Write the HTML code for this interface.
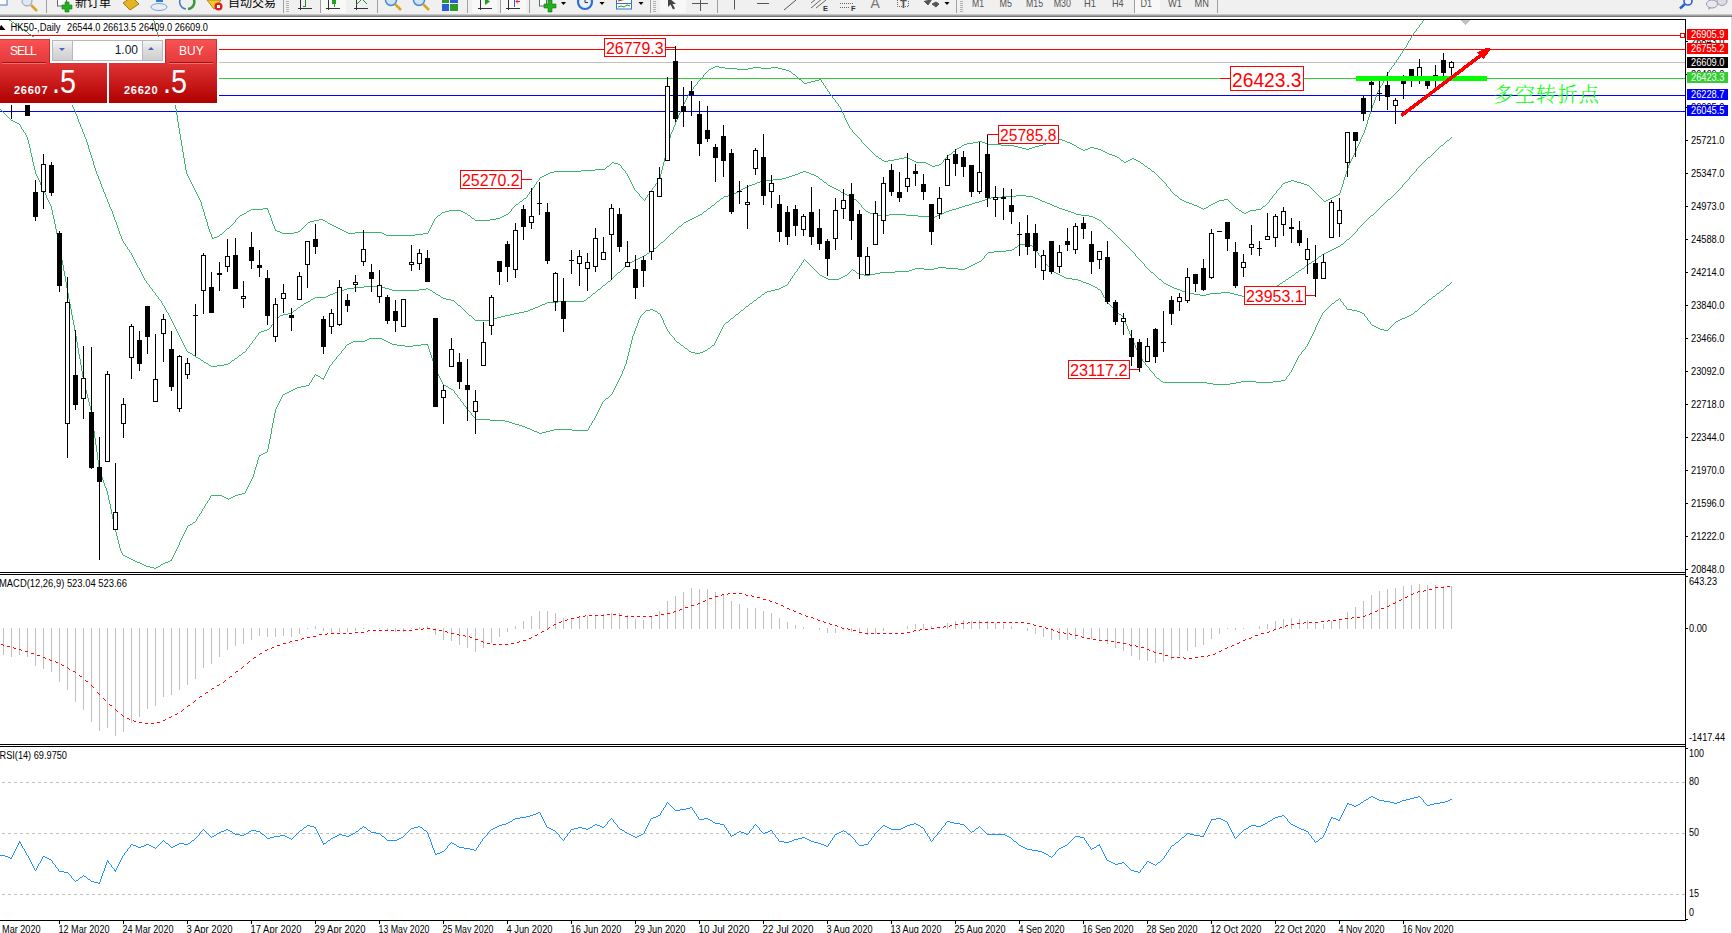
<!DOCTYPE html>
<html><head><meta charset="utf-8"><title>HK50 Daily</title>
<style>
html,body{margin:0;padding:0;background:#fff;}
body{width:1732px;height:933px;overflow:hidden;position:relative;font-family:"Liberation Sans", sans-serif;}
#tb{position:absolute;left:0;top:0;width:1732px;height:14px;background:#f0f0f0;overflow:hidden;}
#tbb{position:absolute;left:0;top:14px;width:1732px;height:3px;background:linear-gradient(#d9d9d9,#a0a0a0 50%,#646464);}
#chart{position:absolute;left:0;top:0;}
#chart text{font-family:"Liberation Sans", sans-serif;}
.tf{position:absolute;top:-4px;font-size:11px;color:#5a5a5a;line-height:11px;}
.sep{position:absolute;top:0;width:1px;height:13px;background:#a0a0a0;}
.cn{position:absolute;top:-3.5px;font-size:12px;line-height:13px;color:#000;font-family:"Liberation Sans","Noto Sans CJK SC",sans-serif;}
#panel{position:absolute;left:0;top:39px;width:217px;height:64px;}
#panel div{position:absolute;box-sizing:border-box;}
.btn{background:linear-gradient(#fa5252,#e23a3a);color:#fff;font-size:12px;}
.px{background:linear-gradient(#e03535,#c81a1a 50%,#b00000);color:#fff;}
</style></head><body>
<div id="tb">
<span class="cn" style="left:75px">新订单</span>
<span class="cn" style="left:228px">自动交易</span>
<div class="sep" style="left:46px"></div>
<div class="sep" style="left:283px"></div>
<div class="sep" style="left:320px"></div>
<div class="sep" style="left:377px"></div>
<div class="sep" style="left:467px"></div>
<div class="sep" style="left:500px"></div>
<div class="sep" style="left:529px"></div>
<div class="sep" style="left:650px"></div>
<div class="sep" style="left:717px"></div>
<div class="sep" style="left:956px"></div>
<div class="sep" style="left:1134px"></div>
<div class="sep" style="left:1217px"></div>
<div style="position:absolute;left:321px;top:0;width:25px;height:13px;background:#f8f8f8"></div>
<div style="position:absolute;left:472px;top:0;width:25px;height:13px;background:#f8f8f8"></div>
<div style="position:absolute;left:501px;top:0;width:25px;height:13px;background:#f8f8f8"></div>
<div style="position:absolute;left:660px;top:0;width:26px;height:13px;background:#f8f8f8"></div>
<div style="position:absolute;left:1135px;top:0;width:25px;height:13px;background:#f8f8f8"></div>
<svg style="position:absolute;left:0;top:0" width="1732" height="14" viewBox="0 0 1732 14">
<rect x="-2" y="-3" width="9" height="8" fill="#fff" stroke="#4a78c8"/>
<circle cx="27" cy="1" r="5" fill="#dfe9f5" stroke="#8c9cb0"/><line x1="31" y1="5" x2="37" y2="11" stroke="#d9a520" stroke-width="2.5"/>
<rect x="57.5" y="-3" width="9" height="9" fill="#fff" stroke="#666"/><path d="M62 5h3v-3h4v3h3v4h-3v3h-4v-3h-3z" fill="#22b022" stroke="#0d7a0d" stroke-width=".6"/>
<polygon points="123,3 132,-3 139,4 130,10" fill="#e6b422" stroke="#a97a10"/>
<rect x="156" y="-3" width="7" height="5" fill="#2b7bd9"/><ellipse cx="159" cy="7" rx="8" ry="3.5" fill="#e8eef8" stroke="#7f9fc8"/>
<path d="M181 -2a7 7 0 0 0 5 11" fill="none" stroke="#4a78c8" stroke-width="1.5"/><path d="M193 -2a7 7 0 0 1 -5 11" fill="none" stroke="#3a9a3a" stroke-width="2.5"/>
<polygon points="207,0 221,0 214,9" fill="#f0c830" stroke="#b08a10"/><circle cx="218.5" cy="6.5" r="4" fill="#e02020"/><rect x="217" y="5" width="3" height="3" fill="#fff"/>
<line x1="287.5" y1="1" x2="287.5" y2="12" stroke="#b0b0b0" stroke-width="3" stroke-dasharray="1 1"/>
<line x1="654.5" y1="1" x2="654.5" y2="12" stroke="#b0b0b0" stroke-width="3" stroke-dasharray="1 1"/>
<line x1="961.5" y1="1" x2="961.5" y2="12" stroke="#b0b0b0" stroke-width="3" stroke-dasharray="1 1"/>
<path d="M300.5 -2V10M298 8.5H312" stroke="#333" fill="none"/><path d="M305.5 -2V6M303 6.5h3" stroke="#2a8a2a" fill="none"/>
<path d="M328.5 -2V10M326 8.5H340" stroke="#333" fill="none"/><rect x="332" y="-2" width="4" height="6" fill="#22a022"/><line x1="334.5" y1="4" x2="334.5" y2="7" stroke="#22a022"/>
<path d="M356.5 -2V10M354 8.5H368" stroke="#333" fill="none"/><path d="M356 5L362 -1L367 4" stroke="#2a8a2a" fill="none"/>
<circle cx="391" cy="0" r="5.5" fill="#cfe2f7" stroke="#4a8ad0" stroke-width="1.5"/><line x1="395" y1="4" x2="401" y2="10" stroke="#d9a520" stroke-width="2.5"/>
<circle cx="419" cy="0" r="5.5" fill="#cfe2f7" stroke="#4a8ad0" stroke-width="1.5"/><line x1="423" y1="4" x2="429" y2="10" stroke="#d9a520" stroke-width="2.5"/>
<rect x="442" y="-2" width="7" height="5" fill="#2d9a2d"/><rect x="450" y="-2" width="8" height="5" fill="#2b5fd0"/><rect x="442" y="4" width="7" height="7" fill="#2b5fd0"/><rect x="450" y="4" width="8" height="7" fill="#2d9a2d"/>
<path d="M480.5 -2V10M478 8.5H492" stroke="#333" fill="none"/><polygon points="485,-2 485,5 490,1.5" fill="#22a022"/>
<path d="M508.5 -2V10M506 8.5H520" stroke="#333" fill="none"/><path d="M514.5 -2V7" stroke="#2b5fd0"/><path d="M520 1.5h-4m2-2l-2 2l2 2" stroke="#e02020" fill="none"/>
<rect x="539.5" y="-3" width="7" height="9" fill="#fff" stroke="#666"/><path d="M544 4h4v-4h4v4h4v4h-4v4h-4v-4h-4z" fill="#22b022" stroke="#0d7a0d" stroke-width=".6"/>
<polygon points="561.0,2 566.0,2 563.5,5" fill="#000"/>
<polygon points="599.5,2 604.5,2 602,5" fill="#000"/>
<polygon points="638.5,2 643.5,2 641,5" fill="#000"/>
<polygon points="944.5,2 949.5,2 947,5" fill="#000"/>
<circle cx="585" cy="2" r="7" fill="#e8f0fa" stroke="#2b6fd0" stroke-width="2.2"/><path d="M585 -2V2.5H588" stroke="#333" fill="none"/>
<rect x="616.5" y="-3" width="15" height="12" fill="#fff" stroke="#3b6fc8"/><path d="M618 1l4-1l4-1l4-1" stroke="#a03020" fill="none"/><path d="M618 7l3-1l3 1l3-2l3 1" stroke="#22a022" fill="none"/><line x1="617" y1="3.5" x2="631" y2="3.5" stroke="#3b6fc8"/>
<polygon points="668,-3 668,7 670.5,4.5 673,9.5 675,8.5 672.5,4 676,4" fill="#444"/>
<path d="M692 3.5H708M700.5 -2V11" stroke="#555" fill="none"/>
<path d="M734.5 -2V9.5" stroke="#555"/><path d="M757 3.5H769" stroke="#555"/><path d="M796 0L784 10" stroke="#555"/>
<path d="M811 8L823 -2M811 3L820 -4M816 8L826 0" stroke="#666" fill="none"/>
<path d="M840 3.5H853M840 7.5H849" stroke="#666" stroke-dasharray="1 1"/>
<path d="M897.5 -2V6.5H908.5V-2" stroke="#666" fill="none" stroke-dasharray="1 1"/>
<path d="M924 1l4 4l4-6M932 4l4 3l3-3l-3-2z" stroke="#555" fill="#555" stroke-width="1"/>
<circle cx="1688" cy="1" r="4" fill="none" stroke="#2b5fd0" stroke-width="1.6"/><line x1="1685" y1="4" x2="1680" y2="8.5" stroke="#2b5fd0" stroke-width="2.5"/>
<ellipse cx="1712" cy="4" rx="5.5" ry="4" fill="#e8e8ee" stroke="#9a9aa8"/><ellipse cx="1722" cy="1" rx="5" ry="4.5" fill="#dcdce6" stroke="#9a9aa8"/><path d="M1709 7l-1 3l3-2z" fill="#9a9aa8"/>
<text x="870.5" y="7.5" font-size="14" fill="#777" font-family='&quot;Liberation Sans&quot;, sans-serif'>A</text>
<text x="900" y="7.5" font-size="11" fill="#555" font-weight="bold" font-family='&quot;Liberation Sans&quot;, sans-serif'>T</text>
<text x="823" y="11" font-size="7.5" fill="#333" font-weight="bold" font-family='&quot;Liberation Sans&quot;, sans-serif'>E</text>
<text x="851" y="11" font-size="7.5" fill="#333" font-weight="bold" font-family='&quot;Liberation Sans&quot;, sans-serif'>F</text>
<text x="972" y="6.8" font-size="11" fill="#555" textLength="12" lengthAdjust="spacingAndGlyphs" font-family='&quot;Liberation Sans&quot;, sans-serif'>M1</text>
<text x="999.6" y="6.8" font-size="11" fill="#555" textLength="12.4" lengthAdjust="spacingAndGlyphs" font-family='&quot;Liberation Sans&quot;, sans-serif'>M5</text>
<text x="1026" y="6.8" font-size="11" fill="#555" textLength="17" lengthAdjust="spacingAndGlyphs" font-family='&quot;Liberation Sans&quot;, sans-serif'>M15</text>
<text x="1053.7" y="6.8" font-size="11" fill="#555" textLength="17.3" lengthAdjust="spacingAndGlyphs" font-family='&quot;Liberation Sans&quot;, sans-serif'>M30</text>
<text x="1084" y="6.8" font-size="11" fill="#555" textLength="12" lengthAdjust="spacingAndGlyphs" font-family='&quot;Liberation Sans&quot;, sans-serif'>H1</text>
<text x="1112" y="6.8" font-size="11" fill="#555" textLength="11.7" lengthAdjust="spacingAndGlyphs" font-family='&quot;Liberation Sans&quot;, sans-serif'>H4</text>
<text x="1140.5" y="6.8" font-size="11" fill="#555" textLength="11.5" lengthAdjust="spacingAndGlyphs" font-family='&quot;Liberation Sans&quot;, sans-serif'>D1</text>
<text x="1168" y="6.8" font-size="11" fill="#555" textLength="14" lengthAdjust="spacingAndGlyphs" font-family='&quot;Liberation Sans&quot;, sans-serif'>W1</text>
<text x="1194.6" y="6.8" font-size="11" fill="#555" textLength="14.4" lengthAdjust="spacingAndGlyphs" font-family='&quot;Liberation Sans&quot;, sans-serif'>MN</text>
</svg>
</div>
<div id="tbb"></div>
<svg id="chart" width="1732" height="933" viewBox="0 0 1732 933">
<g shape-rendering="crispEdges">
<rect x="0" y="35" width="1685" height="1" fill="#ff0000"/>
<rect x="0" y="49" width="1685" height="1" fill="#ff0000"/>
<rect x="0" y="62" width="1685" height="1" fill="#c0c0c0"/>
<rect x="0" y="78" width="1685" height="1" fill="#32cd32"/>
<rect x="0" y="95" width="1685" height="1" fill="#0000ff"/>
<rect x="0" y="111" width="1685" height="1" fill="#0000ff"/>
<path d="M2 782h3v1h-3zM8 782h3v1h-3zM14 782h3v1h-3zM20 782h3v1h-3zM26 782h3v1h-3zM32 782h3v1h-3zM38 782h3v1h-3zM44 782h3v1h-3zM50 782h3v1h-3zM56 782h3v1h-3zM62 782h3v1h-3zM68 782h3v1h-3zM74 782h3v1h-3zM80 782h3v1h-3zM86 782h3v1h-3zM92 782h3v1h-3zM98 782h3v1h-3zM104 782h3v1h-3zM110 782h3v1h-3zM116 782h3v1h-3zM122 782h3v1h-3zM128 782h3v1h-3zM134 782h3v1h-3zM140 782h3v1h-3zM146 782h3v1h-3zM152 782h3v1h-3zM158 782h3v1h-3zM164 782h3v1h-3zM170 782h3v1h-3zM176 782h3v1h-3zM182 782h3v1h-3zM188 782h3v1h-3zM194 782h3v1h-3zM200 782h3v1h-3zM206 782h3v1h-3zM212 782h3v1h-3zM218 782h3v1h-3zM224 782h3v1h-3zM230 782h3v1h-3zM236 782h3v1h-3zM242 782h3v1h-3zM248 782h3v1h-3zM254 782h3v1h-3zM260 782h3v1h-3zM266 782h3v1h-3zM272 782h3v1h-3zM278 782h3v1h-3zM284 782h3v1h-3zM290 782h3v1h-3zM296 782h3v1h-3zM302 782h3v1h-3zM308 782h3v1h-3zM314 782h3v1h-3zM320 782h3v1h-3zM326 782h3v1h-3zM332 782h3v1h-3zM338 782h3v1h-3zM344 782h3v1h-3zM350 782h3v1h-3zM356 782h3v1h-3zM362 782h3v1h-3zM368 782h3v1h-3zM374 782h3v1h-3zM380 782h3v1h-3zM386 782h3v1h-3zM392 782h3v1h-3zM398 782h3v1h-3zM404 782h3v1h-3zM410 782h3v1h-3zM416 782h3v1h-3zM422 782h3v1h-3zM428 782h3v1h-3zM434 782h3v1h-3zM440 782h3v1h-3zM446 782h3v1h-3zM452 782h3v1h-3zM458 782h3v1h-3zM464 782h3v1h-3zM470 782h3v1h-3zM476 782h3v1h-3zM482 782h3v1h-3zM488 782h3v1h-3zM494 782h3v1h-3zM500 782h3v1h-3zM506 782h3v1h-3zM512 782h3v1h-3zM518 782h3v1h-3zM524 782h3v1h-3zM530 782h3v1h-3zM536 782h3v1h-3zM542 782h3v1h-3zM548 782h3v1h-3zM554 782h3v1h-3zM560 782h3v1h-3zM566 782h3v1h-3zM572 782h3v1h-3zM578 782h3v1h-3zM584 782h3v1h-3zM590 782h3v1h-3zM596 782h3v1h-3zM602 782h3v1h-3zM608 782h3v1h-3zM614 782h3v1h-3zM620 782h3v1h-3zM626 782h3v1h-3zM632 782h3v1h-3zM638 782h3v1h-3zM644 782h3v1h-3zM650 782h3v1h-3zM656 782h3v1h-3zM662 782h3v1h-3zM668 782h3v1h-3zM674 782h3v1h-3zM680 782h3v1h-3zM686 782h3v1h-3zM692 782h3v1h-3zM698 782h3v1h-3zM704 782h3v1h-3zM710 782h3v1h-3zM716 782h3v1h-3zM722 782h3v1h-3zM728 782h3v1h-3zM734 782h3v1h-3zM740 782h3v1h-3zM746 782h3v1h-3zM752 782h3v1h-3zM758 782h3v1h-3zM764 782h3v1h-3zM770 782h3v1h-3zM776 782h3v1h-3zM782 782h3v1h-3zM788 782h3v1h-3zM794 782h3v1h-3zM800 782h3v1h-3zM806 782h3v1h-3zM812 782h3v1h-3zM818 782h3v1h-3zM824 782h3v1h-3zM830 782h3v1h-3zM836 782h3v1h-3zM842 782h3v1h-3zM848 782h3v1h-3zM854 782h3v1h-3zM860 782h3v1h-3zM866 782h3v1h-3zM872 782h3v1h-3zM878 782h3v1h-3zM884 782h3v1h-3zM890 782h3v1h-3zM896 782h3v1h-3zM902 782h3v1h-3zM908 782h3v1h-3zM914 782h3v1h-3zM920 782h3v1h-3zM926 782h3v1h-3zM932 782h3v1h-3zM938 782h3v1h-3zM944 782h3v1h-3zM950 782h3v1h-3zM956 782h3v1h-3zM962 782h3v1h-3zM968 782h3v1h-3zM974 782h3v1h-3zM980 782h3v1h-3zM986 782h3v1h-3zM992 782h3v1h-3zM998 782h3v1h-3zM1004 782h3v1h-3zM1010 782h3v1h-3zM1016 782h3v1h-3zM1022 782h3v1h-3zM1028 782h3v1h-3zM1034 782h3v1h-3zM1040 782h3v1h-3zM1046 782h3v1h-3zM1052 782h3v1h-3zM1058 782h3v1h-3zM1064 782h3v1h-3zM1070 782h3v1h-3zM1076 782h3v1h-3zM1082 782h3v1h-3zM1088 782h3v1h-3zM1094 782h3v1h-3zM1100 782h3v1h-3zM1106 782h3v1h-3zM1112 782h3v1h-3zM1118 782h3v1h-3zM1124 782h3v1h-3zM1130 782h3v1h-3zM1136 782h3v1h-3zM1142 782h3v1h-3zM1148 782h3v1h-3zM1154 782h3v1h-3zM1160 782h3v1h-3zM1166 782h3v1h-3zM1172 782h3v1h-3zM1178 782h3v1h-3zM1184 782h3v1h-3zM1190 782h3v1h-3zM1196 782h3v1h-3zM1202 782h3v1h-3zM1208 782h3v1h-3zM1214 782h3v1h-3zM1220 782h3v1h-3zM1226 782h3v1h-3zM1232 782h3v1h-3zM1238 782h3v1h-3zM1244 782h3v1h-3zM1250 782h3v1h-3zM1256 782h3v1h-3zM1262 782h3v1h-3zM1268 782h3v1h-3zM1274 782h3v1h-3zM1280 782h3v1h-3zM1286 782h3v1h-3zM1292 782h3v1h-3zM1298 782h3v1h-3zM1304 782h3v1h-3zM1310 782h3v1h-3zM1316 782h3v1h-3zM1322 782h3v1h-3zM1328 782h3v1h-3zM1334 782h3v1h-3zM1340 782h3v1h-3zM1346 782h3v1h-3zM1352 782h3v1h-3zM1358 782h3v1h-3zM1364 782h3v1h-3zM1370 782h3v1h-3zM1376 782h3v1h-3zM1382 782h3v1h-3zM1388 782h3v1h-3zM1394 782h3v1h-3zM1400 782h3v1h-3zM1406 782h3v1h-3zM1412 782h3v1h-3zM1418 782h3v1h-3zM1424 782h3v1h-3zM1430 782h3v1h-3zM1436 782h3v1h-3zM1442 782h3v1h-3zM1448 782h3v1h-3zM1454 782h3v1h-3zM1460 782h3v1h-3zM1466 782h3v1h-3zM1472 782h3v1h-3zM1478 782h3v1h-3zM1484 782h3v1h-3zM1490 782h3v1h-3zM1496 782h3v1h-3zM1502 782h3v1h-3zM1508 782h3v1h-3zM1514 782h3v1h-3zM1520 782h3v1h-3zM1526 782h3v1h-3zM1532 782h3v1h-3zM1538 782h3v1h-3zM1544 782h3v1h-3zM1550 782h3v1h-3zM1556 782h3v1h-3zM1562 782h3v1h-3zM1568 782h3v1h-3zM1574 782h3v1h-3zM1580 782h3v1h-3zM1586 782h3v1h-3zM1592 782h3v1h-3zM1598 782h3v1h-3zM1604 782h3v1h-3zM1610 782h3v1h-3zM1616 782h3v1h-3zM1622 782h3v1h-3zM1628 782h3v1h-3zM1634 782h3v1h-3zM1640 782h3v1h-3zM1646 782h3v1h-3zM1652 782h3v1h-3zM1658 782h3v1h-3zM1664 782h3v1h-3zM1670 782h3v1h-3zM1676 782h3v1h-3zM1682 782h3v1h-3z" fill="#c0c0c0"/>
<path d="M2 833h3v1h-3zM8 833h3v1h-3zM14 833h3v1h-3zM20 833h3v1h-3zM26 833h3v1h-3zM32 833h3v1h-3zM38 833h3v1h-3zM44 833h3v1h-3zM50 833h3v1h-3zM56 833h3v1h-3zM62 833h3v1h-3zM68 833h3v1h-3zM74 833h3v1h-3zM80 833h3v1h-3zM86 833h3v1h-3zM92 833h3v1h-3zM98 833h3v1h-3zM104 833h3v1h-3zM110 833h3v1h-3zM116 833h3v1h-3zM122 833h3v1h-3zM128 833h3v1h-3zM134 833h3v1h-3zM140 833h3v1h-3zM146 833h3v1h-3zM152 833h3v1h-3zM158 833h3v1h-3zM164 833h3v1h-3zM170 833h3v1h-3zM176 833h3v1h-3zM182 833h3v1h-3zM188 833h3v1h-3zM194 833h3v1h-3zM200 833h3v1h-3zM206 833h3v1h-3zM212 833h3v1h-3zM218 833h3v1h-3zM224 833h3v1h-3zM230 833h3v1h-3zM236 833h3v1h-3zM242 833h3v1h-3zM248 833h3v1h-3zM254 833h3v1h-3zM260 833h3v1h-3zM266 833h3v1h-3zM272 833h3v1h-3zM278 833h3v1h-3zM284 833h3v1h-3zM290 833h3v1h-3zM296 833h3v1h-3zM302 833h3v1h-3zM308 833h3v1h-3zM314 833h3v1h-3zM320 833h3v1h-3zM326 833h3v1h-3zM332 833h3v1h-3zM338 833h3v1h-3zM344 833h3v1h-3zM350 833h3v1h-3zM356 833h3v1h-3zM362 833h3v1h-3zM368 833h3v1h-3zM374 833h3v1h-3zM380 833h3v1h-3zM386 833h3v1h-3zM392 833h3v1h-3zM398 833h3v1h-3zM404 833h3v1h-3zM410 833h3v1h-3zM416 833h3v1h-3zM422 833h3v1h-3zM428 833h3v1h-3zM434 833h3v1h-3zM440 833h3v1h-3zM446 833h3v1h-3zM452 833h3v1h-3zM458 833h3v1h-3zM464 833h3v1h-3zM470 833h3v1h-3zM476 833h3v1h-3zM482 833h3v1h-3zM488 833h3v1h-3zM494 833h3v1h-3zM500 833h3v1h-3zM506 833h3v1h-3zM512 833h3v1h-3zM518 833h3v1h-3zM524 833h3v1h-3zM530 833h3v1h-3zM536 833h3v1h-3zM542 833h3v1h-3zM548 833h3v1h-3zM554 833h3v1h-3zM560 833h3v1h-3zM566 833h3v1h-3zM572 833h3v1h-3zM578 833h3v1h-3zM584 833h3v1h-3zM590 833h3v1h-3zM596 833h3v1h-3zM602 833h3v1h-3zM608 833h3v1h-3zM614 833h3v1h-3zM620 833h3v1h-3zM626 833h3v1h-3zM632 833h3v1h-3zM638 833h3v1h-3zM644 833h3v1h-3zM650 833h3v1h-3zM656 833h3v1h-3zM662 833h3v1h-3zM668 833h3v1h-3zM674 833h3v1h-3zM680 833h3v1h-3zM686 833h3v1h-3zM692 833h3v1h-3zM698 833h3v1h-3zM704 833h3v1h-3zM710 833h3v1h-3zM716 833h3v1h-3zM722 833h3v1h-3zM728 833h3v1h-3zM734 833h3v1h-3zM740 833h3v1h-3zM746 833h3v1h-3zM752 833h3v1h-3zM758 833h3v1h-3zM764 833h3v1h-3zM770 833h3v1h-3zM776 833h3v1h-3zM782 833h3v1h-3zM788 833h3v1h-3zM794 833h3v1h-3zM800 833h3v1h-3zM806 833h3v1h-3zM812 833h3v1h-3zM818 833h3v1h-3zM824 833h3v1h-3zM830 833h3v1h-3zM836 833h3v1h-3zM842 833h3v1h-3zM848 833h3v1h-3zM854 833h3v1h-3zM860 833h3v1h-3zM866 833h3v1h-3zM872 833h3v1h-3zM878 833h3v1h-3zM884 833h3v1h-3zM890 833h3v1h-3zM896 833h3v1h-3zM902 833h3v1h-3zM908 833h3v1h-3zM914 833h3v1h-3zM920 833h3v1h-3zM926 833h3v1h-3zM932 833h3v1h-3zM938 833h3v1h-3zM944 833h3v1h-3zM950 833h3v1h-3zM956 833h3v1h-3zM962 833h3v1h-3zM968 833h3v1h-3zM974 833h3v1h-3zM980 833h3v1h-3zM986 833h3v1h-3zM992 833h3v1h-3zM998 833h3v1h-3zM1004 833h3v1h-3zM1010 833h3v1h-3zM1016 833h3v1h-3zM1022 833h3v1h-3zM1028 833h3v1h-3zM1034 833h3v1h-3zM1040 833h3v1h-3zM1046 833h3v1h-3zM1052 833h3v1h-3zM1058 833h3v1h-3zM1064 833h3v1h-3zM1070 833h3v1h-3zM1076 833h3v1h-3zM1082 833h3v1h-3zM1088 833h3v1h-3zM1094 833h3v1h-3zM1100 833h3v1h-3zM1106 833h3v1h-3zM1112 833h3v1h-3zM1118 833h3v1h-3zM1124 833h3v1h-3zM1130 833h3v1h-3zM1136 833h3v1h-3zM1142 833h3v1h-3zM1148 833h3v1h-3zM1154 833h3v1h-3zM1160 833h3v1h-3zM1166 833h3v1h-3zM1172 833h3v1h-3zM1178 833h3v1h-3zM1184 833h3v1h-3zM1190 833h3v1h-3zM1196 833h3v1h-3zM1202 833h3v1h-3zM1208 833h3v1h-3zM1214 833h3v1h-3zM1220 833h3v1h-3zM1226 833h3v1h-3zM1232 833h3v1h-3zM1238 833h3v1h-3zM1244 833h3v1h-3zM1250 833h3v1h-3zM1256 833h3v1h-3zM1262 833h3v1h-3zM1268 833h3v1h-3zM1274 833h3v1h-3zM1280 833h3v1h-3zM1286 833h3v1h-3zM1292 833h3v1h-3zM1298 833h3v1h-3zM1304 833h3v1h-3zM1310 833h3v1h-3zM1316 833h3v1h-3zM1322 833h3v1h-3zM1328 833h3v1h-3zM1334 833h3v1h-3zM1340 833h3v1h-3zM1346 833h3v1h-3zM1352 833h3v1h-3zM1358 833h3v1h-3zM1364 833h3v1h-3zM1370 833h3v1h-3zM1376 833h3v1h-3zM1382 833h3v1h-3zM1388 833h3v1h-3zM1394 833h3v1h-3zM1400 833h3v1h-3zM1406 833h3v1h-3zM1412 833h3v1h-3zM1418 833h3v1h-3zM1424 833h3v1h-3zM1430 833h3v1h-3zM1436 833h3v1h-3zM1442 833h3v1h-3zM1448 833h3v1h-3zM1454 833h3v1h-3zM1460 833h3v1h-3zM1466 833h3v1h-3zM1472 833h3v1h-3zM1478 833h3v1h-3zM1484 833h3v1h-3zM1490 833h3v1h-3zM1496 833h3v1h-3zM1502 833h3v1h-3zM1508 833h3v1h-3zM1514 833h3v1h-3zM1520 833h3v1h-3zM1526 833h3v1h-3zM1532 833h3v1h-3zM1538 833h3v1h-3zM1544 833h3v1h-3zM1550 833h3v1h-3zM1556 833h3v1h-3zM1562 833h3v1h-3zM1568 833h3v1h-3zM1574 833h3v1h-3zM1580 833h3v1h-3zM1586 833h3v1h-3zM1592 833h3v1h-3zM1598 833h3v1h-3zM1604 833h3v1h-3zM1610 833h3v1h-3zM1616 833h3v1h-3zM1622 833h3v1h-3zM1628 833h3v1h-3zM1634 833h3v1h-3zM1640 833h3v1h-3zM1646 833h3v1h-3zM1652 833h3v1h-3zM1658 833h3v1h-3zM1664 833h3v1h-3zM1670 833h3v1h-3zM1676 833h3v1h-3zM1682 833h3v1h-3z" fill="#c0c0c0"/>
<path d="M2 894h3v1h-3zM8 894h3v1h-3zM14 894h3v1h-3zM20 894h3v1h-3zM26 894h3v1h-3zM32 894h3v1h-3zM38 894h3v1h-3zM44 894h3v1h-3zM50 894h3v1h-3zM56 894h3v1h-3zM62 894h3v1h-3zM68 894h3v1h-3zM74 894h3v1h-3zM80 894h3v1h-3zM86 894h3v1h-3zM92 894h3v1h-3zM98 894h3v1h-3zM104 894h3v1h-3zM110 894h3v1h-3zM116 894h3v1h-3zM122 894h3v1h-3zM128 894h3v1h-3zM134 894h3v1h-3zM140 894h3v1h-3zM146 894h3v1h-3zM152 894h3v1h-3zM158 894h3v1h-3zM164 894h3v1h-3zM170 894h3v1h-3zM176 894h3v1h-3zM182 894h3v1h-3zM188 894h3v1h-3zM194 894h3v1h-3zM200 894h3v1h-3zM206 894h3v1h-3zM212 894h3v1h-3zM218 894h3v1h-3zM224 894h3v1h-3zM230 894h3v1h-3zM236 894h3v1h-3zM242 894h3v1h-3zM248 894h3v1h-3zM254 894h3v1h-3zM260 894h3v1h-3zM266 894h3v1h-3zM272 894h3v1h-3zM278 894h3v1h-3zM284 894h3v1h-3zM290 894h3v1h-3zM296 894h3v1h-3zM302 894h3v1h-3zM308 894h3v1h-3zM314 894h3v1h-3zM320 894h3v1h-3zM326 894h3v1h-3zM332 894h3v1h-3zM338 894h3v1h-3zM344 894h3v1h-3zM350 894h3v1h-3zM356 894h3v1h-3zM362 894h3v1h-3zM368 894h3v1h-3zM374 894h3v1h-3zM380 894h3v1h-3zM386 894h3v1h-3zM392 894h3v1h-3zM398 894h3v1h-3zM404 894h3v1h-3zM410 894h3v1h-3zM416 894h3v1h-3zM422 894h3v1h-3zM428 894h3v1h-3zM434 894h3v1h-3zM440 894h3v1h-3zM446 894h3v1h-3zM452 894h3v1h-3zM458 894h3v1h-3zM464 894h3v1h-3zM470 894h3v1h-3zM476 894h3v1h-3zM482 894h3v1h-3zM488 894h3v1h-3zM494 894h3v1h-3zM500 894h3v1h-3zM506 894h3v1h-3zM512 894h3v1h-3zM518 894h3v1h-3zM524 894h3v1h-3zM530 894h3v1h-3zM536 894h3v1h-3zM542 894h3v1h-3zM548 894h3v1h-3zM554 894h3v1h-3zM560 894h3v1h-3zM566 894h3v1h-3zM572 894h3v1h-3zM578 894h3v1h-3zM584 894h3v1h-3zM590 894h3v1h-3zM596 894h3v1h-3zM602 894h3v1h-3zM608 894h3v1h-3zM614 894h3v1h-3zM620 894h3v1h-3zM626 894h3v1h-3zM632 894h3v1h-3zM638 894h3v1h-3zM644 894h3v1h-3zM650 894h3v1h-3zM656 894h3v1h-3zM662 894h3v1h-3zM668 894h3v1h-3zM674 894h3v1h-3zM680 894h3v1h-3zM686 894h3v1h-3zM692 894h3v1h-3zM698 894h3v1h-3zM704 894h3v1h-3zM710 894h3v1h-3zM716 894h3v1h-3zM722 894h3v1h-3zM728 894h3v1h-3zM734 894h3v1h-3zM740 894h3v1h-3zM746 894h3v1h-3zM752 894h3v1h-3zM758 894h3v1h-3zM764 894h3v1h-3zM770 894h3v1h-3zM776 894h3v1h-3zM782 894h3v1h-3zM788 894h3v1h-3zM794 894h3v1h-3zM800 894h3v1h-3zM806 894h3v1h-3zM812 894h3v1h-3zM818 894h3v1h-3zM824 894h3v1h-3zM830 894h3v1h-3zM836 894h3v1h-3zM842 894h3v1h-3zM848 894h3v1h-3zM854 894h3v1h-3zM860 894h3v1h-3zM866 894h3v1h-3zM872 894h3v1h-3zM878 894h3v1h-3zM884 894h3v1h-3zM890 894h3v1h-3zM896 894h3v1h-3zM902 894h3v1h-3zM908 894h3v1h-3zM914 894h3v1h-3zM920 894h3v1h-3zM926 894h3v1h-3zM932 894h3v1h-3zM938 894h3v1h-3zM944 894h3v1h-3zM950 894h3v1h-3zM956 894h3v1h-3zM962 894h3v1h-3zM968 894h3v1h-3zM974 894h3v1h-3zM980 894h3v1h-3zM986 894h3v1h-3zM992 894h3v1h-3zM998 894h3v1h-3zM1004 894h3v1h-3zM1010 894h3v1h-3zM1016 894h3v1h-3zM1022 894h3v1h-3zM1028 894h3v1h-3zM1034 894h3v1h-3zM1040 894h3v1h-3zM1046 894h3v1h-3zM1052 894h3v1h-3zM1058 894h3v1h-3zM1064 894h3v1h-3zM1070 894h3v1h-3zM1076 894h3v1h-3zM1082 894h3v1h-3zM1088 894h3v1h-3zM1094 894h3v1h-3zM1100 894h3v1h-3zM1106 894h3v1h-3zM1112 894h3v1h-3zM1118 894h3v1h-3zM1124 894h3v1h-3zM1130 894h3v1h-3zM1136 894h3v1h-3zM1142 894h3v1h-3zM1148 894h3v1h-3zM1154 894h3v1h-3zM1160 894h3v1h-3zM1166 894h3v1h-3zM1172 894h3v1h-3zM1178 894h3v1h-3zM1184 894h3v1h-3zM1190 894h3v1h-3zM1196 894h3v1h-3zM1202 894h3v1h-3zM1208 894h3v1h-3zM1214 894h3v1h-3zM1220 894h3v1h-3zM1226 894h3v1h-3zM1232 894h3v1h-3zM1238 894h3v1h-3zM1244 894h3v1h-3zM1250 894h3v1h-3zM1256 894h3v1h-3zM1262 894h3v1h-3zM1268 894h3v1h-3zM1274 894h3v1h-3zM1280 894h3v1h-3zM1286 894h3v1h-3zM1292 894h3v1h-3zM1298 894h3v1h-3zM1304 894h3v1h-3zM1310 894h3v1h-3zM1316 894h3v1h-3zM1322 894h3v1h-3zM1328 894h3v1h-3zM1334 894h3v1h-3zM1340 894h3v1h-3zM1346 894h3v1h-3zM1352 894h3v1h-3zM1358 894h3v1h-3zM1364 894h3v1h-3zM1370 894h3v1h-3zM1376 894h3v1h-3zM1382 894h3v1h-3zM1388 894h3v1h-3zM1394 894h3v1h-3zM1400 894h3v1h-3zM1406 894h3v1h-3zM1412 894h3v1h-3zM1418 894h3v1h-3zM1424 894h3v1h-3zM1430 894h3v1h-3zM1436 894h3v1h-3zM1442 894h3v1h-3zM1448 894h3v1h-3zM1454 894h3v1h-3zM1460 894h3v1h-3zM1466 894h3v1h-3zM1472 894h3v1h-3zM1478 894h3v1h-3zM1484 894h3v1h-3zM1490 894h3v1h-3zM1496 894h3v1h-3zM1502 894h3v1h-3zM1508 894h3v1h-3zM1514 894h3v1h-3zM1520 894h3v1h-3zM1526 894h3v1h-3zM1532 894h3v1h-3zM1538 894h3v1h-3zM1544 894h3v1h-3zM1550 894h3v1h-3zM1556 894h3v1h-3zM1562 894h3v1h-3zM1568 894h3v1h-3zM1574 894h3v1h-3zM1580 894h3v1h-3zM1586 894h3v1h-3zM1592 894h3v1h-3zM1598 894h3v1h-3zM1604 894h3v1h-3zM1610 894h3v1h-3zM1616 894h3v1h-3zM1622 894h3v1h-3zM1628 894h3v1h-3zM1634 894h3v1h-3zM1640 894h3v1h-3zM1646 894h3v1h-3zM1652 894h3v1h-3zM1658 894h3v1h-3zM1664 894h3v1h-3zM1670 894h3v1h-3zM1676 894h3v1h-3zM1682 894h3v1h-3z" fill="#c0c0c0"/>
<path d="M1189 203h3v1h-3zM1213 203h2v1h-2zM904 157h4v1h-4zM1117 157h2v1h-2zM336 227h2v1h-2zM953 151h2v1h-2zM1103 151h2v1h-2zM1148 168h2v1h-2zM807 82h4v1h-4zM967 143h6v1h-6zM985 143h3v1h-3zM1046 143h3v1h-3zM1070 143h2v1h-2zM554 171h27v1h-27zM1152 171h2v1h-2zM884 161h4v1h-4zM914 161h2v1h-2zM1126 161h2v1h-2zM1138 161h2v1h-2zM978 141h4v1h-4zM1053 141h3v1h-3zM1065 141h2v1h-2zM502 216h2v1h-2zM1056 140h3v1h-3zM1062 140h3v1h-3zM957 148h2v1h-2zM1022 148h4v1h-4zM1029 148h3v1h-3zM1079 148h2v1h-2zM1088 148h2v1h-2zM1094 148h4v1h-4zM472 218h2v1h-2zM496 218h4v1h-4zM804 83h3v1h-3zM973 142h5v1h-5zM982 142h3v1h-3zM1049 142h4v1h-4zM1067 142h3v1h-3zM319 219h4v1h-4zM490 219h6v1h-6zM330 224h2v1h-2zM709 69h2v1h-2zM737 69h11v1h-11zM782 69h4v1h-4zM1332 197h2v1h-2zM894 159h5v1h-5zM910 159h2v1h-2zM1130 159h2v1h-2zM1134 159h2v1h-2zM277 231h3v1h-3zM298 231h2v1h-2zM344 231h2v1h-2zM959 147h2v1h-2zM1018 147h4v1h-4zM1032 147h3v1h-3zM1077 147h2v1h-2zM1090 147h4v1h-4zM263 208h5v1h-5zM1201 208h2v1h-2zM1204 208h2v1h-2zM1236 208h2v1h-2zM280 232h2v1h-2zM294 232h4v1h-4zM346 232h2v1h-2zM355 232h27v1h-27zM334 226h2v1h-2zM1180 199h2v1h-2zM1224 199h4v1h-4zM1328 199h2v1h-2zM1283 183h2v1h-2zM1301 183h3v1h-3zM713 67h2v1h-2zM719 67h6v1h-6zM753 67h8v1h-8zM771 67h7v1h-7zM548 173h2v1h-2zM882 160h2v1h-2zM888 160h6v1h-6zM912 160h2v1h-2zM1121 160h2v1h-2zM1128 160h2v1h-2zM1136 160h2v1h-2zM340 229h2v1h-2zM275 230h2v1h-2zM342 230h2v1h-2zM314 220h5v1h-5zM323 220h2v1h-2zM475 220h15v1h-15zM1307 185h2v1h-2zM1304 184h3v1h-3zM308 222h2v1h-2zM711 68h2v1h-2zM725 68h12v1h-12zM748 68h5v1h-5zM761 68h10v1h-10zM778 68h4v1h-4zM1334 196h2v1h-2zM1199 207h2v1h-2zM1206 207h2v1h-2zM251 209h12v1h-12zM1256 209h5v1h-5zM1197 206h2v1h-2zM1263 206h2v1h-2zM962 145h2v1h-2zM1001 145h13v1h-13zM1039 145h4v1h-4zM1074 145h2v1h-2zM249 210h2v1h-2zM449 210h12v1h-12zM1239 210h2v1h-2zM1250 210h6v1h-6zM442 212h3v1h-3zM463 212h2v1h-2zM1242 212h2v1h-2zM1246 212h2v1h-2zM581 170h14v1h-14zM520 201h2v1h-2zM1184 201h2v1h-2zM1217 201h2v1h-2zM1324 201h2v1h-2zM612 162h2v1h-2zM916 162h10v1h-10zM1124 162h2v1h-2zM1182 200h2v1h-2zM1219 200h5v1h-5zM1326 200h2v1h-2zM607 166h2v1h-2zM932 166h3v1h-3zM1145 166h2v1h-2zM546 174h2v1h-2zM540 177h2v1h-2zM214 237h3v1h-3zM876 156h2v1h-2zM1115 156h2v1h-2zM618 164h2v1h-2zM928 164h2v1h-2zM939 164h2v1h-2zM310 221h4v1h-4zM325 221h2v1h-2zM1288 181h3v1h-3zM1294 181h3v1h-3zM500 217h2v1h-2zM1186 202h3v1h-3zM1215 202h2v1h-2zM1014 146h4v1h-4zM1035 146h4v1h-4zM1059 139h3v1h-3zM217 236h2v1h-2zM1285 182h3v1h-3zM1297 182h4v1h-4zM595 169h10v1h-10zM516 204h2v1h-2zM1192 204h2v1h-2zM1211 204h2v1h-2zM282 233h12v1h-12zM348 233h7v1h-7zM382 233h2v1h-2zM423 233h5v1h-5zM542 176h2v1h-2zM964 144h3v1h-3zM988 144h13v1h-13zM1043 144h3v1h-3zM1072 144h2v1h-2zM799 79h2v1h-2zM819 79h2v1h-2zM614 163h4v1h-4zM926 163h2v1h-2zM1141 163h2v1h-2zM227 228h2v1h-2zM338 228h2v1h-2zM332 225h2v1h-2zM1083 150h2v1h-2zM1101 150h2v1h-2zM930 165h2v1h-2zM935 165h4v1h-4zM386 235h29v1h-29zM786 70h3v1h-3zM524 198h2v1h-2zM1330 198h2v1h-2zM1338 194h2v1h-2zM1026 149h3v1h-3zM1081 149h2v1h-2zM1085 149h3v1h-3zM1098 149h3v1h-3zM244 213h2v1h-2zM465 213h2v1h-2zM1244 213h2v1h-2zM811 81h4v1h-4zM550 172h4v1h-4zM1291 180h3v1h-3zM328 223h2v1h-2zM793 74h2v1h-2zM879 158h2v1h-2zM899 158h5v1h-5zM908 158h2v1h-2zM1132 158h2v1h-2zM544 175h2v1h-2zM789 71h2v1h-2zM715 66h4v1h-4zM1107 153h2v1h-2zM949 154h2v1h-2zM1109 154h3v1h-3zM247 211h2v1h-2zM445 211h4v1h-4zM461 211h2v1h-2zM1248 211h2v1h-2zM1194 205h3v1h-3zM1209 205h2v1h-2zM815 80h4v1h-4zM212 238h2v1h-2zM242 214h2v1h-2zM506 214h2v1h-2zM220 234h2v1h-2zM384 234h2v1h-2zM415 234h8v1h-8zM1112 155h3v1h-3zM1105 152h2v1h-2zM1175 195h2v1h-2zM1336 195h2v1h-2zM240 215h2v1h-2zM438 215h2v1h-2zM468 215h2v1h-2zM504 215h2v1h-2zM1340 190h1v3h-1zM1352 157h1v2h-1zM268 210h1v3h-1zM1309 186h1v1h-1zM1364 130h1v3h-1zM430 227h1v2h-1zM172 92h1v4h-1zM1376 94h1v3h-1zM1275 193h1v1h-1zM534 185h1v2h-1zM155 25h1v4h-1zM622 168h1v1h-1zM697 82h1v2h-1zM175 104h1v5h-1zM274 226h1v3h-1zM1368 117h1v3h-1zM192 184h1v2h-1zM210 232h1v2h-1zM664 158h1v4h-1zM1389 70h1v2h-1zM961 146h1v1h-1zM946 157h1v1h-1zM203 209h1v3h-1zM1381 85h1v1h-1zM866 146h1v1h-1zM1356 148h1v3h-1zM176 109h1v6h-1zM159 40h1v4h-1zM434 219h1v2h-1zM644 200h1v1h-1zM848 124h1v2h-1zM178 122h1v6h-1zM821 80h1v2h-1zM829 92h1v2h-1zM237 218h1v1h-1zM684 102h1v2h-1zM169 80h1v4h-1zM206 219h1v3h-1zM941 163h1v1h-1zM1396 60h1v2h-1zM162 52h1v4h-1zM669 138h1v4h-1zM830 94h1v1h-1zM843 113h1v2h-1zM651 190h1v1h-1zM663 162h1v4h-1zM165 64h1v4h-1zM182 146h1v6h-1zM1377 92h1v2h-1zM158 36h1v4h-1zM232 224h1v1h-1zM676 120h1v2h-1zM632 184h1v2h-1zM1154 172h1v1h-1zM1416 29h1v2h-1zM688 94h1v2h-1zM267 209h1v1h-1zM668 142h1v4h-1zM633 186h1v2h-1zM168 76h1v4h-1zM840 107h1v2h-1zM225 230h1v1h-1zM1232 204h1v1h-1zM185 164h1v6h-1zM1372 105h1v3h-1zM1278 189h1v1h-1zM681 109h1v2h-1zM629 178h1v2h-1zM188 176h1v2h-1zM191 182h1v2h-1zM1351 159h1v2h-1zM1363 133h1v2h-1zM271 218h1v3h-1zM537 181h1v1h-1zM184 158h1v6h-1zM304 226h1v1h-1zM1270 199h1v1h-1zM1343 180h1v4h-1zM441 213h1v1h-1zM667 146h1v4h-1zM1167 186h1v1h-1zM1367 120h1v4h-1zM1392 66h1v1h-1zM847 122h1v2h-1zM825 86h1v2h-1zM1316 193h1v1h-1zM1404 48h1v2h-1zM828 91h1v1h-1zM798 78h1v1h-1zM1168 187h1v1h-1zM1371 108h1v3h-1zM857 136h1v1h-1zM1387 73h1v2h-1zM944 159h1v1h-1zM1399 56h1v1h-1zM1419 25h1v2h-1zM161 48h1v4h-1zM858 137h1v1h-1zM154 21h1v4h-1zM301 229h1v1h-1zM696 84h1v1h-1zM636 191h1v1h-1zM1342 184h1v3h-1zM199 198h1v2h-1zM1408 41h1v2h-1zM209 229h1v3h-1zM1281 185h1v2h-1zM1323 200h1v1h-1zM164 60h1v4h-1zM621 166h1v2h-1zM181 140h1v6h-1zM1355 151h1v2h-1zM865 145h1v1h-1zM433 221h1v2h-1zM691 90h1v1h-1zM177 115h1v7h-1zM160 44h1v4h-1zM327 222h1v1h-1zM643 199h1v1h-1zM625 171h1v2h-1zM1160 178h1v1h-1zM1262 207h1v1h-1zM187 174h1v2h-1zM647 195h1v2h-1zM704 74h1v1h-1zM850 128h1v1h-1zM1384 79h1v2h-1zM659 178h1v2h-1zM471 217h1v1h-1zM514 206h1v1h-1zM872 152h1v1h-1zM1123 161h1v1h-1zM675 122h1v3h-1zM1412 35h1v1h-1zM429 229h1v2h-1zM1375 97h1v3h-1zM1238 209h1v1h-1zM687 96h1v2h-1zM832 96h1v2h-1zM699 80h1v1h-1zM157 32h1v4h-1zM635 190h1v1h-1zM509 212h1v1h-1zM680 111h1v2h-1zM198 196h1v2h-1zM1350 161h1v2h-1zM171 88h1v4h-1zM1366 124h1v3h-1zM533 187h1v1h-1zM674 125h1v2h-1zM428 231h1v2h-1zM683 104h1v3h-1zM239 216h1v1h-1zM628 176h1v2h-1zM1269 200h1v2h-1zM650 191h1v2h-1zM662 166h1v4h-1zM1266 204h1v1h-1zM174 100h1v4h-1zM1415 31h1v1h-1zM1395 62h1v1h-1zM846 120h1v2h-1zM1418 27h1v1h-1zM202 206h1v3h-1zM170 84h1v4h-1zM180 134h1v6h-1zM1170 189h1v2h-1zM1144 165h1v1h-1zM201 202h1v4h-1zM1171 191h1v1h-1zM1354 153h1v2h-1zM1402 51h1v2h-1zM631 182h1v2h-1zM536 182h1v2h-1zM634 188h1v2h-1zM861 140h1v2h-1zM211 234h1v3h-1zM1228 200h1v1h-1zM948 155h1v1h-1zM1370 111h1v3h-1zM167 72h1v4h-1zM878 157h1v1h-1zM1346 171h1v3h-1zM624 170h1v1h-1zM670 134h1v4h-1zM1362 135h1v2h-1zM467 214h1v1h-1zM1374 100h1v3h-1zM163 56h1v4h-1zM658 180h1v2h-1zM1386 75h1v2h-1zM436 217h1v1h-1zM1119 158h1v1h-1zM272 221h1v3h-1zM943 160h1v2h-1zM1234 206h1v1h-1zM208 226h1v3h-1zM1341 187h1v3h-1zM1398 57h1v2h-1zM849 126h1v2h-1zM686 98h1v2h-1zM303 227h1v1h-1zM661 170h1v4h-1zM173 96h1v4h-1zM440 214h1v1h-1zM1235 207h1v1h-1zM653 187h1v1h-1zM234 222h1v1h-1zM845 118h1v2h-1zM1280 187h1v1h-1zM853 132h1v1h-1zM827 89h1v2h-1zM231 225h1v1h-1zM666 150h1v4h-1zM432 223h1v2h-1zM1076 146h1v1h-1zM690 91h1v2h-1zM532 188h1v2h-1zM831 95h1v1h-1zM197 194h1v2h-1zM630 180h1v2h-1zM1277 190h1v1h-1zM1310 187h1v1h-1zM1155 173h1v1h-1zM539 178h1v2h-1zM1357 146h1v2h-1zM1311 188h1v1h-1zM665 154h1v4h-1zM183 152h1v6h-1zM222 233h1v1h-1zM1394 63h1v2h-1zM1272 196h1v2h-1zM204 212h1v4h-1zM179 128h1v6h-1zM627 174h1v2h-1zM867 147h1v1h-1zM1140 162h1v1h-1zM1203 209h1v1h-1zM511 209h1v2h-1zM1317 194h1v1h-1zM186 170h1v4h-1zM852 130h1v2h-1zM1162 180h1v1h-1zM207 222h1v4h-1zM1318 195h1v1h-1zM1365 127h1v3h-1zM673 127h1v3h-1zM200 200h1v2h-1zM1345 174h1v3h-1zM166 68h1v4h-1zM1369 114h1v3h-1zM1169 188h1v1h-1zM874 154h1v1h-1zM693 87h1v2h-1zM1349 163h1v2h-1zM835 100h1v2h-1zM1361 137h1v2h-1zM1373 103h1v2h-1zM678 115h1v3h-1zM1385 77h1v2h-1zM859 138h1v1h-1zM875 155h1v1h-1zM527 195h1v2h-1zM660 174h1v4h-1zM229 227h1v1h-1zM637 192h1v1h-1zM706 72h1v1h-1zM860 139h1v1h-1zM638 193h1v1h-1zM649 193h1v1h-1zM156 29h1v3h-1zM701 78h1v1h-1zM1401 53h1v1h-1zM1177 196h1v1h-1zM431 225h1v2h-1zM656 183h1v1h-1zM508 213h1v1h-1zM1151 170h1v1h-1zM873 153h1v1h-1zM833 98h1v1h-1zM1380 86h1v2h-1zM834 99h1v1h-1zM1268 202h1v1h-1zM1271 198h1v1h-1zM1344 177h1v3h-1zM530 191h1v1h-1zM1229 201h1v1h-1zM196 192h1v2h-1zM1348 165h1v3h-1zM672 130h1v2h-1zM1360 139h1v3h-1zM1230 202h1v1h-1zM193 186h1v2h-1zM626 173h1v1h-1zM1161 179h1v1h-1zM1417 28h1v1h-1zM942 162h1v1h-1zM1397 59h1v1h-1zM1120 159h1v1h-1zM1150 169h1v1h-1zM851 129h1v1h-1zM1273 195h1v1h-1zM1279 188h1v1h-1zM844 115h1v3h-1zM518 203h1v1h-1zM795 75h1v1h-1zM1347 168h1v3h-1zM796 76h1v1h-1zM1172 192h1v1h-1zM685 100h1v2h-1zM1388 72h1v1h-1zM305 225h1v1h-1zM862 142h1v1h-1zM945 158h1v1h-1zM1400 54h1v2h-1zM652 188h1v2h-1zM640 196h1v1h-1zM1312 189h1v1h-1zM275 229h1v1h-1zM233 223h1v1h-1zM236 219h1v1h-1zM606 167h1v1h-1zM1313 190h1v1h-1zM610 164h1v1h-1zM270 215h1v3h-1zM522 200h1v1h-1zM1339 193h1v1h-1zM708 70h1v1h-1zM854 133h1v1h-1zM526 197h1v1h-1zM538 180h1v1h-1zM205 216h1v3h-1zM224 231h1v1h-1zM1274 194h1v1h-1zM1359 142h1v2h-1zM703 75h1v2h-1zM836 102h1v1h-1zM952 152h1v1h-1zM1383 81h1v2h-1zM655 184h1v2h-1zM195 190h1v2h-1zM639 194h1v2h-1zM1411 36h1v2h-1zM956 149h1v1h-1zM1420 24h1v1h-1zM1423 20h1v1h-1zM791 72h1v1h-1zM792 73h1v1h-1zM679 113h1v2h-1zM1379 88h1v2h-1zM1282 184h1v1h-1zM529 192h1v2h-1zM1407 43h1v2h-1zM300 230h1v1h-1zM1179 198h1v1h-1zM869 149h1v1h-1zM692 89h1v1h-1zM1319 196h1v1h-1zM671 132h1v2h-1zM1320 197h1v1h-1zM1391 67h1v2h-1zM1156 174h1v1h-1zM194 188h1v2h-1zM1157 175h1v1h-1zM646 197h1v1h-1zM700 79h1v1h-1zM868 148h1v1h-1zM510 211h1v1h-1zM513 207h1v1h-1zM802 81h1v1h-1zM1163 181h1v1h-1zM695 85h1v1h-1zM1164 182h1v1h-1zM307 223h1v1h-1zM1208 206h1v1h-1zM269 213h1v2h-1zM235 220h1v2h-1zM801 80h1v1h-1zM1414 32h1v1h-1zM273 224h1v2h-1zM1403 50h1v1h-1zM1406 45h1v2h-1zM1231 203h1v1h-1zM1178 197h1v1h-1zM1358 144h1v2h-1zM1276 191h1v2h-1zM698 81h1v1h-1zM1410 38h1v2h-1zM437 216h1v1h-1zM947 156h1v1h-1zM1422 21h1v2h-1zM842 111h1v2h-1zM824 85h1v1h-1zM246 212h1v1h-1zM474 219h1v1h-1zM654 186h1v1h-1zM838 104h1v2h-1zM1261 208h1v1h-1zM435 218h1v1h-1zM212 237h1v1h-1zM1241 211h1v1h-1zM153 20h1v1h-1zM605 168h1v1h-1zM839 106h1v1h-1zM1265 205h1v1h-1zM1174 194h1v1h-1zM1378 90h1v2h-1zM1353 155h1v2h-1zM609 165h1v1h-1zM620 165h1v1h-1zM641 197h1v1h-1zM864 144h1v1h-1zM190 180h1v2h-1zM707 71h1v1h-1zM219 235h1v1h-1zM642 198h1v1h-1zM1314 191h1v1h-1zM528 194h1v1h-1zM1166 184h1v2h-1zM1382 83h1v2h-1zM223 232h1v1h-1zM1315 192h1v1h-1zM797 77h1v1h-1zM645 198h1v2h-1zM682 107h1v2h-1zM951 153h1v1h-1zM535 184h1v1h-1zM238 217h1v1h-1zM657 182h1v1h-1zM871 151h1v1h-1zM841 109h1v2h-1zM1173 193h1v1h-1zM1390 69h1v1h-1zM955 150h1v1h-1zM1321 198h1v1h-1zM1413 33h1v2h-1zM302 228h1v1h-1zM863 143h1v1h-1zM1322 199h1v1h-1zM1147 167h1v1h-1zM1158 176h1v1h-1zM226 229h1v1h-1zM1159 177h1v1h-1zM694 86h1v1h-1zM189 178h1v2h-1zM230 226h1v1h-1zM870 150h1v1h-1zM677 118h1v2h-1zM823 83h1v2h-1zM689 93h1v1h-1zM470 216h1v1h-1zM855 134h1v1h-1zM515 205h1v1h-1zM1393 65h1v1h-1zM856 135h1v1h-1zM702 77h1v1h-1zM705 73h1v1h-1zM837 103h1v1h-1zM519 202h1v1h-1zM648 194h1v1h-1zM1143 164h1v1h-1zM523 199h1v1h-1zM512 208h1v1h-1zM803 82h1v1h-1zM306 224h1v1h-1zM623 169h1v1h-1zM531 190h1v1h-1zM1233 205h1v1h-1zM881 159h1v1h-1zM1409 40h1v1h-1zM822 82h1v1h-1zM1421 23h1v1h-1zM1267 203h1v1h-1zM1165 183h1v1h-1zM611 163h1v1h-1zM826 88h1v1h-1zM1405 47h1v1h-1z" fill="#3cb371"/>
<path d="M364 286h18v1h-18zM1170 286h2v1h-2zM1275 286h2v1h-2zM712 205h2v1h-2zM965 205h4v1h-4zM1052 205h2v1h-2zM308 301h2v1h-2zM558 301h26v1h-26zM326 296h2v1h-2zM1242 296h4v1h-4zM333 293h2v1h-2zM593 293h2v1h-2zM1189 293h5v1h-5zM1210 293h11v1h-11zM1230 293h4v1h-4zM1254 293h4v1h-4zM313 298h2v1h-2zM443 298h3v1h-3zM717 201h2v1h-2zM979 201h3v1h-3zM1042 201h3v1h-3zM311 299h2v1h-2zM446 299h5v1h-5zM475 320h15v1h-15zM721 198h2v1h-2zM852 198h2v1h-2zM988 198h3v1h-3zM1035 198h3v1h-3zM1159 279h2v1h-2zM1286 279h2v1h-2zM224 364h4v1h-4zM786 177h3v1h-3zM752 184h3v1h-3zM952 209h4v1h-4zM1062 209h3v1h-3zM698 215h2v1h-2zM875 215h14v1h-14zM906 215h12v1h-12zM937 215h2v1h-2zM1081 215h8v1h-8zM1371 215h2v1h-2zM696 216h2v1h-2zM918 216h11v1h-11zM935 216h2v1h-2zM1089 216h4v1h-4zM267 329h2v1h-2zM982 200h3v1h-3zM1040 200h2v1h-2zM298 307h2v1h-2zM535 307h3v1h-3zM732 194h2v1h-2zM845 194h2v1h-2zM782 178h4v1h-4zM1306 265h2v1h-2zM870 213h3v1h-3zM942 213h2v1h-2zM1074 213h2v1h-2zM451 300h3v1h-3zM584 300h2v1h-2zM524 311h4v1h-4zM16 25h2v1h-2zM1302 268h2v1h-2zM724 196h4v1h-4zM1002 196h14v1h-14zM1026 196h7v1h-7zM340 290h4v1h-4zM392 290h27v1h-27zM430 290h2v1h-2zM1180 290h2v1h-2zM1265 290h2v1h-2zM850 197h2v1h-2zM991 197h11v1h-11zM1033 197h2v1h-2zM315 297h11v1h-11zM441 297h2v1h-2zM588 297h2v1h-2zM1108 228h2v1h-2zM497 317h4v1h-4zM283 314h5v1h-5zM510 314h4v1h-4zM294 310h2v1h-2zM528 310h2v1h-2zM728 195h4v1h-4zM847 195h2v1h-2zM1016 195h10v1h-10zM280 315h3v1h-3zM469 315h2v1h-2zM505 315h5v1h-5zM738 191h2v1h-2zM603 285h2v1h-2zM1168 285h2v1h-2zM1277 285h2v1h-2zM679 226h2v1h-2zM745 187h2v1h-2zM832 187h2v1h-2zM501 316h4v1h-4zM741 189h2v1h-2zM836 189h2v1h-2zM209 365h2v1h-2zM217 365h7v1h-7zM1292 275h2v1h-2zM344 289h3v1h-3zM389 289h3v1h-3zM419 289h7v1h-7zM428 289h2v1h-2zM598 289h2v1h-2zM1177 289h3v1h-3zM1267 289h3v1h-3zM972 203h3v1h-3zM1047 203h3v1h-3zM650 251h2v1h-2zM1328 251h2v1h-2zM704 211h2v1h-2zM866 211h2v1h-2zM946 211h3v1h-3zM1068 211h3v1h-3zM700 214h2v1h-2zM873 214h2v1h-2zM889 214h17v1h-17zM939 214h3v1h-3zM1076 214h5v1h-5zM608 281h2v1h-2zM1283 281h2v1h-2zM198 358h2v1h-2zM235 358h2v1h-2zM490 319h4v1h-4zM12 22h2v1h-2zM690 219h2v1h-2zM1097 219h2v1h-2zM335 292h2v1h-2zM433 292h2v1h-2zM1185 292h4v1h-4zM1221 292h9v1h-9zM1258 292h4v1h-4zM854 199h2v1h-2zM985 199h3v1h-3zM1038 199h2v1h-2zM1388 199h2v1h-2zM686 221h2v1h-2zM1289 277h2v1h-2zM644 255h2v1h-2zM632 261h2v1h-2zM1312 261h2v1h-2zM196 357h2v1h-2zM763 180h10v1h-10zM538 306h2v1h-2zM19 27h2v1h-2zM962 206h3v1h-3zM1054 206h3v1h-3zM1341 244h2v1h-2zM354 287h10v1h-10zM382 287h3v1h-3zM1172 287h2v1h-2zM1273 287h2v1h-2zM291 312h2v1h-2zM519 312h5v1h-5zM747 186h2v1h-2zM830 186h2v1h-2zM1336 247h2v1h-2zM347 288h7v1h-7zM385 288h4v1h-4zM426 288h2v1h-2zM1174 288h3v1h-3zM1270 288h3v1h-3zM190 353h2v1h-2zM773 179h9v1h-9zM820 179h2v1h-2zM618 272h2v1h-2zM1151 272h2v1h-2zM1296 272h2v1h-2zM798 173h2v1h-2zM809 173h2v1h-2zM328 295h2v1h-2zM438 295h2v1h-2zM1200 295h6v1h-6zM1238 295h4v1h-4zM1246 295h4v1h-4zM330 294h3v1h-3zM436 294h2v1h-2zM1194 294h6v1h-6zM1206 294h4v1h-4zM1234 294h4v1h-4zM1250 294h4v1h-4zM975 202h4v1h-4zM1045 202h2v1h-2zM838 190h2v1h-2zM638 258h2v1h-2zM1166 284h2v1h-2zM206 363h2v1h-2zM228 363h2v1h-2zM949 210h3v1h-3zM1065 210h3v1h-3zM642 256h2v1h-2zM1319 256h2v1h-2zM795 174h3v1h-3zM811 174h3v1h-3zM1347 239h2v1h-2zM1164 283h2v1h-2zM1280 283h2v1h-2zM868 212h2v1h-2zM944 212h2v1h-2zM1071 212h3v1h-3zM29 34h2v1h-2zM9 20h2v1h-2zM288 313h3v1h-3zM514 313h5v1h-5zM671 233h2v1h-2zM969 204h3v1h-3zM1050 204h2v1h-2zM688 220h2v1h-2zM1099 220h2v1h-2zM628 263h2v1h-2zM1309 263h2v1h-2zM755 183h2v1h-2zM201 360h2v1h-2zM232 360h2v1h-2zM694 217h2v1h-2zM929 217h6v1h-6zM1093 217h2v1h-2zM630 262h2v1h-2zM757 182h3v1h-3zM824 182h2v1h-2zM304 303h2v1h-2zM545 303h2v1h-2zM1322 254h2v1h-2zM1326 252h2v1h-2zM259 332h2v1h-2zM188 352h2v1h-2zM243 352h2v1h-2zM708 208h2v1h-2zM956 208h3v1h-3zM1059 208h3v1h-3zM734 193h2v1h-2zM843 193h2v1h-2zM749 185h3v1h-3zM828 185h2v1h-2zM789 176h3v1h-3zM816 176h2v1h-2zM211 366h6v1h-6zM959 207h3v1h-3zM1057 207h2v1h-2zM636 259h2v1h-2zM1315 259h2v1h-2zM1338 246h2v1h-2zM22 29h2v1h-2zM743 188h2v1h-2zM834 188h2v1h-2zM337 291h3v1h-3zM1182 291h3v1h-3zM1262 291h3v1h-3zM193 355h2v1h-2zM239 355h2v1h-2zM1330 250h2v1h-2zM634 260h2v1h-2zM736 192h2v1h-2zM841 192h2v1h-2zM792 175h3v1h-3zM814 175h2v1h-2zM684 222h2v1h-2zM306 302h2v1h-2zM547 302h11v1h-11zM32 36h2v1h-2zM301 305h2v1h-2zM458 305h2v1h-2zM540 305h2v1h-2zM760 181h3v1h-3zM542 304h3v1h-3zM647 253h2v1h-2zM1324 253h2v1h-2zM204 362h2v1h-2zM533 308h2v1h-2zM654 248h2v1h-2zM1334 248h2v1h-2zM640 257h2v1h-2zM692 218h2v1h-2zM1095 218h2v1h-2zM803 171h3v1h-3zM1428 157h2v1h-2zM1447 140h2v1h-2zM530 309h3v1h-3zM494 318h3v1h-3zM661 242h2v1h-2zM800 172h3v1h-3zM806 172h3v1h-3zM1332 249h2v1h-2zM264 330h3v1h-3zM1299 270h2v1h-2zM1441 145h2v1h-2zM25 31h2v1h-2zM261 331h3v1h-3zM432 291h1v1h-1zM18 26h1v1h-1zM455 302h1v1h-1zM172 321h1v2h-1zM666 238h1v1h-1zM1416 169h1v2h-1zM55 74h1v2h-1zM87 142h1v3h-1zM1118 237h1v1h-1zM252 341h1v2h-1zM141 272h1v2h-1zM59 81h1v2h-1zM144 278h1v2h-1zM108 202h1v2h-1zM173 323h1v2h-1zM97 174h1v2h-1zM77 116h1v3h-1zM155 293h1v2h-1zM137 265h1v2h-1zM1353 234h1v1h-1zM158 297h1v2h-1zM166 310h1v2h-1zM90 152h1v3h-1zM195 356h1v1h-1zM98 176h1v3h-1zM607 282h1v1h-1zM653 249h1v1h-1zM83 132h1v2h-1zM823 181h1v1h-1zM1279 284h1v1h-1zM159 299h1v1h-1zM91 155h1v3h-1zM1314 260h1v1h-1zM1125 244h1v1h-1zM473 318h1v1h-1zM275 321h1v1h-1zM104 192h1v2h-1zM611 279h1v1h-1zM84 134h1v3h-1zM600 288h1v1h-1zM1147 268h1v1h-1zM1381 206h1v1h-1zM1439 147h1v1h-1zM61 85h1v2h-1zM69 99h1v2h-1zM176 329h1v2h-1zM118 228h1v3h-1zM62 87h1v2h-1zM1365 221h1v1h-1zM147 283h1v1h-1zM716 202h1v1h-1zM51 67h1v2h-1zM1423 162h1v1h-1zM1106 226h1v1h-1zM255 337h1v2h-1zM140 270h1v2h-1zM856 200h1v1h-1zM169 315h1v2h-1zM47 60h1v2h-1zM1107 227h1v1h-1zM819 178h1v1h-1zM1139 259h1v1h-1zM76 114h1v2h-1zM114 217h1v3h-1zM162 303h1v2h-1zM310 300h1v1h-1zM122 239h1v2h-1zM657 246h1v1h-1zM165 308h1v2h-1zM1140 260h1v1h-1zM1124 243h1v1h-1zM1318 257h1v1h-1zM849 196h1v1h-1zM1450 138h1v1h-1zM82 129h1v3h-1zM461 307h1v1h-1zM187 351h1v1h-1zM1291 276h1v1h-1zM14 23h1v1h-1zM1357 229h1v2h-1zM462 308h1v1h-1zM1443 144h1v1h-1zM1295 273h1v1h-1zM57 78h1v2h-1zM93 161h1v4h-1zM65 92h1v2h-1zM1403 184h1v1h-1zM1392 196h1v1h-1zM68 97h1v2h-1zM146 281h1v2h-1zM58 80h1v1h-1zM175 327h1v2h-1zM143 276h1v2h-1zM1132 251h1v1h-1zM107 199h1v3h-1zM136 263h1v2h-1zM587 298h1v1h-1zM157 296h1v1h-1zM1376 211h1v1h-1zM54 72h1v2h-1zM139 268h1v2h-1zM472 317h1v1h-1zM43 53h1v2h-1zM1420 165h1v1h-1zM168 313h1v2h-1zM186 349h1v2h-1zM1154 274h1v1h-1zM161 301h1v2h-1zM625 266h1v1h-1zM840 191h1v1h-1zM125 244h1v2h-1zM1360 226h1v1h-1zM1395 193h1v1h-1zM1415 171h1v1h-1zM1418 167h1v1h-1zM703 212h1v1h-1zM89 149h1v3h-1zM183 343h1v2h-1zM1131 250h1v1h-1zM1113 232h1v1h-1zM208 364h1v1h-1zM64 90h1v2h-1zM142 274h1v2h-1zM28 33h1v1h-1zM1434 152h1v1h-1zM468 314h1v1h-1zM246 349h1v2h-1zM78 119h1v3h-1zM231 361h1v1h-1zM86 139h1v3h-1zM94 165h1v3h-1zM96 171h1v3h-1zM591 295h1v1h-1zM258 333h1v2h-1zM457 304h1v1h-1zM1383 204h1v1h-1zM50 65h1v2h-1zM1352 235h1v1h-1zM1120 239h1v1h-1zM135 261h1v2h-1zM1153 273h1v1h-1zM1407 180h1v1h-1zM1427 158h1v1h-1zM164 306h1v2h-1zM675 230h1v1h-1zM75 111h1v3h-1zM113 214h1v3h-1zM160 300h1v1h-1zM274 322h1v1h-1zM271 325h1v2h-1zM121 236h1v3h-1zM1367 219h1v1h-1zM1402 185h1v2h-1zM1425 160h1v1h-1zM707 209h1v1h-1zM668 236h1v1h-1zM103 189h1v3h-1zM859 203h1v1h-1zM182 341h1v2h-1zM269 328h1v1h-1zM1101 221h1v1h-1zM63 89h1v1h-1zM117 225h1v3h-1zM60 83h1v2h-1zM620 271h1v1h-1zM1150 271h1v1h-1zM149 285h1v2h-1zM53 71h1v1h-1zM1390 198h1v1h-1zM1410 176h1v1h-1zM1301 269h1v1h-1zM56 76h1v2h-1zM1135 254h1v2h-1zM613 277h1v1h-1zM150 287h1v1h-1zM46 58h1v2h-1zM602 286h1v1h-1zM171 319h1v2h-1zM49 63h1v2h-1zM1305 266h1v1h-1zM277 318h1v2h-1zM858 202h1v1h-1zM106 197h1v2h-1zM124 243h1v1h-1zM1317 258h1v1h-1zM42 51h1v2h-1zM1141 261h1v1h-1zM127 247h1v2h-1zM1438 148h1v1h-1zM39 46h1v1h-1zM185 347h1v2h-1zM1343 243h1v1h-1zM1142 262h1v1h-1zM81 127h1v2h-1zM24 30h1v1h-1zM296 309h1v1h-1zM102 187h1v2h-1zM1148 269h1v1h-1zM1127 246h1v1h-1zM1422 163h1v1h-1zM200 359h1v1h-1zM254 339h1v1h-1zM300 306h1v1h-1zM1149 270h1v1h-1zM88 145h1v4h-1zM1119 238h1v1h-1zM659 244h1v1h-1zM1397 191h1v1h-1zM109 204h1v3h-1zM52 69h1v2h-1zM249 345h1v2h-1zM663 241h1v1h-1zM138 267h1v1h-1zM92 158h1v3h-1zM652 250h1v1h-1zM1134 253h1v1h-1zM167 312h1v1h-1zM45 56h1v2h-1zM170 317h1v2h-1zM1445 142h1v1h-1zM134 259h1v2h-1zM38 44h1v2h-1zM1126 245h1v1h-1zM474 319h1v1h-1zM163 305h1v1h-1zM1394 194h1v1h-1zM123 241h1v2h-1zM131 253h1v2h-1zM1449 139h1v1h-1zM95 168h1v3h-1zM184 345h1v2h-1zM181 339h1v2h-1zM237 357h1v1h-1zM80 124h1v3h-1zM272 324h1v1h-1zM257 335h1v1h-1zM1354 233h1v1h-1zM1409 177h1v2h-1zM1378 209h1v1h-1zM101 184h1v3h-1zM683 223h1v1h-1zM241 354h1v1h-1zM1133 252h1v1h-1zM148 284h1v1h-1zM178 333h1v2h-1zM720 199h1v1h-1zM627 264h1v1h-1zM192 354h1v1h-1zM152 289h1v2h-1zM1362 224h1v1h-1zM48 62h1v1h-1zM624 267h1v1h-1zM670 234h1v1h-1zM116 222h1v3h-1zM41 49h1v2h-1zM1417 168h1v1h-1zM126 246h1v1h-1zM44 55h1v1h-1zM674 231h1v1h-1zM1155 275h1v1h-1zM861 205h1v2h-1zM37 42h1v2h-1zM15 24h1v1h-1zM74 109h1v2h-1zM112 211h1v3h-1zM646 254h1v1h-1zM463 309h1v1h-1zM740 190h1v1h-1zM1436 150h1v1h-1zM615 275h1v1h-1zM1385 202h1v1h-1zM245 351h1v1h-1zM248 347h1v1h-1zM1288 278h1v1h-1zM177 331h1v2h-1zM677 228h1v1h-1zM1369 217h1v1h-1zM151 288h1v1h-1zM133 257h1v2h-1zM1401 187h1v1h-1zM1404 183h1v1h-1zM105 194h1v3h-1zM1373 214h1v1h-1zM40 47h1v2h-1zM11 21h1v1h-1zM622 269h1v1h-1zM1144 264h1v2h-1zM130 252h1v1h-1zM73 107h1v2h-1zM34 37h1v1h-1zM1311 262h1v1h-1zM1114 233h1v1h-1zM1412 174h1v1h-1zM119 231h1v3h-1zM665 239h1v1h-1zM180 337h1v2h-1zM276 320h1v1h-1zM612 278h1v1h-1zM658 245h1v1h-1zM279 316h1v1h-1zM1129 248h1v1h-1zM681 225h1v1h-1zM1451 137h1v1h-1zM1103 223h1v1h-1zM1440 146h1v1h-1zM1162 281h1v1h-1zM595 292h1v1h-1zM1121 240h1v1h-1zM1345 241h1v1h-1zM1431 155h1v1h-1zM1136 256h1v1h-1zM129 250h1v2h-1zM132 255h1v2h-1zM1380 207h1v1h-1zM1349 238h1v1h-1zM36 40h1v2h-1zM1424 161h1v1h-1zM435 293h1v1h-1zM115 220h1v2h-1zM711 206h1v1h-1zM860 204h1v1h-1zM256 336h1v1h-1zM1143 263h1v1h-1zM1399 189h1v1h-1zM1364 222h1v1h-1zM715 203h1v1h-1zM1102 222h1v1h-1zM100 181h1v3h-1zM251 343h1v1h-1zM179 335h1v2h-1zM1396 192h1v1h-1zM111 209h1v2h-1zM719 200h1v1h-1zM826 183h1v1h-1zM606 283h1v1h-1zM610 280h1v1h-1zM1321 255h1v1h-1zM128 249h1v1h-1zM35 38h1v2h-1zM72 105h1v2h-1zM1408 179h1v1h-1zM1435 151h1v1h-1zM1128 247h1v1h-1zM465 311h1v1h-1zM626 265h1v1h-1zM1161 280h1v1h-1zM79 122h1v2h-1zM669 235h1v1h-1zM1419 166h1v1h-1zM293 311h1v1h-1zM1368 218h1v1h-1zM656 247h1v1h-1zM1282 282h1v1h-1zM1356 231h1v1h-1zM85 137h1v2h-1zM1359 227h1v1h-1zM153 291h1v1h-1zM1414 172h1v1h-1zM1294 274h1v1h-1zM154 292h1v1h-1zM21 28h1v1h-1zM1387 200h1v1h-1zM1298 271h1v1h-1zM649 252h1v1h-1zM862 207h1v1h-1zM1384 203h1v1h-1zM120 234h1v2h-1zM822 180h1v1h-1zM1411 175h1v1h-1zM586 299h1v1h-1zM1375 212h1v1h-1zM464 310h1v1h-1zM863 208h1v1h-1zM110 207h1v2h-1zM1146 267h1v1h-1zM676 229h1v1h-1zM1116 235h1v1h-1zM590 296h1v1h-1zM1406 181h1v1h-1zM1340 245h1v1h-1zM723 197h1v1h-1zM1426 159h1v1h-1zM99 179h1v2h-1zM1430 156h1v1h-1zM270 327h1v1h-1zM617 273h1v1h-1zM621 270h1v1h-1zM1156 276h1v1h-1zM667 237h1v1h-1zM1391 197h1v1h-1zM1145 266h1v1h-1zM1157 277h1v1h-1zM614 276h1v1h-1zM660 243h1v1h-1zM1446 141h1v1h-1zM278 317h1v1h-1zM71 103h1v2h-1zM247 348h1v1h-1zM250 344h1v1h-1zM597 290h1v1h-1zM1351 236h1v1h-1zM1115 234h1v1h-1zM1433 153h1v1h-1zM230 362h1v1h-1zM1104 224h1v1h-1zM601 287h1v1h-1zM1344 242h1v1h-1zM1304 267h1v1h-1zM273 323h1v1h-1zM1105 225h1v1h-1zM234 359h1v1h-1zM297 308h1v1h-1zM1137 257h1v1h-1zM1379 208h1v1h-1zM702 213h1v1h-1zM818 177h1v1h-1zM1138 258h1v1h-1zM1122 241h1v1h-1zM1366 220h1v1h-1zM31 35h1v1h-1zM156 295h1v1h-1zM706 210h1v1h-1zM471 316h1v1h-1zM1123 242h1v1h-1zM1363 223h1v1h-1zM1398 190h1v1h-1zM1421 164h1v1h-1zM664 240h1v1h-1zM710 207h1v1h-1zM253 340h1v1h-1zM70 101h1v2h-1zM1382 205h1v1h-1zM1130 249h1v1h-1zM605 284h1v1h-1zM174 325h1v2h-1zM440 296h1v1h-1zM1308 264h1v1h-1zM1444 143h1v1h-1zM1163 282h1v1h-1zM238 356h1v1h-1zM1355 232h1v1h-1zM1413 173h1v1h-1zM242 353h1v1h-1zM1437 149h1v1h-1zM678 227h1v1h-1zM203 361h1v1h-1zM682 224h1v1h-1zM714 204h1v1h-1zM303 304h1v1h-1zM460 306h1v1h-1zM1112 231h1v1h-1zM66 94h1v2h-1zM827 184h1v1h-1zM1361 225h1v1h-1zM623 268h1v1h-1zM466 312h1v1h-1zM67 96h1v1h-1zM1358 228h1v1h-1zM1393 195h1v1h-1zM27 32h1v1h-1zM467 313h1v1h-1zM616 274h1v1h-1zM1285 280h1v1h-1zM145 280h1v1h-1zM456 303h1v1h-1zM1386 201h1v1h-1zM1377 210h1v1h-1zM857 201h1v1h-1zM592 294h1v1h-1zM1346 240h1v1h-1zM1158 278h1v1h-1zM1110 229h1v1h-1zM1370 216h1v1h-1zM1111 230h1v1h-1zM596 291h1v1h-1zM1350 237h1v1h-1zM1405 182h1v1h-1zM1374 213h1v1h-1zM1432 154h1v1h-1zM864 209h1v1h-1zM673 232h1v1h-1zM454 301h1v1h-1zM865 210h1v1h-1zM1117 236h1v1h-1zM1400 188h1v1h-1z" fill="#3cb371"/>
<path d="M133 560h2v1h-2zM170 560h2v1h-2zM826 278h2v1h-2zM839 278h2v1h-2zM1066 278h6v1h-6zM369 338h13v1h-13zM349 343h2v1h-2zM390 343h2v1h-2zM306 385h3v1h-3zM444 385h2v1h-2zM532 430h2v1h-2zM550 430h4v1h-4zM572 430h16v1h-16zM1163 382h44v1h-44zM1236 382h5v1h-5zM1256 382h17v1h-17zM261 454h2v1h-2zM365 340h2v1h-2zM384 340h2v1h-2zM1207 383h6v1h-6zM1230 383h6v1h-6zM1400 319h2v1h-2zM1006 250h6v1h-6zM859 274h5v1h-5zM870 274h5v1h-5zM1058 274h2v1h-2zM519 425h3v1h-3zM1409 315h2v1h-2zM1161 381h2v1h-2zM1241 381h15v1h-15zM1273 381h8v1h-8zM746 306h2v1h-2zM758 297h2v1h-2zM347 344h2v1h-2zM392 344h5v1h-5zM421 344h7v1h-7zM1360 312h2v1h-2zM695 353h5v1h-5zM750 303h2v1h-2zM1332 303h2v1h-2zM530 429h2v1h-2zM554 429h18v1h-18zM146 566h4v1h-4zM158 566h2v1h-2zM397 345h8v1h-8zM413 345h8v1h-8zM681 345h2v1h-2zM712 345h2v1h-2zM238 494h4v1h-4zM211 495h11v1h-11zM235 495h3v1h-3zM969 266h2v1h-2zM353 341h12v1h-12zM386 341h2v1h-2zM137 562h3v1h-3zM165 562h3v1h-3zM912 269h3v1h-3zM924 269h10v1h-10zM958 269h7v1h-7zM775 289h4v1h-4zM1098 289h2v1h-2zM537 432h2v1h-2zM542 432h4v1h-4zM1396 321h2v1h-2zM915 268h9v1h-9zM934 268h4v1h-4zM946 268h12v1h-12zM965 268h2v1h-2zM655 311h2v1h-2zM1357 311h3v1h-3zM1415 311h2v1h-2zM726 322h2v1h-2zM1374 326h2v1h-2zM1423 304h2v1h-2zM1213 384h17v1h-17zM1384 330h4v1h-4zM765 292h2v1h-2zM351 342h2v1h-2zM388 342h2v1h-2zM677 342h2v1h-2zM767 291h4v1h-4zM367 339h2v1h-2zM382 339h2v1h-2zM1372 325h2v1h-2zM527 428h3v1h-3zM994 251h12v1h-12zM762 294h2v1h-2zM142 564h2v1h-2zM161 564h2v1h-2zM705 350h2v1h-2zM1081 281h2v1h-2zM975 263h2v1h-2zM646 310h4v1h-4zM653 310h2v1h-2zM741 310h2v1h-2zM1352 310h5v1h-5zM971 265h2v1h-2zM150 567h4v1h-4zM156 567h2v1h-2zM895 271h14v1h-14zM1052 271h2v1h-2zM853 270h2v1h-2zM909 270h3v1h-3zM287 392h2v1h-2zM1433 296h2v1h-2zM405 346h8v1h-8zM476 419h14v1h-14zM824 277h2v1h-2zM841 277h2v1h-2zM1064 277h2v1h-2zM1020 244h6v1h-6zM226 498h2v1h-2zM229 498h2v1h-2zM1376 327h2v1h-2zM822 276h2v1h-2zM843 276h2v1h-2zM1062 276h2v1h-2zM1380 329h4v1h-4zM828 279h11v1h-11zM1072 279h6v1h-6zM140 563h2v1h-2zM163 563h2v1h-2zM650 309h3v1h-3zM1347 309h5v1h-5zM144 565h2v1h-2zM658 313h2v1h-2zM1362 313h2v1h-2zM754 300h2v1h-2zM1336 300h2v1h-2zM771 290h4v1h-4zM1441 290h2v1h-2zM188 525h2v1h-2zM1086 283h3v1h-3zM505 421h4v1h-4zM1405 317h2v1h-2zM224 497h2v1h-2zM231 497h2v1h-2zM857 273h2v1h-2zM875 273h5v1h-5zM1056 273h2v1h-2zM321 378h3v1h-3zM1157 378h2v1h-2zM490 420h15v1h-15zM509 422h3v1h-3zM1407 316h2v1h-2zM785 285h2v1h-2zM1091 285h2v1h-2zM1447 285h2v1h-2zM691 352h4v1h-4zM700 352h3v1h-3zM979 261h2v1h-2zM539 433h3v1h-3zM820 275h2v1h-2zM845 275h2v1h-2zM864 275h6v1h-6zM1060 275h2v1h-2zM283 394h2v1h-2zM1012 249h2v1h-2zM242 493h3v1h-3zM318 376h2v1h-2zM263 453h2v1h-2zM259 455h2v1h-2zM534 431h3v1h-3zM546 431h4v1h-4zM938 267h8v1h-8zM967 267h2v1h-2zM880 272h15v1h-15zM1054 272h2v1h-2zM1018 245h2v1h-2zM1026 245h6v1h-6zM316 375h2v1h-2zM289 391h2v1h-2zM1378 328h2v1h-2zM515 424h4v1h-4zM781 287h2v1h-2zM1095 287h2v1h-2zM1083 282h3v1h-3zM685 348h2v1h-2zM708 348h2v1h-2zM783 286h2v1h-2zM1093 286h2v1h-2zM291 390h2v1h-2zM129 558h2v1h-2zM131 559h2v1h-2zM973 264h2v1h-2zM222 496h2v1h-2zM233 496h2v1h-2zM1398 320h2v1h-2zM293 389h2v1h-2zM451 389h2v1h-2zM736 314h2v1h-2zM1119 314h2v1h-2zM1411 314h2v1h-2zM731 318h2v1h-2zM1402 318h3v1h-3zM512 423h3v1h-3zM193 522h2v1h-2zM1429 299h2v1h-2zM285 393h2v1h-2zM190 524h2v1h-2zM606 398h2v1h-2zM127 557h2v1h-2zM301 386h5v1h-5zM446 386h2v1h-2zM1089 284h2v1h-2zM1437 293h2v1h-2zM1281 380h4v1h-4zM977 262h2v1h-2zM689 351h2v1h-2zM703 351h2v1h-2zM522 426h3v1h-3zM125 556h2v1h-2zM988 252h6v1h-6zM123 555h2v1h-2zM1015 247h2v1h-2zM525 427h2v1h-2zM779 288h2v1h-2zM1078 280h3v1h-3zM297 387h4v1h-4zM265 452h2v1h-2zM135 561h2v1h-2zM168 561h2v1h-2zM17 123h2v1h-2zM11 120h2v1h-2zM295 388h2v1h-2zM449 388h2v1h-2zM15 122h2v1h-2zM13 121h2v1h-2zM154 568h2v1h-2zM65 276h1v6h-1zM460 399h1v2h-1zM628 352h1v4h-1zM1131 336h1v3h-1zM605 399h1v1h-1zM58 238h1v5h-1zM663 320h1v3h-1zM120 548h1v3h-1zM268 444h1v5h-1zM671 335h1v1h-1zM33 162h1v4h-1zM1134 343h1v2h-1zM715 341h1v2h-1zM245 491h1v2h-1zM41 185h1v2h-1zM111 509h1v5h-1zM664 323h1v2h-1zM44 191h1v2h-1zM121 551h1v2h-1zM54 219h1v5h-1zM1313 332h1v2h-1zM71 309h1v6h-1zM77 342h1v6h-1zM273 418h1v5h-1zM633 334h1v2h-1zM434 364h1v2h-1zM51 206h1v4h-1zM1443 289h1v1h-1zM627 356h1v4h-1zM623 369h1v2h-1zM80 359h1v6h-1zM197 517h1v2h-1zM603 401h1v1h-1zM798 268h1v1h-1zM817 272h1v1h-1zM174 553h1v2h-1zM637 323h1v3h-1zM1370 322h1v2h-1zM64 271h1v5h-1zM97 452h1v8h-1zM636 326h1v2h-1zM205 504h1v2h-1zM30 148h1v5h-1zM851 270h1v1h-1zM735 315h1v1h-1zM1393 324h1v1h-1zM616 384h1v2h-1zM440 378h1v2h-1zM67 288h1v5h-1zM272 423h1v5h-1zM91 410h1v6h-1zM323 379h1v1h-1zM70 304h1v5h-1zM1104 297h1v1h-1zM257 460h1v4h-1zM739 312h1v1h-1zM632 336h1v4h-1zM1133 341h1v2h-1zM441 380h1v2h-1zM61 254h1v6h-1zM87 394h1v4h-1zM93 423h1v8h-1zM644 312h1v1h-1zM1312 334h1v2h-1zM1328 307h1v1h-1zM1301 352h1v2h-1zM599 408h1v2h-1zM1304 349h1v1h-1zM104 483h1v3h-1zM173 555h1v2h-1zM43 189h1v2h-1zM1105 298h1v2h-1zM719 333h1v2h-1zM1148 367h1v1h-1zM666 327h1v2h-1zM463 403h1v2h-1zM185 530h1v2h-1zM743 309h1v1h-1zM1340 299h1v2h-1zM1108 303h1v1h-1zM1325 310h1v1h-1zM328 368h1v2h-1zM1037 252h1v1h-1zM331 364h1v1h-1zM201 511h1v2h-1zM816 271h1v1h-1zM612 392h1v2h-1zM430 352h1v3h-1zM1101 291h1v2h-1zM1320 317h1v2h-1zM114 523h1v5h-1zM624 366h1v3h-1zM57 234h1v4h-1zM107 491h1v4h-1zM178 545h1v2h-1zM789 281h1v1h-1zM74 325h1v6h-1zM1308 342h1v2h-1zM40 182h1v3h-1zM256 464h1v3h-1zM448 387h1v1h-1zM801 263h1v2h-1zM100 472h1v3h-1zM84 382h1v4h-1zM433 361h1v3h-1zM113 519h1v4h-1zM251 479h1v2h-1zM110 504h1v5h-1zM473 416h1v1h-1zM327 370h1v2h-1zM983 258h1v1h-1zM1369 321h1v1h-1zM1126 324h1v2h-1zM339 354h1v1h-1zM255 467h1v3h-1zM1147 366h1v1h-1zM106 488h1v3h-1zM1339 298h1v1h-1zM474 417h1v1h-1zM267 449h1v3h-1zM73 320h1v5h-1zM177 547h1v2h-1zM99 467h1v5h-1zM90 406h1v4h-1zM280 399h1v2h-1zM1100 290h1v1h-1zM1426 302h1v1h-1zM83 377h1v5h-1zM437 372h1v2h-1zM1343 303h1v2h-1zM117 536h1v4h-1zM247 487h1v2h-1zM631 340h1v4h-1zM315 374h1v1h-1zM622 371h1v3h-1zM76 336h1v6h-1zM1041 257h1v2h-1zM1419 308h1v1h-1zM63 265h1v6h-1zM665 325h1v2h-1zM462 402h1v1h-1zM635 328h1v3h-1zM60 248h1v6h-1zM1047 265h1v1h-1zM1388 329h1v1h-1zM89 402h1v4h-1zM639 318h1v2h-1zM96 445h1v7h-1zM466 407h1v2h-1zM1048 266h1v1h-1zM116 532h1v4h-1zM688 350h1v1h-1zM29 144h1v4h-1zM66 282h1v6h-1zM723 325h1v2h-1zM1323 312h1v1h-1zM311 380h1v2h-1zM618 380h1v2h-1zM184 532h1v2h-1zM1115 310h1v1h-1zM259 456h1v1h-1zM1287 376h1v1h-1zM3 112h1v1h-1zM271 428h1v6h-1zM443 384h1v1h-1zM172 557h1v2h-1zM1125 321h1v3h-1zM32 157h1v5h-1zM1036 251h1v1h-1zM35 170h1v4h-1zM1107 302h1v1h-1zM1295 362h1v2h-1zM86 390h1v4h-1zM53 215h1v4h-1zM103 480h1v3h-1zM28 140h1v4h-1zM1307 344h1v2h-1zM1391 326h1v1h-1zM56 229h1v5h-1zM1319 319h1v2h-1zM46 195h1v3h-1zM1017 246h1v1h-1zM707 349h1v1h-1zM436 369h1v3h-1zM788 282h1v2h-1zM1103 295h1v2h-1zM1342 302h1v1h-1zM334 360h1v1h-1zM180 540h1v2h-1zM1132 339h1v2h-1zM797 269h1v2h-1zM429 349h1v3h-1zM10 119h1v1h-1zM1151 371h1v1h-1zM42 187h1v2h-1zM711 346h1v1h-1zM192 523h1v1h-1zM1299 355h1v1h-1zM204 506h1v2h-1zM684 347h1v1h-1zM250 481h1v2h-1zM1114 309h1v1h-1zM662 318h1v2h-1zM196 519h1v2h-1zM22 129h1v1h-1zM119 544h1v4h-1zM792 276h1v2h-1zM673 337h1v1h-1zM69 299h1v5h-1zM718 335h1v2h-1zM804 259h1v1h-1zM730 319h1v1h-1zM79 354h1v5h-1zM115 528h1v4h-1zM598 410h1v2h-1zM279 401h1v2h-1zM342 350h1v1h-1zM82 371h1v6h-1zM345 346h1v2h-1zM734 316h1v1h-1zM92 416h1v7h-1zM59 243h1v5h-1zM1140 356h1v2h-1zM246 489h1v2h-1zM200 513h1v1h-1zM109 500h1v4h-1zM630 344h1v4h-1zM1290 372h1v1h-1zM314 375h1v2h-1zM50 204h1v2h-1zM270 434h1v5h-1zM1150 370h1v1h-1zM160 565h1v1h-1zM738 313h1v1h-1zM714 343h1v2h-1zM337 356h1v1h-1zM634 331h1v3h-1zM1106 300h1v2h-1zM811 266h1v1h-1zM683 346h1v1h-1zM52 210h1v5h-1zM274 413h1v5h-1zM454 391h1v2h-1zM95 438h1v7h-1zM45 193h1v2h-1zM1346 307h1v2h-1zM1039 255h1v1h-1zM1445 287h1v1h-1zM602 402h1v2h-1zM722 327h1v2h-1zM428 346h1v3h-1zM254 470h1v4h-1zM626 360h1v4h-1zM1040 256h1v1h-1zM465 406h1v1h-1zM21 127h1v2h-1zM672 336h1v1h-1zM1449 284h1v1h-1zM800 265h1v1h-1zM1330 305h1v1h-1zM1395 322h1v1h-1zM1050 268h1v2h-1zM258 457h1v3h-1zM661 316h1v2h-1zM760 296h1v1h-1zM745 307h1v1h-1zM39 180h1v2h-1zM1311 336h1v2h-1zM1334 302h1v1h-1zM85 386h1v4h-1zM621 374h1v2h-1zM27 137h1v3h-1zM764 293h1v1h-1zM749 304h1v1h-1zM432 358h1v3h-1zM112 514h1v5h-1zM275 409h1v4h-1zM1421 306h1v1h-1zM1338 299h1v1h-1zM105 486h1v2h-1zM1327 308h1v1h-1zM679 343h1v1h-1zM179 542h1v3h-1zM1139 354h1v2h-1zM753 301h1v1h-1zM1425 303h1v1h-1zM75 331h1v5h-1zM638 320h1v3h-1zM629 348h1v4h-1zM49 202h1v2h-1zM1414 312h1v1h-1zM1298 356h1v2h-1zM72 315h1v5h-1zM203 508h1v1h-1zM1102 293h1v2h-1zM98 460h1v7h-1zM439 376h1v2h-1zM1121 315h1v1h-1zM118 540h1v4h-1zM252 477h1v2h-1zM1322 313h1v2h-1zM31 153h1v4h-1zM617 382h1v2h-1zM597 412h1v2h-1zM791 278h1v1h-1zM717 337h1v2h-1zM183 534h1v2h-1zM609 396h1v1h-1zM803 260h1v2h-1zM78 348h1v6h-1zM464 405h1v1h-1zM589 426h1v2h-1zM102 477h1v3h-1zM62 260h1v5h-1zM88 398h1v4h-1zM341 351h1v2h-1zM207 501h1v2h-1zM210 496h1v2h-1zM435 366h1v3h-1zM1294 364h1v2h-1zM176 549h1v2h-1zM108 495h1v5h-1zM199 514h1v2h-1zM1049 267h1v1h-1zM818 273h1v1h-1zM1286 377h1v2h-1zM1318 321h1v2h-1zM81 365h1v6h-1zM269 439h1v5h-1zM593 420h1v1h-1zM1428 300h1v1h-1zM336 357h1v2h-1zM1364 314h1v2h-1zM282 395h1v2h-1zM1142 359h1v2h-1zM68 293h1v6h-1zM94 431h1v7h-1zM431 355h1v3h-1zM1432 297h1v1h-1zM1127 326h1v3h-1zM34 166h1v4h-1zM249 483h1v2h-1zM475 418h1v1h-1zM1293 366h1v2h-1zM601 404h1v2h-1zM848 273h1v1h-1zM1390 327h1v1h-1zM453 390h1v1h-1zM5 114h1v1h-1zM187 526h1v2h-1zM1317 323h1v2h-1zM1149 368h1v2h-1zM312 378h1v2h-1zM1038 253h1v2h-1zM1109 304h1v1h-1zM6 115h1v1h-1zM438 374h1v2h-1zM55 224h1v5h-1zM457 395h1v2h-1zM641 315h1v1h-1zM1124 319h1v2h-1zM278 403h1v2h-1zM20 125h1v2h-1zM344 348h1v1h-1zM23 130h1v2h-1zM1310 338h1v2h-1zM1345 306h1v1h-1zM1042 259h1v1h-1zM674 338h1v2h-1zM725 323h1v1h-1zM855 271h1v1h-1zM1289 373h1v2h-1zM620 376h1v2h-1zM24 132h1v1h-1zM675 340h1v1h-1zM856 272h1v1h-1zM729 320h1v1h-1zM1116 311h1v1h-1zM985 255h1v1h-1zM660 314h1v2h-1zM320 377h1v1h-1zM253 474h1v3h-1zM277 405h1v2h-1zM1297 358h1v2h-1zM1306 346h1v1h-1zM1138 352h1v2h-1zM721 329h1v2h-1zM1436 294h1v1h-1zM1321 315h1v2h-1zM1141 358h1v1h-1zM596 414h1v2h-1zM48 200h1v2h-1zM787 284h1v1h-1zM4 113h1v1h-1zM182 536h1v2h-1zM1451 282h1v1h-1zM799 266h1v2h-1zM1440 291h1v1h-1zM1344 305h1v1h-1zM794 273h1v2h-1zM206 503h1v1h-1zM195 521h1v1h-1zM26 135h1v2h-1zM740 311h1v1h-1zM592 421h1v2h-1zM615 386h1v2h-1zM19 124h1v1h-1zM467 409h1v1h-1zM1329 306h1v1h-1zM1130 334h1v2h-1zM427 345h1v1h-1zM281 397h1v2h-1zM744 308h1v1h-1zM202 509h1v2h-1zM248 485h1v2h-1zM805 260h1v1h-1zM790 279h1v2h-1zM716 339h1v2h-1zM1097 288h1v1h-1zM588 428h1v2h-1zM611 394h1v1h-1zM37 176h1v2h-1zM806 261h1v1h-1zM1137 350h1v2h-1zM1145 363h1v2h-1zM47 198h1v2h-1zM604 400h1v1h-1zM456 394h1v1h-1zM1123 317h1v2h-1zM812 267h1v1h-1zM1034 249h1v1h-1zM1152 372h1v1h-1zM608 397h1v1h-1zM813 268h1v1h-1zM228 499h1v1h-1zM1045 262h1v2h-1zM645 311h1v1h-1zM1129 331h1v3h-1zM600 406h1v2h-1zM1292 368h1v2h-1zM850 271h1v1h-1zM720 331h1v2h-1zM1392 325h1v1h-1zM186 528h1v2h-1zM1051 270h1v1h-1zM1159 379h1v1h-1zM640 316h1v2h-1zM1300 354h1v1h-1zM1033 247h1v2h-1zM1316 325h1v2h-1zM1 110h1v1h-1zM619 378h1v2h-1zM455 393h1v1h-1zM209 498h1v2h-1zM984 256h1v2h-1zM987 253h1v1h-1zM1122 316h1v1h-1zM1296 360h1v2h-1zM326 372h1v2h-1zM1285 379h1v1h-1zM25 133h1v2h-1zM1288 375h1v1h-1zM1427 301h1v1h-1zM595 416h1v2h-1zM1112 307h1v1h-1zM335 359h1v1h-1zM1155 376h1v1h-1zM181 538h1v2h-1zM1014 248h1v1h-1zM1431 298h1v1h-1zM1420 307h1v1h-1zM819 274h1v1h-1zM36 174h1v2h-1zM680 344h1v1h-1zM0 109h1v1h-1zM757 298h1v1h-1zM591 423h1v2h-1zM1143 361h1v1h-1zM1418 309h1v1h-1zM1324 311h1v1h-1zM1136 348h1v2h-1zM1144 362h1v1h-1zM793 275h1v1h-1zM1154 374h1v2h-1zM1315 327h1v3h-1zM1110 305h1v1h-1zM7 116h1v1h-1zM276 407h1v2h-1zM310 382h1v1h-1zM1111 306h1v1h-1zM982 259h1v1h-1zM1446 286h1v1h-1zM338 355h1v1h-1zM469 411h1v1h-1zM1044 261h1v1h-1zM1365 316h1v1h-1zM643 313h1v1h-1zM1117 312h1v1h-1zM1303 350h1v1h-1zM1450 283h1v1h-1zM470 412h1v1h-1zM1118 313h1v1h-1zM330 365h1v1h-1zM761 295h1v1h-1zM333 361h1v1h-1zM807 262h1v1h-1zM796 271h1v1h-1zM614 388h1v2h-1zM1032 246h1v1h-1zM1331 304h1v1h-1zM808 263h1v1h-1zM346 345h1v1h-1zM594 418h1v2h-1zM458 397h1v1h-1zM669 332h1v2h-1zM1335 301h1v1h-1zM1291 370h1v2h-1zM1043 260h1v1h-1zM676 341h1v1h-1zM815 270h1v1h-1zM468 410h1v1h-1zM38 178h1v2h-1zM325 374h1v2h-1zM610 395h1v1h-1zM1314 330h1v2h-1zM1135 345h1v3h-1zM1368 320h1v1h-1zM1444 288h1v1h-1zM175 551h1v2h-1zM1146 365h1v1h-1zM208 500h1v1h-1zM710 347h1v1h-1zM852 269h1v1h-1zM1394 323h1v1h-1zM1422 305h1v1h-1zM122 553h1v2h-1zM849 272h1v1h-1zM1153 373h1v1h-1zM733 317h1v1h-1zM814 269h1v1h-1zM101 475h1v2h-1zM461 401h1v1h-1zM171 559h1v1h-1zM1046 264h1v1h-1zM1326 309h1v1h-1zM329 366h1v2h-1zM1367 318h1v2h-1zM1128 329h1v2h-1zM613 390h1v2h-1zM1413 313h1v1h-1zM625 364h1v2h-1zM687 349h1v1h-1zM1160 380h1v1h-1zM1309 340h1v2h-1zM590 425h1v1h-1zM2 111h1v1h-1zM442 382h1v2h-1zM1035 250h1v1h-1zM340 353h1v1h-1zM667 329h1v2h-1zM198 516h1v1h-1zM1305 347h1v2h-1zM668 331h1v1h-1zM657 312h1v1h-1zM332 362h1v2h-1zM313 377h1v1h-1zM324 376h1v2h-1zM748 305h1v1h-1zM1113 308h1v1h-1zM471 413h1v2h-1zM642 314h1v1h-1zM1302 351h1v1h-1zM847 274h1v1h-1zM1417 310h1v1h-1zM472 415h1v1h-1zM795 272h1v1h-1zM309 383h1v2h-1zM986 254h1v1h-1zM1371 324h1v1h-1zM724 324h1v1h-1zM802 262h1v1h-1zM981 260h1v1h-1zM1156 377h1v1h-1zM9 118h1v1h-1zM752 302h1v1h-1zM1389 328h1v1h-1zM1435 295h1v1h-1zM756 299h1v1h-1zM1439 292h1v1h-1zM1366 317h1v1h-1zM343 349h1v1h-1zM728 321h1v1h-1zM809 264h1v1h-1zM8 117h1v1h-1zM670 334h1v1h-1zM459 398h1v1h-1zM1341 301h1v1h-1zM810 265h1v1h-1z" fill="#3cb371"/>
<rect x="0" y="37" width="219" height="68" fill="#fff"/>
<rect x="11" y="105" width="1" height="14" fill="#000"/>
<rect x="27" y="105" width="1" height="11" fill="#000"/>
<rect x="25" y="105" width="5" height="11" fill="#000"/>
<rect x="35" y="180" width="1" height="41" fill="#000"/>
<rect x="33" y="192" width="5" height="25" fill="#000"/>
<rect x="43" y="154" width="1" height="55" fill="#000"/>
<rect x="41.5" y="164.5" width="4" height="27" fill="#fff" stroke="#000" stroke-width="1"/>
<rect x="51" y="162" width="1" height="34" fill="#000"/>
<rect x="49" y="165" width="5" height="28" fill="#000"/>
<rect x="59" y="231" width="1" height="61" fill="#000"/>
<rect x="57" y="233" width="5" height="53" fill="#000"/>
<rect x="67" y="277" width="1" height="181" fill="#000"/>
<rect x="65.5" y="302.5" width="4" height="121" fill="#fff" stroke="#000" stroke-width="1"/>
<rect x="75" y="330" width="1" height="80" fill="#000"/>
<rect x="73" y="375" width="5" height="30" fill="#000"/>
<rect x="83" y="346" width="1" height="73" fill="#000"/>
<rect x="81.5" y="378.5" width="4" height="20" fill="#fff" stroke="#000" stroke-width="1"/>
<rect x="91" y="347" width="1" height="122" fill="#000"/>
<rect x="89" y="412" width="5" height="56" fill="#000"/>
<rect x="99" y="437" width="1" height="123" fill="#000"/>
<rect x="97" y="467" width="5" height="15" fill="#000"/>
<rect x="107" y="371" width="1" height="91" fill="#000"/>
<rect x="105.5" y="374.5" width="4" height="87" fill="#fff" stroke="#000" stroke-width="1"/>
<rect x="115" y="463" width="1" height="67" fill="#000"/>
<rect x="113.5" y="512.5" width="4" height="17" fill="#fff" stroke="#000" stroke-width="1"/>
<rect x="123" y="398" width="1" height="40" fill="#000"/>
<rect x="121.5" y="404.5" width="4" height="19" fill="#fff" stroke="#000" stroke-width="1"/>
<rect x="131" y="324" width="1" height="55" fill="#000"/>
<rect x="129.5" y="326.5" width="4" height="31" fill="#fff" stroke="#000" stroke-width="1"/>
<rect x="139" y="331" width="1" height="40" fill="#000"/>
<rect x="137" y="340" width="5" height="24" fill="#000"/>
<rect x="147" y="306" width="1" height="48" fill="#000"/>
<rect x="145" y="306" width="5" height="31" fill="#000"/>
<rect x="155" y="334" width="1" height="68" fill="#000"/>
<rect x="153.5" y="379.5" width="4" height="22" fill="#fff" stroke="#000" stroke-width="1"/>
<rect x="163" y="314" width="1" height="48" fill="#000"/>
<rect x="161.5" y="319.5" width="4" height="14" fill="#fff" stroke="#000" stroke-width="1"/>
<rect x="171" y="331" width="1" height="60" fill="#000"/>
<rect x="169" y="349" width="5" height="38" fill="#000"/>
<rect x="179" y="355" width="1" height="57" fill="#000"/>
<rect x="177.5" y="356.5" width="4" height="52" fill="#fff" stroke="#000" stroke-width="1"/>
<rect x="187" y="358" width="1" height="21" fill="#000"/>
<rect x="185.5" y="363.5" width="4" height="11" fill="#fff" stroke="#000" stroke-width="1"/>
<rect x="195" y="304" width="1" height="52" fill="#000"/>
<rect x="193" y="315" width="5" height="1" fill="#000"/>
<rect x="203" y="253" width="1" height="61" fill="#000"/>
<rect x="201.5" y="255.5" width="4" height="35" fill="#fff" stroke="#000" stroke-width="1"/>
<rect x="211" y="272" width="1" height="41" fill="#000"/>
<rect x="209" y="287" width="5" height="26" fill="#000"/>
<rect x="219" y="262" width="1" height="29" fill="#000"/>
<rect x="217" y="273" width="5" height="2" fill="#000"/>
<rect x="227" y="239" width="1" height="33" fill="#000"/>
<rect x="225.5" y="256.5" width="4" height="10" fill="#fff" stroke="#000" stroke-width="1"/>
<rect x="235" y="238" width="1" height="51" fill="#000"/>
<rect x="233" y="255" width="5" height="34" fill="#000"/>
<rect x="243" y="281" width="1" height="27" fill="#000"/>
<rect x="241.5" y="296.5" width="4" height="2" fill="#fff" stroke="#000" stroke-width="1"/>
<rect x="251" y="232" width="1" height="37" fill="#000"/>
<rect x="249" y="247" width="5" height="14" fill="#000"/>
<rect x="259" y="250" width="1" height="27" fill="#000"/>
<rect x="257" y="265" width="5" height="3" fill="#000"/>
<rect x="267" y="270" width="1" height="55" fill="#000"/>
<rect x="265" y="278" width="5" height="38" fill="#000"/>
<rect x="275" y="298" width="1" height="44" fill="#000"/>
<rect x="273.5" y="304.5" width="4" height="32" fill="#fff" stroke="#000" stroke-width="1"/>
<rect x="283" y="284" width="1" height="29" fill="#000"/>
<rect x="281.5" y="293.5" width="4" height="5" fill="#fff" stroke="#000" stroke-width="1"/>
<rect x="291" y="308" width="1" height="23" fill="#000"/>
<rect x="289" y="315" width="5" height="3" fill="#000"/>
<rect x="299" y="272" width="1" height="28" fill="#000"/>
<rect x="297.5" y="276.5" width="4" height="23" fill="#fff" stroke="#000" stroke-width="1"/>
<rect x="307" y="241" width="1" height="47" fill="#000"/>
<rect x="305.5" y="241.5" width="4" height="23" fill="#fff" stroke="#000" stroke-width="1"/>
<rect x="315" y="224" width="1" height="30" fill="#000"/>
<rect x="313" y="239" width="5" height="8" fill="#000"/>
<rect x="323" y="316" width="1" height="38" fill="#000"/>
<rect x="321" y="319" width="5" height="28" fill="#000"/>
<rect x="331" y="309" width="1" height="25" fill="#000"/>
<rect x="329.5" y="313.5" width="4" height="13" fill="#fff" stroke="#000" stroke-width="1"/>
<rect x="339" y="280" width="1" height="46" fill="#000"/>
<rect x="337.5" y="287.5" width="4" height="37" fill="#fff" stroke="#000" stroke-width="1"/>
<rect x="347" y="294" width="1" height="18" fill="#000"/>
<rect x="345" y="300" width="5" height="6" fill="#000"/>
<rect x="355" y="275" width="1" height="17" fill="#000"/>
<rect x="353.5" y="282.5" width="4" height="2" fill="#fff" stroke="#000" stroke-width="1"/>
<rect x="363" y="230" width="1" height="36" fill="#000"/>
<rect x="361.5" y="249.5" width="4" height="12" fill="#fff" stroke="#000" stroke-width="1"/>
<rect x="371" y="264" width="1" height="28" fill="#000"/>
<rect x="369" y="272" width="5" height="7" fill="#000"/>
<rect x="379" y="270" width="1" height="33" fill="#000"/>
<rect x="377.5" y="285.5" width="4" height="11" fill="#fff" stroke="#000" stroke-width="1"/>
<rect x="387" y="295" width="1" height="29" fill="#000"/>
<rect x="385" y="297" width="5" height="24" fill="#000"/>
<rect x="395" y="300" width="1" height="32" fill="#000"/>
<rect x="393" y="311" width="5" height="10" fill="#000"/>
<rect x="403" y="299" width="1" height="28" fill="#000"/>
<rect x="401.5" y="299.5" width="4" height="27" fill="#fff" stroke="#000" stroke-width="1"/>
<rect x="411" y="245" width="1" height="26" fill="#000"/>
<rect x="409.5" y="262.5" width="4" height="2" fill="#fff" stroke="#000" stroke-width="1"/>
<rect x="419" y="249" width="1" height="21" fill="#000"/>
<rect x="417.5" y="253.5" width="4" height="10" fill="#fff" stroke="#000" stroke-width="1"/>
<rect x="427" y="250" width="1" height="32" fill="#000"/>
<rect x="425" y="258" width="5" height="24" fill="#000"/>
<rect x="435" y="318" width="1" height="89" fill="#000"/>
<rect x="433" y="318" width="5" height="89" fill="#000"/>
<rect x="443" y="385" width="1" height="39" fill="#000"/>
<rect x="441.5" y="390.5" width="4" height="7" fill="#fff" stroke="#000" stroke-width="1"/>
<rect x="451" y="338" width="1" height="29" fill="#000"/>
<rect x="449.5" y="349.5" width="4" height="17" fill="#fff" stroke="#000" stroke-width="1"/>
<rect x="459" y="353" width="1" height="36" fill="#000"/>
<rect x="457" y="362" width="5" height="20" fill="#000"/>
<rect x="467" y="359" width="1" height="62" fill="#000"/>
<rect x="465" y="385" width="5" height="5" fill="#000"/>
<rect x="475" y="390" width="1" height="44" fill="#000"/>
<rect x="473.5" y="401.5" width="4" height="10" fill="#fff" stroke="#000" stroke-width="1"/>
<rect x="483" y="322" width="1" height="44" fill="#000"/>
<rect x="481.5" y="342.5" width="4" height="23" fill="#fff" stroke="#000" stroke-width="1"/>
<rect x="491" y="295" width="1" height="40" fill="#000"/>
<rect x="489.5" y="297.5" width="4" height="28" fill="#fff" stroke="#000" stroke-width="1"/>
<rect x="499" y="261" width="1" height="24" fill="#000"/>
<rect x="497" y="261" width="5" height="11" fill="#000"/>
<rect x="507" y="241" width="1" height="41" fill="#000"/>
<rect x="505" y="244" width="5" height="23" fill="#000"/>
<rect x="515" y="223" width="1" height="55" fill="#000"/>
<rect x="513.5" y="230.5" width="4" height="39" fill="#fff" stroke="#000" stroke-width="1"/>
<rect x="523" y="205" width="1" height="35" fill="#000"/>
<rect x="521" y="209" width="5" height="18" fill="#000"/>
<rect x="531" y="188" width="1" height="41" fill="#000"/>
<rect x="529.5" y="216.5" width="4" height="6" fill="#fff" stroke="#000" stroke-width="1"/>
<rect x="539" y="182" width="1" height="33" fill="#000"/>
<rect x="537" y="203" width="5" height="1" fill="#000"/>
<rect x="547" y="203" width="1" height="61" fill="#000"/>
<rect x="545" y="212" width="5" height="49" fill="#000"/>
<rect x="555" y="272" width="1" height="39" fill="#000"/>
<rect x="553.5" y="273.5" width="4" height="28" fill="#fff" stroke="#000" stroke-width="1"/>
<rect x="563" y="278" width="1" height="54" fill="#000"/>
<rect x="561" y="301" width="5" height="18" fill="#000"/>
<rect x="571" y="250" width="1" height="24" fill="#000"/>
<rect x="569" y="260" width="5" height="1" fill="#000"/>
<rect x="579" y="250" width="1" height="36" fill="#000"/>
<rect x="577.5" y="256.5" width="4" height="7" fill="#fff" stroke="#000" stroke-width="1"/>
<rect x="587" y="253" width="1" height="38" fill="#000"/>
<rect x="585.5" y="262.5" width="4" height="6" fill="#fff" stroke="#000" stroke-width="1"/>
<rect x="595" y="228" width="1" height="44" fill="#000"/>
<rect x="593.5" y="238.5" width="4" height="28" fill="#fff" stroke="#000" stroke-width="1"/>
<rect x="603" y="237" width="1" height="23" fill="#000"/>
<rect x="601.5" y="252.5" width="4" height="7" fill="#fff" stroke="#000" stroke-width="1"/>
<rect x="611" y="204" width="1" height="76" fill="#000"/>
<rect x="609.5" y="208.5" width="4" height="26" fill="#fff" stroke="#000" stroke-width="1"/>
<rect x="619" y="208" width="1" height="44" fill="#000"/>
<rect x="617" y="214" width="5" height="33" fill="#000"/>
<rect x="627" y="241" width="1" height="26" fill="#000"/>
<rect x="625.5" y="262.5" width="4" height="4" fill="#fff" stroke="#000" stroke-width="1"/>
<rect x="635" y="255" width="1" height="44" fill="#000"/>
<rect x="633" y="269" width="5" height="19" fill="#000"/>
<rect x="643" y="256" width="1" height="31" fill="#000"/>
<rect x="641" y="260" width="5" height="11" fill="#000"/>
<rect x="651" y="191" width="1" height="69" fill="#000"/>
<rect x="649.5" y="191.5" width="4" height="60" fill="#fff" stroke="#000" stroke-width="1"/>
<rect x="659" y="167" width="1" height="30" fill="#000"/>
<rect x="657.5" y="178.5" width="4" height="18" fill="#fff" stroke="#000" stroke-width="1"/>
<rect x="667" y="77" width="1" height="84" fill="#000"/>
<rect x="665.5" y="86.5" width="4" height="74" fill="#fff" stroke="#000" stroke-width="1"/>
<rect x="675" y="46" width="1" height="76" fill="#000"/>
<rect x="673" y="61" width="5" height="58" fill="#000"/>
<rect x="683" y="87" width="1" height="40" fill="#000"/>
<rect x="681" y="106" width="5" height="6" fill="#000"/>
<rect x="691" y="81" width="1" height="35" fill="#000"/>
<rect x="689" y="91" width="5" height="4" fill="#000"/>
<rect x="699" y="101" width="1" height="55" fill="#000"/>
<rect x="697" y="114" width="5" height="30" fill="#000"/>
<rect x="707" y="106" width="1" height="36" fill="#000"/>
<rect x="705" y="130" width="5" height="9" fill="#000"/>
<rect x="715" y="144" width="1" height="38" fill="#000"/>
<rect x="713" y="147" width="5" height="11" fill="#000"/>
<rect x="723" y="125" width="1" height="52" fill="#000"/>
<rect x="721" y="136" width="5" height="25" fill="#000"/>
<rect x="731" y="149" width="1" height="65" fill="#000"/>
<rect x="729" y="153" width="5" height="59" fill="#000"/>
<rect x="739" y="181" width="1" height="23" fill="#000"/>
<rect x="737" y="191" width="5" height="1" fill="#000"/>
<rect x="747" y="185" width="1" height="44" fill="#000"/>
<rect x="745.5" y="202.5" width="4" height="2" fill="#fff" stroke="#000" stroke-width="1"/>
<rect x="755" y="148" width="1" height="27" fill="#000"/>
<rect x="753.5" y="150.5" width="4" height="18" fill="#fff" stroke="#000" stroke-width="1"/>
<rect x="763" y="134" width="1" height="71" fill="#000"/>
<rect x="761" y="157" width="5" height="39" fill="#000"/>
<rect x="771" y="175" width="1" height="33" fill="#000"/>
<rect x="769.5" y="183.5" width="4" height="8" fill="#fff" stroke="#000" stroke-width="1"/>
<rect x="779" y="195" width="1" height="47" fill="#000"/>
<rect x="777" y="204" width="5" height="28" fill="#000"/>
<rect x="787" y="206" width="1" height="39" fill="#000"/>
<rect x="785" y="212" width="5" height="25" fill="#000"/>
<rect x="795" y="205" width="1" height="31" fill="#000"/>
<rect x="793" y="209" width="5" height="17" fill="#000"/>
<rect x="803" y="214" width="1" height="22" fill="#000"/>
<rect x="801.5" y="216.5" width="4" height="13" fill="#fff" stroke="#000" stroke-width="1"/>
<rect x="811" y="187" width="1" height="58" fill="#000"/>
<rect x="809" y="212" width="5" height="25" fill="#000"/>
<rect x="819" y="209" width="1" height="41" fill="#000"/>
<rect x="817" y="228" width="5" height="16" fill="#000"/>
<rect x="827" y="239" width="1" height="37" fill="#000"/>
<rect x="825" y="241" width="5" height="18" fill="#000"/>
<rect x="835" y="198" width="1" height="52" fill="#000"/>
<rect x="833.5" y="210.5" width="4" height="28" fill="#fff" stroke="#000" stroke-width="1"/>
<rect x="843" y="189" width="1" height="30" fill="#000"/>
<rect x="841.5" y="200.5" width="4" height="8" fill="#fff" stroke="#000" stroke-width="1"/>
<rect x="851" y="183" width="1" height="57" fill="#000"/>
<rect x="849" y="194" width="5" height="27" fill="#000"/>
<rect x="859" y="210" width="1" height="69" fill="#000"/>
<rect x="857" y="214" width="5" height="43" fill="#000"/>
<rect x="867" y="247" width="1" height="28" fill="#000"/>
<rect x="865.5" y="256.5" width="4" height="18" fill="#fff" stroke="#000" stroke-width="1"/>
<rect x="875" y="201" width="1" height="44" fill="#000"/>
<rect x="873.5" y="213.5" width="4" height="31" fill="#fff" stroke="#000" stroke-width="1"/>
<rect x="883" y="177" width="1" height="57" fill="#000"/>
<rect x="881.5" y="183.5" width="4" height="37" fill="#fff" stroke="#000" stroke-width="1"/>
<rect x="891" y="164" width="1" height="32" fill="#000"/>
<rect x="889" y="170" width="5" height="22" fill="#000"/>
<rect x="899" y="172" width="1" height="30" fill="#000"/>
<rect x="897" y="192" width="5" height="6" fill="#000"/>
<rect x="907" y="153" width="1" height="39" fill="#000"/>
<rect x="905.5" y="178.5" width="4" height="8" fill="#fff" stroke="#000" stroke-width="1"/>
<rect x="915" y="164" width="1" height="22" fill="#000"/>
<rect x="913" y="171" width="5" height="3" fill="#000"/>
<rect x="923" y="174" width="1" height="26" fill="#000"/>
<rect x="921" y="184" width="5" height="8" fill="#000"/>
<rect x="931" y="204" width="1" height="41" fill="#000"/>
<rect x="929" y="204" width="5" height="28" fill="#000"/>
<rect x="939" y="187" width="1" height="32" fill="#000"/>
<rect x="937.5" y="198.5" width="4" height="15" fill="#fff" stroke="#000" stroke-width="1"/>
<rect x="947" y="155" width="1" height="31" fill="#000"/>
<rect x="945.5" y="159.5" width="4" height="26" fill="#fff" stroke="#000" stroke-width="1"/>
<rect x="955" y="149" width="1" height="27" fill="#000"/>
<rect x="953" y="154" width="5" height="10" fill="#000"/>
<rect x="963" y="151" width="1" height="26" fill="#000"/>
<rect x="961" y="157" width="5" height="10" fill="#000"/>
<rect x="971" y="165" width="1" height="32" fill="#000"/>
<rect x="969" y="165" width="5" height="27" fill="#000"/>
<rect x="979" y="142" width="1" height="52" fill="#000"/>
<rect x="977.5" y="172.5" width="4" height="19" fill="#fff" stroke="#000" stroke-width="1"/>
<rect x="987" y="134" width="1" height="73" fill="#000"/>
<rect x="985" y="154" width="5" height="44" fill="#000"/>
<rect x="995" y="186" width="1" height="31" fill="#000"/>
<rect x="993.5" y="197.5" width="4" height="2" fill="#fff" stroke="#000" stroke-width="1"/>
<rect x="1003" y="188" width="1" height="32" fill="#000"/>
<rect x="1001" y="197" width="5" height="2" fill="#000"/>
<rect x="1011" y="189" width="1" height="35" fill="#000"/>
<rect x="1009" y="205" width="5" height="7" fill="#000"/>
<rect x="1019" y="222" width="1" height="34" fill="#000"/>
<rect x="1017" y="234" width="5" height="1" fill="#000"/>
<rect x="1027" y="215" width="1" height="40" fill="#000"/>
<rect x="1025" y="233" width="5" height="14" fill="#000"/>
<rect x="1035" y="224" width="1" height="44" fill="#000"/>
<rect x="1033" y="233" width="5" height="18" fill="#000"/>
<rect x="1043" y="250" width="1" height="30" fill="#000"/>
<rect x="1041.5" y="255.5" width="4" height="15" fill="#fff" stroke="#000" stroke-width="1"/>
<rect x="1051" y="241" width="1" height="33" fill="#000"/>
<rect x="1049" y="241" width="5" height="31" fill="#000"/>
<rect x="1059" y="245" width="1" height="28" fill="#000"/>
<rect x="1057.5" y="252.5" width="4" height="14" fill="#fff" stroke="#000" stroke-width="1"/>
<rect x="1067" y="228" width="1" height="23" fill="#000"/>
<rect x="1065" y="241" width="5" height="4" fill="#000"/>
<rect x="1075" y="223" width="1" height="31" fill="#000"/>
<rect x="1073.5" y="226.5" width="4" height="23" fill="#fff" stroke="#000" stroke-width="1"/>
<rect x="1083" y="217" width="1" height="22" fill="#000"/>
<rect x="1081" y="223" width="5" height="6" fill="#000"/>
<rect x="1091" y="231" width="1" height="43" fill="#000"/>
<rect x="1089" y="244" width="5" height="18" fill="#000"/>
<rect x="1099" y="251" width="1" height="18" fill="#000"/>
<rect x="1097.5" y="251.5" width="4" height="8" fill="#fff" stroke="#000" stroke-width="1"/>
<rect x="1107" y="241" width="1" height="63" fill="#000"/>
<rect x="1105" y="257" width="5" height="45" fill="#000"/>
<rect x="1115" y="300" width="1" height="25" fill="#000"/>
<rect x="1113" y="302" width="5" height="20" fill="#000"/>
<rect x="1123" y="313" width="1" height="22" fill="#000"/>
<rect x="1121.5" y="318.5" width="4" height="3" fill="#fff" stroke="#000" stroke-width="1"/>
<rect x="1131" y="330" width="1" height="36" fill="#000"/>
<rect x="1129" y="338" width="5" height="19" fill="#000"/>
<rect x="1139" y="339" width="1" height="33" fill="#000"/>
<rect x="1137" y="342" width="5" height="26" fill="#000"/>
<rect x="1147" y="338" width="1" height="24" fill="#000"/>
<rect x="1145.5" y="346.5" width="4" height="15" fill="#fff" stroke="#000" stroke-width="1"/>
<rect x="1155" y="328" width="1" height="35" fill="#000"/>
<rect x="1153" y="329" width="5" height="28" fill="#000"/>
<rect x="1163" y="311" width="1" height="41" fill="#000"/>
<rect x="1161" y="342" width="5" height="1" fill="#000"/>
<rect x="1171" y="296" width="1" height="29" fill="#000"/>
<rect x="1169" y="300" width="5" height="14" fill="#000"/>
<rect x="1179" y="293" width="1" height="18" fill="#000"/>
<rect x="1177.5" y="297.5" width="4" height="4" fill="#fff" stroke="#000" stroke-width="1"/>
<rect x="1187" y="268" width="1" height="35" fill="#000"/>
<rect x="1185.5" y="277.5" width="4" height="23" fill="#fff" stroke="#000" stroke-width="1"/>
<rect x="1195" y="274" width="1" height="18" fill="#000"/>
<rect x="1193" y="274" width="5" height="10" fill="#000"/>
<rect x="1203" y="259" width="1" height="32" fill="#000"/>
<rect x="1201" y="268" width="5" height="22" fill="#000"/>
<rect x="1211" y="229" width="1" height="50" fill="#000"/>
<rect x="1209.5" y="233.5" width="4" height="44" fill="#fff" stroke="#000" stroke-width="1"/>
<rect x="1219" y="231" width="1" height="1" fill="#000"/>
<rect x="1217" y="231" width="5" height="1" fill="#000"/>
<rect x="1227" y="222" width="1" height="29" fill="#000"/>
<rect x="1225" y="222" width="5" height="17" fill="#000"/>
<rect x="1235" y="242" width="1" height="46" fill="#000"/>
<rect x="1233" y="252" width="5" height="34" fill="#000"/>
<rect x="1243" y="254" width="1" height="23" fill="#000"/>
<rect x="1241.5" y="262.5" width="4" height="5" fill="#fff" stroke="#000" stroke-width="1"/>
<rect x="1251" y="225" width="1" height="30" fill="#000"/>
<rect x="1249.5" y="244.5" width="4" height="3" fill="#fff" stroke="#000" stroke-width="1"/>
<rect x="1259" y="241" width="1" height="15" fill="#000"/>
<rect x="1257" y="248" width="5" height="1" fill="#000"/>
<rect x="1267" y="213" width="1" height="27" fill="#000"/>
<rect x="1265.5" y="236.5" width="4" height="3" fill="#fff" stroke="#000" stroke-width="1"/>
<rect x="1275" y="214" width="1" height="33" fill="#000"/>
<rect x="1273.5" y="216.5" width="4" height="21" fill="#fff" stroke="#000" stroke-width="1"/>
<rect x="1283" y="207" width="1" height="29" fill="#000"/>
<rect x="1281.5" y="211.5" width="4" height="13" fill="#fff" stroke="#000" stroke-width="1"/>
<rect x="1291" y="218" width="1" height="25" fill="#000"/>
<rect x="1289" y="227" width="5" height="2" fill="#000"/>
<rect x="1299" y="221" width="1" height="25" fill="#000"/>
<rect x="1297" y="230" width="5" height="13" fill="#000"/>
<rect x="1307" y="238" width="1" height="36" fill="#000"/>
<rect x="1305.5" y="249.5" width="4" height="10" fill="#fff" stroke="#000" stroke-width="1"/>
<rect x="1315" y="245" width="1" height="52" fill="#000"/>
<rect x="1313" y="263" width="5" height="16" fill="#000"/>
<rect x="1323" y="254" width="1" height="25" fill="#000"/>
<rect x="1321.5" y="262.5" width="4" height="16" fill="#fff" stroke="#000" stroke-width="1"/>
<rect x="1331" y="200" width="1" height="38" fill="#000"/>
<rect x="1329.5" y="202.5" width="4" height="35" fill="#fff" stroke="#000" stroke-width="1"/>
<rect x="1339" y="198" width="1" height="39" fill="#000"/>
<rect x="1337.5" y="210.5" width="4" height="13" fill="#fff" stroke="#000" stroke-width="1"/>
<rect x="1347" y="132" width="1" height="45" fill="#000"/>
<rect x="1345.5" y="132.5" width="4" height="30" fill="#fff" stroke="#000" stroke-width="1"/>
<rect x="1355" y="132" width="1" height="25" fill="#000"/>
<rect x="1353" y="132" width="5" height="9" fill="#000"/>
<rect x="1363" y="96" width="1" height="25" fill="#000"/>
<rect x="1361" y="98" width="5" height="16" fill="#000"/>
<rect x="1371" y="80" width="1" height="31" fill="#000"/>
<rect x="1369" y="82" width="5" height="3" fill="#000"/>
<rect x="1379" y="80" width="1" height="21" fill="#000"/>
<rect x="1377" y="93" width="5" height="1" fill="#000"/>
<rect x="1387" y="72" width="1" height="38" fill="#000"/>
<rect x="1385" y="85" width="5" height="12" fill="#000"/>
<rect x="1395" y="98" width="1" height="26" fill="#000"/>
<rect x="1393.5" y="100.5" width="4" height="5" fill="#fff" stroke="#000" stroke-width="1"/>
<rect x="1403" y="75" width="1" height="24" fill="#000"/>
<rect x="1401" y="79" width="5" height="5" fill="#000"/>
<rect x="1411" y="69" width="1" height="18" fill="#000"/>
<rect x="1409" y="69" width="5" height="9" fill="#000"/>
<rect x="1419" y="59" width="1" height="25" fill="#000"/>
<rect x="1417.5" y="67.5" width="4" height="9" fill="#fff" stroke="#000" stroke-width="1"/>
<rect x="1427" y="79" width="1" height="10" fill="#000"/>
<rect x="1425" y="80" width="5" height="6" fill="#000"/>
<rect x="1435" y="65" width="1" height="22" fill="#000"/>
<rect x="1433" y="75" width="5" height="1" fill="#000"/>
<rect x="1443" y="53" width="1" height="24" fill="#000"/>
<rect x="1441" y="60" width="5" height="13" fill="#000"/>
<rect x="1451" y="61" width="1" height="15" fill="#000"/>
<rect x="1449.5" y="62.5" width="4" height="5" fill="#fff" stroke="#000" stroke-width="1"/>
<rect x="3" y="628" width="1" height="27" fill="#c0c0c0"/>
<rect x="11" y="628" width="1" height="29" fill="#c0c0c0"/>
<rect x="19" y="628" width="1" height="27" fill="#c0c0c0"/>
<rect x="27" y="628" width="1" height="29" fill="#c0c0c0"/>
<rect x="35" y="628" width="1" height="38" fill="#c0c0c0"/>
<rect x="43" y="628" width="1" height="41" fill="#c0c0c0"/>
<rect x="51" y="628" width="1" height="44" fill="#c0c0c0"/>
<rect x="59" y="628" width="1" height="54" fill="#c0c0c0"/>
<rect x="67" y="628" width="1" height="62" fill="#c0c0c0"/>
<rect x="75" y="628" width="1" height="74" fill="#c0c0c0"/>
<rect x="83" y="628" width="1" height="82" fill="#c0c0c0"/>
<rect x="91" y="628" width="1" height="94" fill="#c0c0c0"/>
<rect x="99" y="628" width="1" height="103" fill="#c0c0c0"/>
<rect x="107" y="628" width="1" height="100" fill="#c0c0c0"/>
<rect x="115" y="628" width="1" height="108" fill="#c0c0c0"/>
<rect x="123" y="628" width="1" height="104" fill="#c0c0c0"/>
<rect x="131" y="628" width="1" height="95" fill="#c0c0c0"/>
<rect x="139" y="628" width="1" height="89" fill="#c0c0c0"/>
<rect x="147" y="628" width="1" height="81" fill="#c0c0c0"/>
<rect x="155" y="628" width="1" height="78" fill="#c0c0c0"/>
<rect x="163" y="628" width="1" height="69" fill="#c0c0c0"/>
<rect x="171" y="628" width="1" height="67" fill="#c0c0c0"/>
<rect x="179" y="628" width="1" height="62" fill="#c0c0c0"/>
<rect x="187" y="628" width="1" height="57" fill="#c0c0c0"/>
<rect x="195" y="628" width="1" height="51" fill="#c0c0c0"/>
<rect x="203" y="628" width="1" height="40" fill="#c0c0c0"/>
<rect x="211" y="628" width="1" height="36" fill="#c0c0c0"/>
<rect x="219" y="628" width="1" height="29" fill="#c0c0c0"/>
<rect x="227" y="628" width="1" height="22" fill="#c0c0c0"/>
<rect x="235" y="628" width="1" height="18" fill="#c0c0c0"/>
<rect x="243" y="628" width="1" height="16" fill="#c0c0c0"/>
<rect x="251" y="628" width="1" height="12" fill="#c0c0c0"/>
<rect x="259" y="628" width="1" height="8" fill="#c0c0c0"/>
<rect x="267" y="628" width="1" height="9" fill="#c0c0c0"/>
<rect x="275" y="628" width="1" height="9" fill="#c0c0c0"/>
<rect x="283" y="628" width="1" height="8" fill="#c0c0c0"/>
<rect x="291" y="628" width="1" height="9" fill="#c0c0c0"/>
<rect x="299" y="628" width="1" height="6" fill="#c0c0c0"/>
<rect x="307" y="628" width="1" height="1" fill="#c0c0c0"/>
<rect x="315" y="626" width="1" height="3" fill="#c0c0c0"/>
<rect x="323" y="628" width="1" height="3" fill="#c0c0c0"/>
<rect x="331" y="628" width="1" height="5" fill="#c0c0c0"/>
<rect x="339" y="628" width="1" height="4" fill="#c0c0c0"/>
<rect x="347" y="628" width="1" height="4" fill="#c0c0c0"/>
<rect x="355" y="628" width="1" height="3" fill="#c0c0c0"/>
<rect x="363" y="628" width="1" height="1" fill="#c0c0c0"/>
<rect x="379" y="628" width="1" height="1" fill="#c0c0c0"/>
<rect x="387" y="628" width="1" height="2" fill="#c0c0c0"/>
<rect x="395" y="628" width="1" height="4" fill="#c0c0c0"/>
<rect x="403" y="628" width="1" height="4" fill="#c0c0c0"/>
<rect x="411" y="628" width="1" height="1" fill="#c0c0c0"/>
<rect x="419" y="627" width="1" height="2" fill="#c0c0c0"/>
<rect x="427" y="626" width="1" height="3" fill="#c0c0c0"/>
<rect x="435" y="628" width="1" height="7" fill="#c0c0c0"/>
<rect x="443" y="628" width="1" height="12" fill="#c0c0c0"/>
<rect x="451" y="628" width="1" height="13" fill="#c0c0c0"/>
<rect x="459" y="628" width="1" height="17" fill="#c0c0c0"/>
<rect x="467" y="628" width="1" height="20" fill="#c0c0c0"/>
<rect x="475" y="628" width="1" height="24" fill="#c0c0c0"/>
<rect x="483" y="628" width="1" height="20" fill="#c0c0c0"/>
<rect x="491" y="628" width="1" height="15" fill="#c0c0c0"/>
<rect x="499" y="628" width="1" height="9" fill="#c0c0c0"/>
<rect x="507" y="628" width="1" height="4" fill="#c0c0c0"/>
<rect x="515" y="626" width="1" height="3" fill="#c0c0c0"/>
<rect x="523" y="621" width="1" height="8" fill="#c0c0c0"/>
<rect x="531" y="616" width="1" height="13" fill="#c0c0c0"/>
<rect x="539" y="611" width="1" height="18" fill="#c0c0c0"/>
<rect x="547" y="611" width="1" height="18" fill="#c0c0c0"/>
<rect x="555" y="613" width="1" height="16" fill="#c0c0c0"/>
<rect x="563" y="618" width="1" height="11" fill="#c0c0c0"/>
<rect x="571" y="618" width="1" height="11" fill="#c0c0c0"/>
<rect x="579" y="616" width="1" height="13" fill="#c0c0c0"/>
<rect x="587" y="616" width="1" height="13" fill="#c0c0c0"/>
<rect x="595" y="616" width="1" height="13" fill="#c0c0c0"/>
<rect x="603" y="614" width="1" height="15" fill="#c0c0c0"/>
<rect x="611" y="613" width="1" height="16" fill="#c0c0c0"/>
<rect x="619" y="613" width="1" height="16" fill="#c0c0c0"/>
<rect x="627" y="615" width="1" height="14" fill="#c0c0c0"/>
<rect x="635" y="619" width="1" height="10" fill="#c0c0c0"/>
<rect x="643" y="620" width="1" height="9" fill="#c0c0c0"/>
<rect x="651" y="616" width="1" height="13" fill="#c0c0c0"/>
<rect x="659" y="611" width="1" height="18" fill="#c0c0c0"/>
<rect x="667" y="601" width="1" height="28" fill="#c0c0c0"/>
<rect x="675" y="596" width="1" height="33" fill="#c0c0c0"/>
<rect x="683" y="592" width="1" height="37" fill="#c0c0c0"/>
<rect x="691" y="588" width="1" height="41" fill="#c0c0c0"/>
<rect x="699" y="589" width="1" height="40" fill="#c0c0c0"/>
<rect x="707" y="589" width="1" height="40" fill="#c0c0c0"/>
<rect x="715" y="592" width="1" height="37" fill="#c0c0c0"/>
<rect x="723" y="594" width="1" height="35" fill="#c0c0c0"/>
<rect x="731" y="601" width="1" height="28" fill="#c0c0c0"/>
<rect x="739" y="604" width="1" height="25" fill="#c0c0c0"/>
<rect x="747" y="608" width="1" height="21" fill="#c0c0c0"/>
<rect x="755" y="608" width="1" height="21" fill="#c0c0c0"/>
<rect x="763" y="611" width="1" height="18" fill="#c0c0c0"/>
<rect x="771" y="613" width="1" height="16" fill="#c0c0c0"/>
<rect x="779" y="618" width="1" height="11" fill="#c0c0c0"/>
<rect x="787" y="622" width="1" height="7" fill="#c0c0c0"/>
<rect x="795" y="625" width="1" height="4" fill="#c0c0c0"/>
<rect x="803" y="627" width="1" height="2" fill="#c0c0c0"/>
<rect x="819" y="628" width="1" height="2" fill="#c0c0c0"/>
<rect x="827" y="628" width="1" height="5" fill="#c0c0c0"/>
<rect x="835" y="628" width="1" height="5" fill="#c0c0c0"/>
<rect x="843" y="628" width="1" height="2" fill="#c0c0c0"/>
<rect x="851" y="628" width="1" height="4" fill="#c0c0c0"/>
<rect x="859" y="628" width="1" height="5" fill="#c0c0c0"/>
<rect x="867" y="628" width="1" height="7" fill="#c0c0c0"/>
<rect x="875" y="628" width="1" height="6" fill="#c0c0c0"/>
<rect x="883" y="628" width="1" height="3" fill="#c0c0c0"/>
<rect x="907" y="626" width="1" height="3" fill="#c0c0c0"/>
<rect x="915" y="624" width="1" height="5" fill="#c0c0c0"/>
<rect x="923" y="624" width="1" height="5" fill="#c0c0c0"/>
<rect x="931" y="626" width="1" height="3" fill="#c0c0c0"/>
<rect x="939" y="627" width="1" height="2" fill="#c0c0c0"/>
<rect x="947" y="623" width="1" height="6" fill="#c0c0c0"/>
<rect x="955" y="621" width="1" height="8" fill="#c0c0c0"/>
<rect x="963" y="620" width="1" height="9" fill="#c0c0c0"/>
<rect x="971" y="621" width="1" height="8" fill="#c0c0c0"/>
<rect x="979" y="620" width="1" height="9" fill="#c0c0c0"/>
<rect x="987" y="621" width="1" height="8" fill="#c0c0c0"/>
<rect x="995" y="623" width="1" height="6" fill="#c0c0c0"/>
<rect x="1003" y="624" width="1" height="5" fill="#c0c0c0"/>
<rect x="1011" y="626" width="1" height="3" fill="#c0c0c0"/>
<rect x="1027" y="628" width="1" height="3" fill="#c0c0c0"/>
<rect x="1035" y="628" width="1" height="6" fill="#c0c0c0"/>
<rect x="1043" y="628" width="1" height="9" fill="#c0c0c0"/>
<rect x="1051" y="628" width="1" height="12" fill="#c0c0c0"/>
<rect x="1059" y="628" width="1" height="12" fill="#c0c0c0"/>
<rect x="1067" y="628" width="1" height="12" fill="#c0c0c0"/>
<rect x="1075" y="628" width="1" height="11" fill="#c0c0c0"/>
<rect x="1083" y="628" width="1" height="10" fill="#c0c0c0"/>
<rect x="1091" y="628" width="1" height="11" fill="#c0c0c0"/>
<rect x="1099" y="628" width="1" height="12" fill="#c0c0c0"/>
<rect x="1107" y="628" width="1" height="16" fill="#c0c0c0"/>
<rect x="1115" y="628" width="1" height="20" fill="#c0c0c0"/>
<rect x="1123" y="628" width="1" height="23" fill="#c0c0c0"/>
<rect x="1131" y="628" width="1" height="28" fill="#c0c0c0"/>
<rect x="1139" y="628" width="1" height="32" fill="#c0c0c0"/>
<rect x="1147" y="628" width="1" height="33" fill="#c0c0c0"/>
<rect x="1155" y="628" width="1" height="35" fill="#c0c0c0"/>
<rect x="1163" y="628" width="1" height="34" fill="#c0c0c0"/>
<rect x="1171" y="628" width="1" height="32" fill="#c0c0c0"/>
<rect x="1179" y="628" width="1" height="28" fill="#c0c0c0"/>
<rect x="1187" y="628" width="1" height="23" fill="#c0c0c0"/>
<rect x="1195" y="628" width="1" height="19" fill="#c0c0c0"/>
<rect x="1203" y="628" width="1" height="17" fill="#c0c0c0"/>
<rect x="1211" y="628" width="1" height="11" fill="#c0c0c0"/>
<rect x="1219" y="628" width="1" height="6" fill="#c0c0c0"/>
<rect x="1227" y="628" width="1" height="1" fill="#c0c0c0"/>
<rect x="1235" y="628" width="1" height="2" fill="#c0c0c0"/>
<rect x="1243" y="628" width="1" height="1" fill="#c0c0c0"/>
<rect x="1259" y="626" width="1" height="3" fill="#c0c0c0"/>
<rect x="1267" y="624" width="1" height="5" fill="#c0c0c0"/>
<rect x="1275" y="621" width="1" height="8" fill="#c0c0c0"/>
<rect x="1283" y="619" width="1" height="10" fill="#c0c0c0"/>
<rect x="1291" y="618" width="1" height="11" fill="#c0c0c0"/>
<rect x="1299" y="619" width="1" height="10" fill="#c0c0c0"/>
<rect x="1307" y="620" width="1" height="9" fill="#c0c0c0"/>
<rect x="1315" y="623" width="1" height="6" fill="#c0c0c0"/>
<rect x="1323" y="624" width="1" height="5" fill="#c0c0c0"/>
<rect x="1331" y="621" width="1" height="8" fill="#c0c0c0"/>
<rect x="1339" y="619" width="1" height="10" fill="#c0c0c0"/>
<rect x="1347" y="612" width="1" height="17" fill="#c0c0c0"/>
<rect x="1355" y="607" width="1" height="22" fill="#c0c0c0"/>
<rect x="1363" y="601" width="1" height="28" fill="#c0c0c0"/>
<rect x="1371" y="595" width="1" height="34" fill="#c0c0c0"/>
<rect x="1379" y="591" width="1" height="38" fill="#c0c0c0"/>
<rect x="1387" y="589" width="1" height="40" fill="#c0c0c0"/>
<rect x="1395" y="588" width="1" height="41" fill="#c0c0c0"/>
<rect x="1403" y="586" width="1" height="43" fill="#c0c0c0"/>
<rect x="1411" y="585" width="1" height="44" fill="#c0c0c0"/>
<rect x="1419" y="584" width="1" height="45" fill="#c0c0c0"/>
<rect x="1427" y="585" width="1" height="44" fill="#c0c0c0"/>
<rect x="1435" y="585" width="1" height="44" fill="#c0c0c0"/>
<rect x="1443" y="586" width="1" height="43" fill="#c0c0c0"/>
<rect x="1451" y="586" width="1" height="43" fill="#c0c0c0"/>
<path d="M283 643h3v1h-3zM487 643h3v1h-3zM511 643h3v1h-3zM1123 643h3v1h-3zM1237 643h2v1h-2zM559 622h2v1h-2zM824 622h2v1h-2zM968 622h2v1h-2zM973 622h3v1h-3zM979 622h3v1h-3zM985 622h3v1h-3zM991 622h3v1h-3zM997 622h3v1h-3zM1003 622h3v1h-3zM1009 622h3v1h-3zM1015 622h3v1h-3zM1021 622h3v1h-3zM1304 622h2v1h-2zM1309 622h3v1h-3zM1315 622h3v1h-3zM25 651h3v1h-3zM1219 651h2v1h-2zM307 637h3v1h-3zM470 637h2v1h-2zM1082 637h2v1h-2zM715 596h3v1h-3zM752 596h2v1h-2zM1339 619h3v1h-3zM272 647h2v1h-2zM1141 647h3v1h-3zM43 657h2v1h-2zM254 657h2v1h-2zM1171 657h3v1h-3zM1177 657h3v1h-3zM1195 657h3v1h-3zM937 627h3v1h-3zM1280 627h2v1h-2zM554 624h2v1h-2zM830 624h2v1h-2zM955 624h3v1h-3zM1291 624h3v1h-3zM746 595h2v1h-2zM475 639h3v1h-3zM1093 639h3v1h-3zM37 655h3v1h-3zM1165 655h3v1h-3zM1208 655h2v1h-2zM331 633h3v1h-3zM337 633h3v1h-3zM343 633h3v1h-3zM349 633h3v1h-3zM451 633h3v1h-3zM865 633h3v1h-3zM871 633h3v1h-3zM877 633h3v1h-3zM883 633h3v1h-3zM889 633h3v1h-3zM895 633h3v1h-3zM901 633h3v1h-3zM1064 633h2v1h-2zM1261 633h3v1h-3zM565 620h2v1h-2zM818 620h2v1h-2zM1328 620h2v1h-2zM1333 620h3v1h-3zM415 629h3v1h-3zM421 629h2v1h-2zM433 629h3v1h-3zM848 629h2v1h-2zM920 629h2v1h-2zM925 629h3v1h-3zM1051 629h2v1h-2zM1274 629h2v1h-2zM1387 606h2v1h-2zM277 645h3v1h-3zM1130 645h2v1h-2zM1232 645h2v1h-2zM1429 589h3v1h-3zM295 640h3v1h-3zM523 640h3v1h-3zM1099 640h3v1h-3zM1105 640h3v1h-3zM1243 640h2v1h-2zM607 614h3v1h-3zM613 614h3v1h-3zM661 614h3v1h-3zM319 634h3v1h-3zM325 634h2v1h-2zM457 634h2v1h-2zM1070 634h2v1h-2zM589 615h3v1h-3zM595 615h3v1h-3zM601 615h3v1h-3zM619 615h3v1h-3zM655 615h3v1h-3zM722 594h2v1h-2zM1411 594h2v1h-2zM583 616h2v1h-2zM625 616h3v1h-3zM631 616h3v1h-3zM637 616h3v1h-3zM643 616h3v1h-3zM649 616h3v1h-3zM806 616h2v1h-2zM1363 616h2v1h-2zM698 603h2v1h-2zM776 603h2v1h-2zM1393 603h2v1h-2zM691 605h3v1h-3zM781 605h2v1h-2zM463 635h2v1h-2zM535 635h2v1h-2zM1075 635h3v1h-3zM1255 635h3v1h-3zM445 631h2v1h-2zM542 631h2v1h-2zM680 609h2v1h-2zM1399 600h2v1h-2zM1418 591h2v1h-2zM787 608h2v1h-2zM1381 608h3v1h-3zM517 642h2v1h-2zM1117 642h3v1h-3zM703 601h2v1h-2zM770 601h2v1h-2zM961 623h3v1h-3zM1027 623h3v1h-3zM1297 623h3v1h-3zM368 630h2v1h-2zM373 630h3v1h-3zM379 630h3v1h-3zM385 630h3v1h-3zM391 630h3v1h-3zM397 630h3v1h-3zM403 630h3v1h-3zM409 630h3v1h-3zM439 630h3v1h-3zM853 630h3v1h-3zM914 630h2v1h-2zM577 617h2v1h-2zM811 617h2v1h-2zM1352 617h2v1h-2zM1357 617h3v1h-3zM835 625h2v1h-2zM950 625h2v1h-2zM1034 625h2v1h-2zM1286 625h2v1h-2zM1321 621h3v1h-3zM674 611h2v1h-2zM794 611h2v1h-2zM1375 611h2v1h-2zM7 646h3v1h-3zM1136 646h2v1h-2zM355 632h3v1h-3zM361 632h3v1h-3zM859 632h3v1h-3zM907 632h3v1h-3zM1058 632h2v1h-2zM1267 632h2v1h-2zM728 593h2v1h-2zM733 593h3v1h-3zM739 593h3v1h-3zM290 641h2v1h-2zM481 641h2v1h-2zM1111 641h3v1h-3zM1184 658h2v1h-2zM1189 658h3v1h-3zM1154 652h2v1h-2zM667 613h3v1h-3zM799 613h2v1h-2zM1370 613h2v1h-2zM302 638h2v1h-2zM529 638h2v1h-2zM1087 638h3v1h-3zM1249 638h2v1h-2zM19 649h2v1h-2zM1147 649h2v1h-2zM757 597h3v1h-3zM1405 597h2v1h-2zM73 671h2v1h-2zM236 671h2v1h-2zM56 662h2v1h-2zM86 681h2v1h-2zM944 626h2v1h-2zM1039 626h3v1h-3zM14 648h2v1h-2zM1225 648h2v1h-2zM709 598h3v1h-3zM134 721h2v1h-2zM31 653h3v1h-3zM260 653h2v1h-2zM1159 653h3v1h-3zM80 676h2v1h-2zM230 676h2v1h-2zM1447 586h3v1h-3zM175 714h2v1h-2zM206 692h2v1h-2zM427 628h3v1h-3zM842 628h2v1h-2zM931 628h3v1h-3zM1046 628h2v1h-2zM1201 656h3v1h-3zM110 705h2v1h-2zM188 705h2v1h-2zM265 650h2v1h-2zM62 665h2v1h-2zM163 720h2v1h-2zM1435 587h3v1h-3zM1441 587h3v1h-3zM571 618h3v1h-3zM1345 618h3v1h-3zM763 599h3v1h-3zM1 644h2v1h-2zM493 644h3v1h-3zM499 644h3v1h-3zM505 644h3v1h-3zM139 722h3v1h-3zM157 722h3v1h-3zM313 636h3v1h-3zM145 723h3v1h-3zM151 723h3v1h-3zM1213 654h2v1h-2zM200 696h2v1h-2zM212 688h2v1h-2zM169 717h2v1h-2zM685 607h3v1h-3zM217 685h2v1h-2zM1424 590h2v1h-2zM127 718h2v1h-2zM50 660h2v1h-2zM98 693h1v1h-1zM841 627h1v1h-1zM248 662h1v1h-1zM253 658h1v1h-1zM165 719h1v1h-1zM1407 596h1v1h-1zM183 709h1v1h-1zM567 619h1v1h-1zM1227 647h1v1h-1zM775 602h1v1h-1zM561 621h1v1h-1zM241 668h1v1h-1zM949 626h1v1h-1zM116 710h1v1h-1zM99 694h1v1h-1zM1045 627h1v1h-1zM182 710h1v1h-1zM181 711h1v1h-1zM187 706h1v1h-1zM783 606h1v1h-1zM1369 614h1v1h-1zM801 614h1v1h-1zM301 639h1v1h-1zM793 610h1v1h-1zM177 713h1v1h-1zM79 675h1v1h-1zM1057 631h1v1h-1zM1149 650h1v1h-1zM531 637h1v1h-1zM1231 646h1v1h-1zM943 627h1v1h-1zM769 600h1v1h-1zM1417 592h1v1h-1zM727 594h1v1h-1zM1273 630h1v1h-1zM483 642h1v1h-1zM829 623h1v1h-1zM537 634h1v1h-1zM913 631h1v1h-1zM103 698h1v1h-1zM1081 636h1v1h-1zM547 629h1v1h-1zM469 636h1v1h-1zM967 623h1v1h-1zM459 635h1v1h-1zM92 686h1v1h-1zM242 667h1v1h-1zM247 663h1v1h-1zM271 648h1v1h-1zM1327 621h1v1h-1zM93 687h1v1h-1zM679 610h1v1h-1zM171 716h1v1h-1zM129 719h1v1h-1zM61 664h1v1h-1zM104 699h1v1h-1zM585 615h1v1h-1zM75 672h1v1h-1zM117 711h1v1h-1zM1153 651h1v1h-1zM1303 623h1v1h-1zM205 693h1v1h-1zM235 672h1v1h-1zM105 700h1v1h-1zM45 658h1v1h-1zM1285 626h1v1h-1zM1063 632h1v1h-1zM817 619h1v1h-1zM225 680h1v1h-1zM1279 628h1v1h-1zM13 647h1v1h-1zM194 701h1v1h-1zM223 682h1v1h-1zM224 681h1v1h-1zM91 685h1v1h-1zM465 636h1v1h-1zM3 645h1v1h-1zM123 716h1v1h-1zM847 628h1v1h-1zM367 631h1v1h-1zM85 680h1v1h-1zM823 621h1v1h-1zM673 612h1v1h-1zM1389 605h1v1h-1zM1269 631h1v1h-1zM1207 656h1v1h-1zM805 615h1v1h-1zM745 594h1v1h-1zM553 625h1v1h-1zM1251 637h1v1h-1zM1423 591h1v1h-1zM109 704h1v1h-1zM1135 645h1v1h-1zM789 609h1v1h-1zM1395 602h1v1h-1zM195 700h1v1h-1zM1215 653h1v1h-1zM1183 657h1v1h-1zM919 630h1v1h-1zM549 627h1v1h-1zM267 649h1v1h-1zM519 641h1v1h-1zM121 714h1v1h-1zM1221 650h1v1h-1zM1033 624h1v1h-1zM1401 599h1v1h-1zM193 702h1v1h-1zM122 715h1v1h-1zM199 697h1v1h-1zM68 668h1v1h-1zM229 677h1v1h-1zM219 684h1v1h-1zM1053 630h1v1h-1zM211 689h1v1h-1zM55 661h1v1h-1zM243 666h1v1h-1zM721 595h1v1h-1zM69 669h1v1h-1zM697 604h1v1h-1zM115 709h1v1h-1zM1377 610h1v1h-1zM837 626h1v1h-1zM21 650h1v1h-1zM1351 618h1v1h-1zM133 720h1v1h-1zM1239 642h1v1h-1zM1413 593h1v1h-1zM751 595h1v1h-1zM49 659h1v1h-1zM1069 633h1v1h-1zM447 632h1v1h-1zM327 633h1v1h-1zM67 667h1v1h-1zM423 628h1v1h-1zM541 632h1v1h-1zM579 616h1v1h-1zM1129 644h1v1h-1zM259 654h1v1h-1zM1245 639h1v1h-1zM813 618h1v1h-1zM548 628h1v1h-1zM705 600h1v1h-1zM97 692h1v1h-1zM249 661h1v1h-1zM289 642h1v1h-1zM1365 615h1v1h-1z" fill="#ff0000"/>
<path d="M166 843h2v1h-2zM179 843h5v1h-5zM188 843h2v1h-2zM323 843h3v1h-3zM452 843h2v1h-2zM818 843h3v1h-3zM1361 802h2v1h-2zM1390 802h4v1h-4zM1397 802h3v1h-3zM1440 802h5v1h-5zM440 852h2v1h-2zM1042 852h2v1h-2zM270 837h4v1h-4zM287 837h2v1h-2zM333 837h2v1h-2zM401 837h2v1h-2zM635 837h2v1h-2zM802 837h3v1h-3zM1009 837h2v1h-2zM1080 837h4v1h-4zM1182 837h2v1h-2zM502 824h4v1h-4zM595 824h2v1h-2zM720 824h4v1h-4zM910 824h4v1h-4zM916 824h2v1h-2zM960 824h4v1h-4zM1263 824h2v1h-2zM1291 824h2v1h-2zM515 818h5v1h-5zM651 818h2v1h-2zM704 818h4v1h-4zM1216 818h5v1h-5zM1273 818h2v1h-2zM1333 818h3v1h-3zM221 831h3v1h-3zM230 831h2v1h-2zM249 831h2v1h-2zM256 831h4v1h-4zM356 831h2v1h-2zM739 831h2v1h-2zM768 831h2v1h-2zM841 831h2v1h-2zM844 831h2v1h-2zM972 831h2v1h-2zM1306 831h2v1h-2zM136 846h2v1h-2zM141 846h3v1h-3zM151 846h2v1h-2zM173 846h2v1h-2zM457 846h2v1h-2zM826 846h2v1h-2zM1021 846h2v1h-2zM1063 846h2v1h-2zM224 830h2v1h-2zM228 830h2v1h-2zM251 830h5v1h-5zM300 830h2v1h-2zM368 830h2v1h-2zM424 830h2v1h-2zM553 830h2v1h-2zM622 830h2v1h-2zM770 830h2v1h-2zM1304 830h2v1h-2zM513 819h2v1h-2zM699 819h5v1h-5zM708 819h2v1h-2zM1211 819h5v1h-5zM1221 819h2v1h-2zM1336 819h2v1h-2zM520 817h6v1h-6zM653 817h3v1h-3zM1275 817h3v1h-3zM1331 817h2v1h-2zM217 833h2v1h-2zM233 833h2v1h-2zM246 833h2v1h-2zM353 833h2v1h-2zM376 833h4v1h-4zM627 833h2v1h-2zM744 833h2v1h-2zM763 833h2v1h-2zM837 833h2v1h-2zM1187 833h3v1h-3zM360 828h2v1h-2zM411 828h3v1h-3zM493 828h2v1h-2zM549 828h2v1h-2zM574 828h4v1h-4zM582 828h4v1h-4zM588 828h2v1h-2zM889 828h2v1h-2zM901 828h2v1h-2zM976 828h2v1h-2zM1246 828h2v1h-2zM1299 828h2v1h-2zM1115 864h3v1h-3zM1153 864h2v1h-2zM19 842h2v1h-2zM784 842h5v1h-5zM814 842h4v1h-4zM1176 842h2v1h-2zM214 835h2v1h-2zM240 835h4v1h-4zM280 835h5v1h-5zM337 835h2v1h-2zM342 835h4v1h-4zM349 835h2v1h-2zM631 835h2v1h-2zM639 835h2v1h-2zM732 835h2v1h-2zM1005 835h2v1h-2zM1194 835h6v1h-6zM680 809h6v1h-6zM219 832h2v1h-2zM371 832h5v1h-5zM625 832h2v1h-2zM737 832h2v1h-2zM741 832h3v1h-3zM765 832h3v1h-3zM839 832h2v1h-2zM138 847h3v1h-3zM153 847h2v1h-2zM171 847h2v1h-2zM459 847h5v1h-5zM1023 847h2v1h-2zM1061 847h2v1h-2zM1094 847h2v1h-2zM5 856h3v1h-3zM43 856h2v1h-2zM1049 856h2v1h-2zM226 829h2v1h-2zM491 829h2v1h-2zM551 829h2v1h-2zM571 829h3v1h-3zM586 829h2v1h-2zM620 829h2v1h-2zM891 829h10v1h-10zM1244 829h2v1h-2zM1301 829h3v1h-3zM76 880h2v1h-2zM235 834h5v1h-5zM244 834h2v1h-2zM262 834h2v1h-2zM339 834h3v1h-3zM351 834h2v1h-2zM629 834h2v1h-2zM641 834h2v1h-2zM734 834h2v1h-2zM746 834h2v1h-2zM835 834h2v1h-2zM848 834h2v1h-2zM987 834h18v1h-18zM1190 834h4v1h-4zM304 827h2v1h-2zM314 827h2v1h-2zM364 827h2v1h-2zM414 827h4v1h-4zM420 827h2v1h-2zM495 827h2v1h-2zM547 827h2v1h-2zM578 827h4v1h-4zM590 827h2v1h-2zM602 827h2v1h-2zM887 827h2v1h-2zM903 827h2v1h-2zM921 827h2v1h-2zM1297 827h2v1h-2zM307 825h3v1h-3zM499 825h3v1h-3zM593 825h2v1h-2zM597 825h3v1h-3zM883 825h2v1h-2zM907 825h3v1h-3zM918 825h2v1h-2zM1251 825h5v1h-5zM1261 825h2v1h-2zM1293 825h2v1h-2zM267 838h3v1h-3zM289 838h2v1h-2zM331 838h2v1h-2zM399 838h2v1h-2zM798 838h4v1h-4zM805 838h2v1h-2zM1320 838h2v1h-2zM508 822h2v1h-2zM713 822h2v1h-2zM950 822h4v1h-4zM212 836h2v1h-2zM274 836h6v1h-6zM285 836h2v1h-2zM335 836h2v1h-2zM346 836h3v1h-3zM382 836h2v1h-2zM633 836h2v1h-2zM637 836h2v1h-2zM1007 836h2v1h-2zM1075 836h5v1h-5zM1200 836h4v1h-4zM131 844h2v1h-2zM146 844h3v1h-3zM177 844h2v1h-2zM184 844h4v1h-4zM454 844h2v1h-2zM821 844h3v1h-3zM864 844h4v1h-4zM474 850h2v1h-2zM1032 850h6v1h-6zM506 823h2v1h-2zM715 823h5v1h-5zM914 823h2v1h-2zM954 823h6v1h-6zM1265 823h2v1h-2zM397 839h2v1h-2zM794 839h4v1h-4zM807 839h2v1h-2zM1111 862h2v1h-2zM1122 862h2v1h-2zM1149 862h2v1h-2zM1158 862h2v1h-2zM437 853h3v1h-3zM1044 853h2v1h-2zM1349 804h3v1h-3zM1358 804h2v1h-2zM1430 804h4v1h-4zM675 810h5v1h-5zM64 872h4v1h-4zM1138 872h2v1h-2zM114 870h2v1h-2zM1131 870h3v1h-3zM779 841h5v1h-5zM789 841h3v1h-3zM811 841h3v1h-3zM1014 841h2v1h-2zM1316 841h2v1h-2zM464 848h6v1h-6zM1025 848h2v1h-2zM1059 848h2v1h-2zM1092 848h2v1h-2zM470 849h4v1h-4zM1027 849h5v1h-5zM98 883h2v1h-2zM530 815h3v1h-3zM658 815h2v1h-2zM1282 815h2v1h-2zM526 816h4v1h-4zM656 816h2v1h-2zM1278 816h4v1h-4zM1347 803h2v1h-2zM1394 803h3v1h-3zM1434 803h6v1h-6zM1371 796h2v1h-2zM1418 796h2v1h-2zM1366 799h2v1h-2zM1377 799h2v1h-2zM1406 799h4v1h-4zM1450 799h2v1h-2zM310 826h4v1h-4zM418 826h2v1h-2zM497 826h2v1h-2zM600 826h2v1h-2zM885 826h2v1h-2zM905 826h2v1h-2zM1249 826h2v1h-2zM1256 826h5v1h-5zM1295 826h2v1h-2zM133 845h3v1h-3zM144 845h2v1h-2zM149 845h2v1h-2zM175 845h2v1h-2zM824 845h2v1h-2zM859 845h5v1h-5zM1019 845h2v1h-2zM1065 845h2v1h-2zM1097 845h3v1h-3zM1172 845h2v1h-2zM536 813h2v1h-2zM0 855h5v1h-5zM710 820h2v1h-2zM1223 820h2v1h-2zM1270 820h2v1h-2zM1338 820h2v1h-2zM1352 805h2v1h-2zM1356 805h2v1h-2zM1427 805h3v1h-3zM49 859h2v1h-2zM192 840h2v1h-2zM328 840h2v1h-2zM387 840h10v1h-10zM792 840h2v1h-2zM809 840h2v1h-2zM442 851h2v1h-2zM1038 851h4v1h-4zM10 858h2v1h-2zM47 858h2v1h-2zM510 821h2v1h-2zM947 821h3v1h-3zM1225 821h2v1h-2zM1268 821h2v1h-2zM533 814h3v1h-3zM1384 801h6v1h-6zM1400 801h2v1h-2zM1445 801h3v1h-3zM1113 863h2v1h-2zM1118 863h4v1h-4zM1151 863h2v1h-2zM1375 798h2v1h-2zM1410 798h4v1h-4zM107 861h2v1h-2zM1109 861h2v1h-2zM1147 861h2v1h-2zM88 879h2v1h-2zM8 857h2v1h-2zM45 857h2v1h-2zM84 876h2v1h-2zM80 877h2v1h-2zM1364 800h2v1h-2zM1379 800h5v1h-5zM1402 800h4v1h-4zM1448 800h2v1h-2zM1354 806h2v1h-2zM1369 797h2v1h-2zM1373 797h2v1h-2zM1414 797h4v1h-4zM59 871h5v1h-5zM1134 871h4v1h-4zM91 881h3v1h-3zM686 808h4v1h-4zM538 812h2v1h-2zM1107 860h2v1h-2zM690 807h2v1h-2zM94 882h4v1h-4zM435 854h2v1h-2zM1046 854h2v1h-2zM857 843h1v1h-1zM450 843h1v1h-1zM983 830h1v1h-1zM29 858h1v2h-1zM115 871h1v1h-1zM724 825h1v2h-1zM777 838h1v1h-1zM933 838h1v2h-1zM546 825h1v2h-1zM25 851h1v2h-1zM872 837h1v1h-1zM725 827h1v1h-1zM694 811h1v2h-1zM1229 826h1v2h-1zM1164 856h1v2h-1zM695 813h1v1h-1zM1328 823h1v3h-1zM196 837h1v1h-1zM542 817h1v2h-1zM1230 828h1v2h-1zM480 842h1v2h-1zM299 831h1v1h-1zM435 853h1v1h-1zM1096 846h1v1h-1zM645 829h1v2h-1zM944 825h1v1h-1zM1126 865h1v1h-1zM543 819h1v2h-1zM1360 803h1v1h-1zM207 833h1v1h-1zM1267 822h1v1h-1zM303 828h1v1h-1zM941 828h1v2h-1zM1248 827h1v1h-1zM124 853h1v2h-1zM127 849h1v2h-1zM31 862h1v2h-1zM423 829h1v1h-1zM431 842h1v3h-1zM1344 809h1v2h-1zM1312 838h1v1h-1zM32 864h1v2h-1zM16 847h1v2h-1zM982 829h1v1h-1zM1313 839h1v1h-1zM1241 832h1v1h-1zM759 828h1v2h-1zM385 838h1v1h-1zM28 856h1v2h-1zM728 831h1v2h-1zM660 813h1v2h-1zM1145 864h1v1h-1zM1325 831h1v2h-1zM21 844h1v2h-1zM199 833h1v2h-1zM386 839h1v1h-1zM964 825h1v1h-1zM545 823h1v2h-1zM1343 811h1v2h-1zM130 845h1v2h-1zM664 807h1v1h-1zM557 833h1v1h-1zM698 817h1v2h-1zM1210 821h1v2h-1zM161 842h1v1h-1zM563 840h1v1h-1zM1106 858h1v2h-1zM119 862h1v2h-1zM834 835h1v2h-1zM971 832h1v1h-1zM856 842h1v1h-1zM430 839h1v3h-1zM1339 819h1v1h-1zM1057 850h1v1h-1zM1290 823h1v1h-1zM617 825h1v2h-1zM408 831h1v1h-1zM868 842h1v2h-1zM871 838h1v2h-1zM114 869h1v1h-1zM1069 842h1v1h-1zM54 864h1v1h-1zM1206 829h1v2h-1zM294 836h1v1h-1zM1103 852h1v2h-1zM757 826h1v1h-1zM1163 858h1v1h-1zM1100 846h1v2h-1zM370 831h1v1h-1zM24 849h1v2h-1zM758 827h1v1h-1zM362 827h1v1h-1zM1084 838h1v2h-1zM1347 804h1v1h-1zM476 848h1v2h-1zM434 850h1v3h-1zM1156 864h1v1h-1zM488 832h1v1h-1zM1232 832h1v2h-1zM644 831h1v2h-1zM248 832h1v1h-1zM606 824h1v1h-1zM647 825h1v2h-1zM541 815h1v2h-1zM544 821h1v2h-1zM693 810h1v1h-1zM321 839h1v2h-1zM970 831h1v1h-1zM556 832h1v1h-1zM42 857h1v2h-1zM1205 831h1v2h-1zM879 829h1v1h-1zM1140 870h1v2h-1zM483 838h1v1h-1zM1143 866h1v2h-1zM754 825h1v1h-1zM168 844h1v1h-1zM203 829h1v1h-1zM932 840h1v1h-1zM34 868h1v2h-1zM1324 833h1v2h-1zM667 802h1v1h-1zM381 835h1v1h-1zM264 835h1v1h-1zM749 831h1v2h-1zM38 864h1v2h-1zM1327 826h1v2h-1zM446 848h1v1h-1zM198 835h1v1h-1zM449 844h1v1h-1zM27 855h1v1h-1zM30 860h1v2h-1zM156 847h1v1h-1zM1342 813h1v2h-1zM210 836h1v1h-1zM1426 804h1v1h-1zM20 843h1v1h-1zM609 820h1v1h-1zM191 841h1v1h-1zM663 808h1v2h-1zM674 809h1v1h-1zM23 848h1v1h-1zM1088 844h1v2h-1zM106 862h1v3h-1zM696 814h1v2h-1zM727 830h1v1h-1zM1239 834h1v1h-1zM126 851h1v1h-1zM327 841h1v1h-1zM87 878h1v1h-1zM118 864h1v2h-1zM697 816h1v1h-1zM403 836h1v1h-1zM15 849h1v2h-1zM925 831h1v2h-1zM320 837h1v2h-1zM68 873h1v1h-1zM624 831h1v1h-1zM1174 844h1v1h-1zM1331 818h1v1h-1zM828 844h1v2h-1zM366 828h1v1h-1zM935 836h1v1h-1zM75 881h1v1h-1zM103 871h1v2h-1zM1311 836h1v2h-1zM1102 850h1v2h-1zM487 833h1v2h-1zM56 867h1v1h-1zM613 820h1v2h-1zM646 827h1v2h-1zM874 834h1v2h-1zM1209 823h1v2h-1zM1166 853h1v2h-1zM1315 842h1v1h-1zM26 853h1v2h-1zM772 831h1v2h-1zM57 868h1v1h-1zM730 834h1v2h-1zM479 844h1v1h-1zM19 841h1v1h-1zM164 841h1v1h-1zM761 831h1v1h-1zM1319 839h1v1h-1zM1087 843h1v1h-1zM753 826h1v2h-1zM692 808h1v2h-1zM985 832h1v1h-1zM102 873h1v3h-1zM943 826h1v1h-1zM650 819h1v2h-1zM232 832h1v1h-1zM410 829h1v1h-1zM1228 824h1v2h-1zM380 834h1v1h-1zM433 848h1v2h-1zM559 835h1v2h-1zM1071 840h1v1h-1zM924 829h1v2h-1zM319 835h1v2h-1zM37 866h1v2h-1zM938 832h1v1h-1zM1178 841h1v1h-1zM1326 828h1v3h-1zM540 813h1v2h-1zM1346 805h1v2h-1zM1127 866h1v1h-1zM1243 830h1v1h-1zM18 843h1v2h-1zM490 830h1v1h-1zM1105 856h1v2h-1zM79 878h1v1h-1zM101 876h1v3h-1zM1056 851h1v1h-1zM1128 867h1v1h-1zM407 832h1v1h-1zM209 835h1v1h-1zM201 831h1v1h-1zM429 837h1v2h-1zM1068 843h1v1h-1zM1162 859h1v1h-1zM858 844h1v1h-1zM984 831h1v1h-1zM41 859h1v2h-1zM83 875h1v1h-1zM1101 848h1v2h-1zM1204 833h1v2h-1zM482 839h1v2h-1zM1142 868h1v1h-1zM22 846h1v2h-1zM1051 857h1v1h-1zM570 830h1v2h-1zM120 860h1v2h-1zM1314 840h1v2h-1zM946 822h1v1h-1zM760 830h1v1h-1zM726 828h1v2h-1zM1169 849h1v1h-1zM163 840h1v1h-1zM447 846h1v2h-1zM129 847h1v1h-1zM14 851h1v2h-1zM729 833h1v1h-1zM666 803h1v2h-1zM322 841h1v2h-1zM565 837h1v1h-1zM1227 822h1v2h-1zM850 835h1v1h-1zM558 834h1v1h-1zM105 865h1v3h-1zM296 834h1v1h-1zM831 840h1v1h-1zM748 833h1v1h-1zM611 818h1v1h-1zM870 840h1v1h-1zM316 829h1v2h-1zM851 836h1v1h-1zM1208 825h1v2h-1zM55 865h1v2h-1zM612 819h1v1h-1zM1104 854h1v2h-1zM478 845h1v2h-1zM428 834h1v3h-1zM1086 841h1v2h-1zM104 868h1v3h-1zM649 821h1v2h-1zM608 821h1v1h-1zM881 827h1v1h-1zM485 836h1v1h-1zM775 835h1v2h-1zM1090 847h1v2h-1zM1238 835h1v1h-1zM965 826h1v1h-1zM1330 819h1v2h-1zM937 833h1v2h-1zM432 845h1v3h-1zM927 834h1v2h-1zM751 829h1v1h-1zM1284 816h1v1h-1zM930 839h1v2h-1zM40 861h1v2h-1zM1341 815h1v2h-1zM923 828h1v1h-1zM975 829h1v1h-1zM158 845h1v1h-1zM197 836h1v1h-1zM669 804h1v1h-1zM315 828h1v1h-1zM873 836h1v1h-1zM170 846h1v1h-1zM108 862h1v1h-1zM1165 855h1v1h-1zM945 823h1v2h-1zM1048 855h1v1h-1zM265 836h1v1h-1zM1272 819h1v1h-1zM665 805h1v2h-1zM109 863h1v1h-1zM405 834h1v1h-1zM1085 840h1v1h-1zM1421 798h1v1h-1zM615 823h1v1h-1zM36 868h1v2h-1zM291 839h1v1h-1zM1160 861h1v1h-1zM100 879h1v3h-1zM1180 839h1v1h-1zM123 855h1v1h-1zM846 832h1v1h-1zM1234 836h1v2h-1zM774 834h1v1h-1zM1089 846h1v1h-1zM1055 852h1v2h-1zM568 833h1v1h-1zM1058 849h1v1h-1zM1184 836h1v1h-1zM451 842h1v1h-1zM1345 807h1v2h-1zM1070 841h1v1h-1zM169 845h1v1h-1zM318 833h1v2h-1zM13 853h1v2h-1zM934 837h1v1h-1zM926 833h1v1h-1zM204 830h1v1h-1zM592 826h1v1h-1zM876 832h1v1h-1zM668 803h1v1h-1zM979 826h1v1h-1zM1168 850h1v2h-1zM561 838h1v1h-1zM58 869h1v2h-1zM648 823h1v2h-1zM1129 868h1v1h-1zM512 820h1v1h-1zM367 829h1v1h-1zM1329 821h1v2h-1zM481 841h1v1h-1zM1130 869h1v1h-1zM1141 869h1v1h-1zM211 837h1v1h-1zM1073 838h1v1h-1zM830 841h1v2h-1zM298 832h1v1h-1zM940 830h1v1h-1zM731 836h1v1h-1zM17 845h1v2h-1zM165 842h1v1h-1zM1233 834h1v2h-1zM355 832h1v1h-1zM762 832h1v1h-1zM1340 817h1v2h-1zM260 832h1v1h-1zM69 874h1v1h-1zM1236 837h1v1h-1zM929 837h1v2h-1zM409 830h1v1h-1zM359 829h1v1h-1zM1207 827h1v2h-1zM261 833h1v1h-1zM317 831h1v2h-1zM1016 842h1v1h-1zM607 822h1v2h-1zM1287 819h1v2h-1zM200 832h1v1h-1zM1053 855h1v1h-1zM107 860h1v1h-1zM1420 797h1v1h-1zM614 822h1v1h-1zM853 838h1v1h-1zM162 841h1v1h-1zM195 838h1v1h-1zM111 865h1v2h-1zM1203 835h1v1h-1zM773 833h1v1h-1zM564 838h1v2h-1zM427 832h1v2h-1zM1309 834h1v1h-1zM302 829h1v1h-1zM1099 844h1v1h-1zM1323 835h1v2h-1zM986 833h1v1h-1zM12 855h1v2h-1zM160 843h1v1h-1zM966 827h1v1h-1zM1091 849h1v1h-1zM1363 801h1v1h-1zM306 826h1v1h-1zM967 828h1v1h-1zM833 837h1v1h-1zM750 830h1v1h-1zM560 837h1v1h-1zM928 836h1v1h-1zM363 826h1v1h-1zM712 821h1v1h-1zM610 819h1v1h-1zM293 837h1v1h-1zM122 856h1v2h-1zM1171 846h1v1h-1zM1308 832h1v2h-1zM852 837h1v1h-1zM567 834h1v2h-1zM880 828h1v1h-1zM484 837h1v1h-1zM1144 865h1v1h-1zM1155 865h1v1h-1zM1175 843h1v1h-1zM404 835h1v1h-1zM99 882h1v1h-1zM1179 840h1v1h-1zM1423 800h1v2h-1zM878 830h1v1h-1zM1012 839h1v1h-1zM776 837h1v1h-1zM39 863h1v1h-1zM157 846h1v1h-1zM974 830h1v1h-1zM72 878h1v1h-1zM978 827h1v1h-1zM1167 852h1v1h-1zM1240 833h1v1h-1zM445 849h1v1h-1zM1125 864h1v1h-1zM1286 818h1v1h-1zM206 832h1v1h-1zM605 825h1v1h-1zM670 805h1v1h-1zM110 864h1v1h-1zM456 845h1v1h-1zM1186 834h1v1h-1zM671 806h1v1h-1zM829 843h1v1h-1zM1072 839h1v1h-1zM936 835h1v1h-1zM1011 838h1v1h-1zM202 830h1v1h-1zM426 831h1v1h-1zM847 833h1v1h-1zM875 833h1v1h-1zM1285 817h1v1h-1zM71 876h1v2h-1zM931 841h1v1h-1zM1170 847h1v2h-1zM448 845h1v1h-1zM1124 863h1v1h-1zM205 831h1v1h-1zM190 842h1v1h-1zM662 810h1v1h-1zM117 866h1v2h-1zM980 827h1v1h-1zM266 837h1v1h-1zM643 833h1v1h-1zM194 839h1v1h-1zM832 838h1v2h-1zM981 828h1v1h-1zM855 840h1v2h-1zM939 831h1v1h-1zM1422 799h1v1h-1zM942 827h1v1h-1zM616 824h1v1h-1zM125 852h1v1h-1zM326 842h1v1h-1zM11 857h1v1h-1zM920 826h1v1h-1zM1235 838h1v1h-1zM358 830h1v1h-1zM1231 830h1v2h-1zM882 826h1v1h-1zM486 835h1v1h-1zM1146 862h1v2h-1zM1052 856h1v1h-1zM78 879h1v1h-1zM121 858h1v2h-1zM70 875h1v1h-1zM562 839h1v1h-1zM90 880h1v1h-1zM155 848h1v1h-1zM82 876h1v1h-1zM1288 821h1v1h-1zM1318 840h1v1h-1zM566 836h1v1h-1zM52 861h1v2h-1zM1289 822h1v1h-1zM1018 844h1v1h-1zM33 866h1v2h-1zM422 828h1v1h-1zM128 848h1v1h-1zM1322 837h1v1h-1zM843 830h1v1h-1zM53 863h1v1h-1zM297 833h1v1h-1zM854 839h1v1h-1zM330 839h1v1h-1zM778 839h1v2h-1zM384 837h1v1h-1zM1242 831h1v1h-1zM113 868h1v1h-1zM1425 803h1v1h-1zM295 835h1v1h-1zM406 833h1v1h-1zM555 831h1v1h-1zM661 811h1v2h-1zM323 844h1v1h-1zM1067 844h1v1h-1zM116 868h1v2h-1zM968 829h1v1h-1zM736 833h1v1h-1zM1017 843h1v1h-1zM569 832h1v1h-1zM969 830h1v1h-1zM1181 838h1v1h-1zM604 826h1v1h-1zM752 828h1v1h-1zM112 867h1v1h-1zM755 824h1v1h-1zM1310 835h1v1h-1zM756 825h1v1h-1zM159 844h1v1h-1zM619 828h1v1h-1zM673 808h1v1h-1zM86 877h1v1h-1zM1013 840h1v1h-1zM1157 863h1v1h-1zM489 831h1v1h-1zM216 834h1v1h-1zM444 850h1v1h-1zM477 847h1v1h-1zM1074 837h1v1h-1zM869 841h1v1h-1zM292 838h1v1h-1zM1161 860h1v1h-1zM73 879h1v1h-1zM51 860h1v1h-1zM1185 835h1v1h-1zM1237 836h1v1h-1zM74 880h1v1h-1zM1368 798h1v1h-1zM35 870h1v1h-1zM1211 820h1v1h-1zM877 831h1v1h-1zM1424 802h1v1h-1zM208 834h1v1h-1zM1054 854h1v1h-1zM618 827h1v1h-1zM672 807h1v1h-1z" fill="#1e90ff"/>
<rect x="0" y="19" width="1686" height="1" fill="#000"/>
<rect x="0" y="572" width="1686" height="1" fill="#000"/>
<rect x="0" y="574" width="1686" height="1" fill="#000"/>
<rect x="0" y="744" width="1686" height="1" fill="#000"/>
<rect x="0" y="746" width="1686" height="1" fill="#000"/>
<rect x="0" y="920" width="1686" height="1" fill="#000"/>
<rect x="1685" y="19" width="1" height="902" fill="#000"/>
<rect x="1731" y="17" width="1" height="916" fill="#dcdcdc"/>
<rect x="1686" y="140" width="2" height="1" fill="#000"/>
<rect x="1686" y="173" width="2" height="1" fill="#000"/>
<rect x="1686" y="206" width="2" height="1" fill="#000"/>
<rect x="1686" y="239" width="2" height="1" fill="#000"/>
<rect x="1686" y="272" width="2" height="1" fill="#000"/>
<rect x="1686" y="305" width="2" height="1" fill="#000"/>
<rect x="1686" y="338" width="2" height="1" fill="#000"/>
<rect x="1686" y="371" width="2" height="1" fill="#000"/>
<rect x="1686" y="404" width="2" height="1" fill="#000"/>
<rect x="1686" y="437" width="2" height="1" fill="#000"/>
<rect x="1686" y="470" width="2" height="1" fill="#000"/>
<rect x="1686" y="503" width="2" height="1" fill="#000"/>
<rect x="1686" y="536" width="2" height="1" fill="#000"/>
<rect x="1686" y="569" width="2" height="1" fill="#000"/>
<rect x="1686" y="41" width="2" height="1" fill="#000"/>
<rect x="1686" y="74" width="2" height="1" fill="#000"/>
<rect x="1686" y="107" width="2" height="1" fill="#000"/>
<rect x="1686" y="576" width="2" height="1" fill="#000"/>
<rect x="1686" y="628" width="2" height="1" fill="#000"/>
<rect x="1686" y="748" width="2" height="1" fill="#000"/>
<rect x="1686" y="919" width="2" height="1" fill="#000"/>
<rect x="59" y="921" width="1" height="3" fill="#000"/>
<rect x="123" y="921" width="1" height="3" fill="#000"/>
<rect x="187" y="921" width="1" height="3" fill="#000"/>
<rect x="251" y="921" width="1" height="3" fill="#000"/>
<rect x="315" y="921" width="1" height="3" fill="#000"/>
<rect x="379" y="921" width="1" height="3" fill="#000"/>
<rect x="443" y="921" width="1" height="3" fill="#000"/>
<rect x="507" y="921" width="1" height="3" fill="#000"/>
<rect x="571" y="921" width="1" height="3" fill="#000"/>
<rect x="635" y="921" width="1" height="3" fill="#000"/>
<rect x="699" y="921" width="1" height="3" fill="#000"/>
<rect x="763" y="921" width="1" height="3" fill="#000"/>
<rect x="827" y="921" width="1" height="3" fill="#000"/>
<rect x="891" y="921" width="1" height="3" fill="#000"/>
<rect x="955" y="921" width="1" height="3" fill="#000"/>
<rect x="1019" y="921" width="1" height="3" fill="#000"/>
<rect x="1083" y="921" width="1" height="3" fill="#000"/>
<rect x="1147" y="921" width="1" height="3" fill="#000"/>
<rect x="1211" y="921" width="1" height="3" fill="#000"/>
<rect x="1275" y="921" width="1" height="3" fill="#000"/>
<rect x="1339" y="921" width="1" height="3" fill="#000"/>
<rect x="1403" y="921" width="1" height="3" fill="#000"/>
<rect x="1680.5" y="33.5" width="4" height="4" fill="#fff" stroke="#ff0000"/>
<polygon points="1460,20 1470,20 1465,25" fill="#c0c0c0"/>
<polygon points="-3,30 5.5,30 1.25,25" fill="#000" shape-rendering="auto"/>
</g>
<rect x="1356" y="76" width="131" height="5" fill="#00ff00" shape-rendering="crispEdges"/>
<line x1="1401.5" y1="115.5" x2="1482" y2="54.5" stroke="#ff0000" stroke-width="3.6" shape-rendering="crispEdges"/>
<polygon points="1477,52.5 1486,48 1489.7,48 1490.2,50 1483.5,59.3" fill="#ff0000" shape-rendering="crispEdges"/>
<rect x="522" y="179" width="10" height="1" fill="#ff0000" shape-rendering="crispEdges"/>
<rect x="460.5" y="170.5" width="61" height="18" fill="#fff" stroke="#ff0000" stroke-width="1" shape-rendering="crispEdges"/>
<text x="462" y="185.8" font-size="16" fill="#ff0000" text-anchor="start" font-weight="normal" textLength="57.5" lengthAdjust="spacingAndGlyphs">25270.2</text>
<rect x="666" y="47" width="9" height="1" fill="#ff0000" shape-rendering="crispEdges"/>
<rect x="604.5" y="38.5" width="61" height="18" fill="#fff" stroke="#ff0000" stroke-width="1" shape-rendering="crispEdges"/>
<text x="606" y="53.8" font-size="16" fill="#ff0000" text-anchor="start" font-weight="normal" textLength="57.5" lengthAdjust="spacingAndGlyphs">26779.3</text>
<rect x="987" y="134" width="11" height="1" fill="#ff0000" shape-rendering="crispEdges"/>
<rect x="998.5" y="125.5" width="60" height="18" fill="#fff" stroke="#ff0000" stroke-width="1" shape-rendering="crispEdges"/>
<text x="1000" y="140.8" font-size="16" fill="#ff0000" text-anchor="start" font-weight="normal" textLength="56.5" lengthAdjust="spacingAndGlyphs">25785.8</text>
<rect x="1130" y="369" width="9" height="1" fill="#ff0000" shape-rendering="crispEdges"/>
<rect x="1068.5" y="360.5" width="61" height="18" fill="#fff" stroke="#ff0000" stroke-width="1" shape-rendering="crispEdges"/>
<text x="1070" y="375.8" font-size="16" fill="#ff0000" text-anchor="start" font-weight="normal" textLength="57.5" lengthAdjust="spacingAndGlyphs">23117.2</text>
<rect x="1306" y="295" width="9" height="1" fill="#ff0000" shape-rendering="crispEdges"/>
<rect x="1244.5" y="286.5" width="61" height="18" fill="#fff" stroke="#ff0000" stroke-width="1" shape-rendering="crispEdges"/>
<text x="1246" y="301.8" font-size="16" fill="#ff0000" text-anchor="start" font-weight="normal" textLength="57.5" lengthAdjust="spacingAndGlyphs">23953.1</text>
<rect x="1220" y="78" width="10" height="1" fill="#ff0000" shape-rendering="crispEdges"/>
<rect x="1230.5" y="66.5" width="73" height="24" fill="#fff" stroke="#ff0000" stroke-width="1" shape-rendering="crispEdges"/>
<text x="1232" y="86.8" font-size="21" fill="#ff0000" text-anchor="start" font-weight="normal" textLength="69.5" lengthAdjust="spacingAndGlyphs">26423.3</text>
<text x="1493" y="101.8" font-size="20.5" fill="#00ff00" style="font-family:&quot;Liberation Sans&quot;,&quot;Noto Serif CJK SC&quot;,&quot;Noto Sans CJK SC&quot;,serif;font-weight:300" textLength="106" lengthAdjust="spacing">多空转折点</text>
<text x="10.5" y="31" font-size="10" fill="#000" text-anchor="start" font-weight="normal" textLength="50" lengthAdjust="spacingAndGlyphs">HK50-,Daily</text>
<text x="67" y="31" font-size="10" fill="#000" text-anchor="start" font-weight="normal" textLength="141" lengthAdjust="spacingAndGlyphs">26544.0 26613.5 26409.0 26609.0</text>
<text x="-1" y="587" font-size="10" fill="#000" text-anchor="start" font-weight="normal" textLength="128" lengthAdjust="spacingAndGlyphs">MACD(12,26,9) 523.04 523.66</text>
<text x="-0.5" y="759" font-size="10" fill="#000" text-anchor="start" font-weight="normal" textLength="67.5" lengthAdjust="spacingAndGlyphs">RSI(14) 69.9750</text>
<text x="1691" y="144" font-size="10" fill="#000" text-anchor="start" font-weight="normal" textLength="33.5" lengthAdjust="spacingAndGlyphs">25721.0</text>
<text x="1691" y="177" font-size="10" fill="#000" text-anchor="start" font-weight="normal" textLength="33.5" lengthAdjust="spacingAndGlyphs">25347.0</text>
<text x="1691" y="210" font-size="10" fill="#000" text-anchor="start" font-weight="normal" textLength="33.5" lengthAdjust="spacingAndGlyphs">24973.0</text>
<text x="1691" y="243" font-size="10" fill="#000" text-anchor="start" font-weight="normal" textLength="33.5" lengthAdjust="spacingAndGlyphs">24588.0</text>
<text x="1691" y="276" font-size="10" fill="#000" text-anchor="start" font-weight="normal" textLength="33.5" lengthAdjust="spacingAndGlyphs">24214.0</text>
<text x="1691" y="309" font-size="10" fill="#000" text-anchor="start" font-weight="normal" textLength="33.5" lengthAdjust="spacingAndGlyphs">23840.0</text>
<text x="1691" y="342" font-size="10" fill="#000" text-anchor="start" font-weight="normal" textLength="33.5" lengthAdjust="spacingAndGlyphs">23466.0</text>
<text x="1691" y="375" font-size="10" fill="#000" text-anchor="start" font-weight="normal" textLength="33.5" lengthAdjust="spacingAndGlyphs">23092.0</text>
<text x="1691" y="408" font-size="10" fill="#000" text-anchor="start" font-weight="normal" textLength="33.5" lengthAdjust="spacingAndGlyphs">22718.0</text>
<text x="1691" y="441" font-size="10" fill="#000" text-anchor="start" font-weight="normal" textLength="33.5" lengthAdjust="spacingAndGlyphs">22344.0</text>
<text x="1691" y="474" font-size="10" fill="#000" text-anchor="start" font-weight="normal" textLength="33.5" lengthAdjust="spacingAndGlyphs">21970.0</text>
<text x="1691" y="507" font-size="10" fill="#000" text-anchor="start" font-weight="normal" textLength="33.5" lengthAdjust="spacingAndGlyphs">21596.0</text>
<text x="1691" y="540" font-size="10" fill="#000" text-anchor="start" font-weight="normal" textLength="33.5" lengthAdjust="spacingAndGlyphs">21222.0</text>
<text x="1691" y="573" font-size="10" fill="#000" text-anchor="start" font-weight="normal" textLength="33.5" lengthAdjust="spacingAndGlyphs">20848.0</text>
<text x="1691" y="45" font-size="10" fill="#000" text-anchor="start" font-weight="normal" textLength="33.5" lengthAdjust="spacingAndGlyphs">26843.0</text>
<text x="1691" y="78" font-size="10" fill="#000" text-anchor="start" font-weight="normal" textLength="33.5" lengthAdjust="spacingAndGlyphs">26469.0</text>
<text x="1691" y="111" font-size="10" fill="#000" text-anchor="start" font-weight="normal" textLength="33.5" lengthAdjust="spacingAndGlyphs">26095.0</text>
<rect x="1687" y="29" width="41" height="11" fill="#ff0000" shape-rendering="crispEdges"/>
<text x="1691" y="38" font-size="10" fill="#fff" text-anchor="start" font-weight="normal" textLength="33.5" lengthAdjust="spacingAndGlyphs">26905.9</text>
<rect x="1687" y="43" width="41" height="11" fill="#ff0000" shape-rendering="crispEdges"/>
<text x="1691" y="52" font-size="10" fill="#fff" text-anchor="start" font-weight="normal" textLength="33.5" lengthAdjust="spacingAndGlyphs">26755.2</text>
<rect x="1687" y="57" width="41" height="11" fill="#000000" shape-rendering="crispEdges"/>
<text x="1691" y="66" font-size="10" fill="#fff" text-anchor="start" font-weight="normal" textLength="33.5" lengthAdjust="spacingAndGlyphs">26609.0</text>
<rect x="1687" y="72" width="41" height="11" fill="#32cd32" shape-rendering="crispEdges"/>
<text x="1691" y="81" font-size="10" fill="#fff" text-anchor="start" font-weight="normal" textLength="33.5" lengthAdjust="spacingAndGlyphs">26423.3</text>
<rect x="1687" y="89" width="41" height="11" fill="#0000ff" shape-rendering="crispEdges"/>
<text x="1691" y="98" font-size="10" fill="#fff" text-anchor="start" font-weight="normal" textLength="33.5" lengthAdjust="spacingAndGlyphs">26228.7</text>
<rect x="1687" y="105" width="41" height="11" fill="#0000ff" shape-rendering="crispEdges"/>
<text x="1691" y="114" font-size="10" fill="#fff" text-anchor="start" font-weight="normal" textLength="33.5" lengthAdjust="spacingAndGlyphs">26045.5</text>
<text x="1689" y="585" font-size="10" fill="#000" text-anchor="start" font-weight="normal" textLength="28" lengthAdjust="spacingAndGlyphs">643.23</text>
<text x="1689" y="632" font-size="10" fill="#000" text-anchor="start" font-weight="normal" textLength="18" lengthAdjust="spacingAndGlyphs">0.00</text>
<text x="1689" y="741" font-size="10" fill="#000" text-anchor="start" font-weight="normal" textLength="36" lengthAdjust="spacingAndGlyphs">-1417.44</text>
<text x="1689" y="756.5" font-size="10" fill="#000" text-anchor="start" font-weight="normal" textLength="15" lengthAdjust="spacingAndGlyphs">100</text>
<text x="1689" y="785.3" font-size="10" fill="#000" text-anchor="start" font-weight="normal" textLength="10" lengthAdjust="spacingAndGlyphs">80</text>
<text x="1689" y="836.3" font-size="10" fill="#000" text-anchor="start" font-weight="normal" textLength="10" lengthAdjust="spacingAndGlyphs">50</text>
<text x="1689" y="897.3" font-size="10" fill="#000" text-anchor="start" font-weight="normal" textLength="10" lengthAdjust="spacingAndGlyphs">15</text>
<text x="1689" y="916.3" font-size="10" fill="#000" text-anchor="start" font-weight="normal" textLength="5" lengthAdjust="spacingAndGlyphs">0</text>
<text x="-5.5" y="932.5" font-size="10" fill="#000" text-anchor="start" font-weight="normal" textLength="46" lengthAdjust="spacingAndGlyphs">2 Mar 2020</text>
<text x="58.5" y="932.5" font-size="10" fill="#000" text-anchor="start" font-weight="normal" textLength="51" lengthAdjust="spacingAndGlyphs">12 Mar 2020</text>
<text x="122.5" y="932.5" font-size="10" fill="#000" text-anchor="start" font-weight="normal" textLength="51" lengthAdjust="spacingAndGlyphs">24 Mar 2020</text>
<text x="186.5" y="932.5" font-size="10" fill="#000" text-anchor="start" font-weight="normal" textLength="46" lengthAdjust="spacingAndGlyphs">3 Apr 2020</text>
<text x="250.5" y="932.5" font-size="10" fill="#000" text-anchor="start" font-weight="normal" textLength="51" lengthAdjust="spacingAndGlyphs">17 Apr 2020</text>
<text x="314.5" y="932.5" font-size="10" fill="#000" text-anchor="start" font-weight="normal" textLength="51" lengthAdjust="spacingAndGlyphs">29 Apr 2020</text>
<text x="378.5" y="932.5" font-size="10" fill="#000" text-anchor="start" font-weight="normal" textLength="51" lengthAdjust="spacingAndGlyphs">13 May 2020</text>
<text x="442.5" y="932.5" font-size="10" fill="#000" text-anchor="start" font-weight="normal" textLength="51" lengthAdjust="spacingAndGlyphs">25 May 2020</text>
<text x="506.5" y="932.5" font-size="10" fill="#000" text-anchor="start" font-weight="normal" textLength="46" lengthAdjust="spacingAndGlyphs">4 Jun 2020</text>
<text x="570.5" y="932.5" font-size="10" fill="#000" text-anchor="start" font-weight="normal" textLength="51" lengthAdjust="spacingAndGlyphs">16 Jun 2020</text>
<text x="634.5" y="932.5" font-size="10" fill="#000" text-anchor="start" font-weight="normal" textLength="51" lengthAdjust="spacingAndGlyphs">29 Jun 2020</text>
<text x="698.5" y="932.5" font-size="10" fill="#000" text-anchor="start" font-weight="normal" textLength="51" lengthAdjust="spacingAndGlyphs">10 Jul 2020</text>
<text x="762.5" y="932.5" font-size="10" fill="#000" text-anchor="start" font-weight="normal" textLength="51" lengthAdjust="spacingAndGlyphs">22 Jul 2020</text>
<text x="826.5" y="932.5" font-size="10" fill="#000" text-anchor="start" font-weight="normal" textLength="46" lengthAdjust="spacingAndGlyphs">3 Aug 2020</text>
<text x="890.5" y="932.5" font-size="10" fill="#000" text-anchor="start" font-weight="normal" textLength="51" lengthAdjust="spacingAndGlyphs">13 Aug 2020</text>
<text x="954.5" y="932.5" font-size="10" fill="#000" text-anchor="start" font-weight="normal" textLength="51" lengthAdjust="spacingAndGlyphs">25 Aug 2020</text>
<text x="1018.5" y="932.5" font-size="10" fill="#000" text-anchor="start" font-weight="normal" textLength="46" lengthAdjust="spacingAndGlyphs">4 Sep 2020</text>
<text x="1082.5" y="932.5" font-size="10" fill="#000" text-anchor="start" font-weight="normal" textLength="51" lengthAdjust="spacingAndGlyphs">16 Sep 2020</text>
<text x="1146.5" y="932.5" font-size="10" fill="#000" text-anchor="start" font-weight="normal" textLength="51" lengthAdjust="spacingAndGlyphs">28 Sep 2020</text>
<text x="1210.5" y="932.5" font-size="10" fill="#000" text-anchor="start" font-weight="normal" textLength="51" lengthAdjust="spacingAndGlyphs">12 Oct 2020</text>
<text x="1274.5" y="932.5" font-size="10" fill="#000" text-anchor="start" font-weight="normal" textLength="51" lengthAdjust="spacingAndGlyphs">22 Oct 2020</text>
<text x="1338.5" y="932.5" font-size="10" fill="#000" text-anchor="start" font-weight="normal" textLength="46" lengthAdjust="spacingAndGlyphs">4 Nov 2020</text>
<text x="1402.5" y="932.5" font-size="10" fill="#000" text-anchor="start" font-weight="normal" textLength="51" lengthAdjust="spacingAndGlyphs">16 Nov 2020</text>
</svg>
<div id="panel">
<div style="left:50px;top:0;width:116px;height:24px;background:#fff"></div>
<div class="btn" style="left:0;top:0;width:50px;height:24px;border-top:1px solid #d04040;box-shadow:inset -1px 0 0 rgba(170,0,0,.45)"><span style="position:absolute;left:10px;top:4px;letter-spacing:-0.9px">SELL</span></div>
<div class="btn" style="left:165px;top:0;width:52px;height:24px;border-top:1px solid #d04040;box-shadow:inset 1px 0 0 rgba(170,0,0,.45),inset -1px 0 0 rgba(170,0,0,.45)"><span style="position:absolute;left:14px;top:4px">BUY</span></div>
<div style="left:52px;top:1px;width:111px;height:21px;border:1px solid #b4b8c4;background:#fff"></div>
<div style="left:53px;top:2px;width:20px;height:19px;background:linear-gradient(#f4f4f4,#dcdcdc 50%,#cfcfcf);border-right:1px solid #b4b8c4"></div>
<div style="left:142px;top:2px;width:20px;height:19px;background:linear-gradient(#f4f4f4,#dcdcdc 50%,#cfcfcf);border-left:1px solid #b4b8c4"></div>
<div style="left:59px;top:9px;width:0;height:0;border-left:3px solid transparent;border-right:3px solid transparent;border-top:3px solid #5060c0"></div>
<div style="left:148px;top:8px;width:0;height:0;border-left:3px solid transparent;border-right:3px solid transparent;border-bottom:3px solid #5060c0"></div>
<div style="left:74px;top:3px;width:64px;height:16px;font-size:12px;line-height:16px;text-align:right;color:#101830">1.00</div>
<div class="px" style="left:0;top:24px;width:107px;height:40px;"><span style="position:absolute;left:14px;top:21px;font-size:11px;font-weight:bold;line-height:12px;letter-spacing:0.75px">26607</span><span style="position:absolute;left:52px;top:1px;font-size:33px;line-height:36px;display:inline-block;transform:scaleX(.87);transform-origin:0 0">.5</span></div>
<div class="px" style="left:109px;top:24px;width:108px;height:40px;"><span style="position:absolute;left:15px;top:21px;font-size:11px;font-weight:bold;line-height:12px;letter-spacing:0.75px">26620</span><span style="position:absolute;left:54px;top:1px;font-size:33px;line-height:36px;display:inline-block;transform:scaleX(.87);transform-origin:0 0">.5</span></div>
<div style="left:2px;top:23px;width:44px;height:1px;background:#a01414"></div>
<div style="left:2px;top:24px;width:44px;height:1px;background:#ee6c6c"></div>
<div style="left:169px;top:23px;width:44px;height:1px;background:#a01414"></div>
<div style="left:169px;top:24px;width:44px;height:1px;background:#ee6c6c"></div>
</div>
</body></html>
